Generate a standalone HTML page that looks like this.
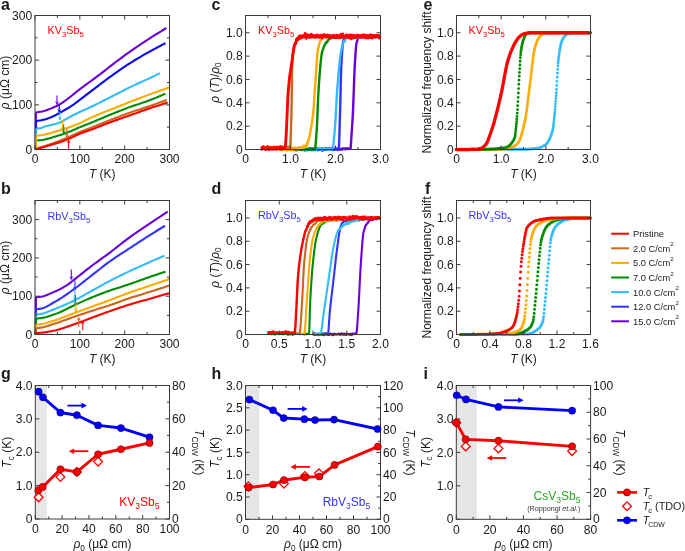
<!DOCTYPE html><html><head><meta charset="utf-8"><style>html,body{margin:0;padding:0;background:#fff;overflow:hidden}svg{display:block;will-change:transform}</style></head><body><svg width="685" height="551" viewBox="0 0 685 551" font-family='"Liberation Sans", sans-serif' fill="#1a1a1a">
<rect width="685" height="551" fill="#fff"/>
<path d="M35.9 149.5L35.9 113.98Q35.9 111.98 37.9 111.98L38.98 111.89 40.64 111.79 42.29 111.53 43.94 111.1 45.6 110.56 47.25 109.94 48.91 109.28 50.56 108.63 52.22 107.99 53.87 107.29 55.52 106.54 57.18 105.72 58.83 104.84 60.49 103.9 62.14 102.85 63.8 101.71 65.45 100.51 67.1 99.27 68.76 98.03 70.41 96.77 72.07 95.46 73.72 94.11 75.38 92.76 77.03 91.41 78.68 90.09 80.34 88.81 81.99 87.57 83.65 86.35 85.3 85.14 86.96 83.94 88.61 82.73 90.26 81.52 91.92 80.31 93.57 79.1 95.23 77.89 96.88 76.68 98.54 75.46 100.19 74.22 101.84 72.95 103.5 71.66 105.15 70.36 106.81 69.04 108.46 67.72 110.12 66.4 111.77 65.09 113.42 63.8 115.08 62.53 116.73 61.28 118.39 60.04 120.04 58.8 121.7 57.58 123.35 56.36 125 55.15 126.66 53.96 128.31 52.78 129.97 51.6 131.62 50.45 133.28 49.3 134.93 48.16 136.58 47.03 138.24 45.91 139.89 44.8 141.55 43.7 143.2 42.6 144.86 41.52 146.51 40.44 148.16 39.37 149.82 38.3 151.47 37.24 153.13 36.19 154.78 35.14 156.44 34.1 158.09 33.06 159.74 32.04 161.4 31.02 163.05 30.01 164.71 29 166.36 28.01" stroke="#6a00dd" stroke-width="2.1" fill="none" stroke-linejoin="round"/>
<path d="M35.9 149.5L35.9 122.69Q35.9 120.69 37.9 120.69L38.96 120.54 40.6 120.39 42.24 120.06 43.89 119.62 45.53 119.16 47.17 118.66 48.82 118.09 50.46 117.47 52.1 116.8 53.74 116.08 55.39 115.26 57.03 114.36 58.67 113.43 60.32 112.51 61.96 111.59 63.6 110.66 65.25 109.72 66.89 108.77 68.53 107.78 70.17 106.77 71.82 105.72 73.46 104.62 75.1 103.44 76.75 102.2 78.39 100.93 80.03 99.66 81.67 98.41 83.32 97.15 84.96 95.88 86.6 94.6 88.25 93.34 89.89 92.07 91.53 90.82 93.18 89.56 94.82 88.31 96.46 87.05 98.1 85.8 99.75 84.54 101.39 83.3 103.03 82.06 104.68 80.83 106.32 79.61 107.96 78.4 109.6 77.21 111.25 76.03 112.89 74.85 114.53 73.68 116.18 72.52 117.82 71.36 119.46 70.21 121.11 69.08 122.75 67.95 124.39 66.84 126.03 65.74 127.68 64.66 129.32 63.6 130.96 62.55 132.61 61.52 134.25 60.51 135.89 59.51 137.53 58.53 139.18 57.56 140.82 56.6 142.46 55.65 144.11 54.7 145.75 53.77 147.39 52.85 149.04 51.93 150.68 51.02 152.32 50.11 153.96 49.22 155.61 48.33 157.25 47.45 158.89 46.58 160.54 45.72 162.18 44.87 163.82 44.03 165.47 43.19" stroke="#0a0af5" stroke-width="2.1" fill="none" stroke-linejoin="round"/>
<path d="M35.9 149.5L35.9 130.51Q35.9 128.51 37.9 128.51L38.82 128.38 40.4 128.22 41.97 127.7 43.55 127 45.12 126.42 46.7 125.99 48.27 125.61 49.85 125.24 51.42 124.87 53 124.47 54.57 124.06 56.15 123.64 57.72 123.18 59.3 122.66 60.87 122 62.44 121.18 64.02 120.27 65.59 119.34 67.17 118.47 68.74 117.59 70.32 116.71 71.89 115.83 73.47 114.99 75.04 114.19 76.62 113.44 78.19 112.71 79.77 111.99 81.34 111.27 82.92 110.56 84.49 109.86 86.07 109.16 87.64 108.45 89.22 107.72 90.79 106.98 92.37 106.23 93.94 105.47 95.52 104.7 97.09 103.92 98.67 103.13 100.24 102.34 101.82 101.55 103.39 100.75 104.97 99.95 106.54 99.15 108.12 98.35 109.69 97.56 111.26 96.76 112.84 95.96 114.41 95.15 115.99 94.34 117.56 93.52 119.14 92.7 120.71 91.89 122.29 91.08 123.86 90.27 125.44 89.47 127.01 88.68 128.59 87.89 130.16 87.13 131.74 86.37 133.31 85.64 134.89 84.91 136.46 84.19 138.04 83.48 139.61 82.78 141.19 82.07 142.76 81.36 144.34 80.64 145.91 79.92 147.49 79.18 149.06 78.44 150.64 77.69 152.21 76.94 153.79 76.18 155.36 75.42 156.94 74.66 158.51 73.89 160.09 73.12" stroke="#33bbff" stroke-width="2.1" fill="none" stroke-linejoin="round"/>
<path d="M35.9 149.5L35.9 142.3Q35.9 140.3 37.9 140.3L38.96 140.24 40.6 140.17 42.24 139.97 43.89 139.66 45.53 139.28 47.17 138.87 48.82 138.47 50.46 138.05 52.1 137.6 53.74 137.11 55.39 136.59 57.03 136.06 58.67 135.53 60.32 134.99 61.96 134.44 63.6 133.88 65.25 133.3 66.89 132.71 68.53 132.1 70.17 131.46 71.82 130.8 73.46 130.08 75.1 129.33 76.75 128.56 78.39 127.81 80.03 127.09 81.67 126.42 83.32 125.78 84.96 125.15 86.6 124.52 88.25 123.89 89.89 123.25 91.53 122.58 93.18 121.9 94.82 121.22 96.46 120.52 98.1 119.82 99.75 119.11 101.39 118.41 103.03 117.7 104.68 117 106.32 116.31 107.96 115.62 109.6 114.95 111.25 114.29 112.89 113.63 114.53 112.97 116.18 112.32 117.82 111.67 119.46 111.02 121.11 110.38 122.75 109.75 124.39 109.12 126.03 108.5 127.68 107.88 129.32 107.27 130.96 106.67 132.61 106.09 134.25 105.52 135.89 104.97 137.53 104.42 139.18 103.88 140.82 103.33 142.46 102.79 144.11 102.23 145.75 101.66 147.39 101.08 149.04 100.48 150.68 99.85 152.32 99.21 153.96 98.56 155.61 97.9 157.25 97.22 158.89 96.53 160.54 95.83 162.18 95.12 163.82 94.4 165.47 93.67" stroke="#008c00" stroke-width="2.1" fill="none" stroke-linejoin="round"/>
<path d="M35.9 149.5L35.9 137.43Q35.9 135.43 37.9 135.43L39.06 135.37 40.75 135.29 42.45 135.06 44.14 134.72 45.84 134.3 47.53 133.87 49.22 133.45 50.92 133 52.61 132.51 54.31 131.99 56 131.45 57.69 130.91 59.39 130.38 61.08 129.86 62.78 129.34 64.47 128.82 66.16 128.29 67.86 127.75 69.55 127.18 71.25 126.58 72.94 125.96 74.63 125.3 76.33 124.62 78.02 123.91 79.72 123.17 81.41 122.4 83.11 121.57 84.8 120.69 86.49 119.81 88.19 118.95 89.88 118.13 91.58 117.37 93.27 116.63 94.96 115.91 96.66 115.2 98.35 114.51 100.05 113.83 101.74 113.15 103.43 112.48 105.13 111.81 106.82 111.14 108.52 110.47 110.21 109.79 111.9 109.11 113.6 108.42 115.29 107.74 116.99 107.06 118.68 106.38 120.37 105.7 122.07 105.03 123.76 104.35 125.46 103.68 127.15 103.01 128.84 102.35 130.54 101.69 132.23 101.03 133.93 100.38 135.62 99.72 137.31 99.07 139.01 98.43 140.7 97.78 142.4 97.14 144.09 96.5 145.78 95.87 147.48 95.24 149.17 94.62 150.87 94 152.56 93.38 154.25 92.77 155.95 92.16 157.64 91.55 159.34 90.95 161.03 90.35 162.72 89.76 164.42 89.16 166.11 88.58 167.81 87.99 169.5 87.41" stroke="#ffaa00" stroke-width="2.1" fill="none" stroke-linejoin="round"/>
<path d="M35.67 149.05 37.33 148.42 38.99 147.82 40.65 147.25 42.31 146.72 43.97 146.21 45.63 145.7 47.29 145.19 48.95 144.64 50.61 144.08 52.27 143.5 53.93 142.92 55.59 142.32 57.25 141.7 58.91 141.08 60.57 140.43 62.23 139.77 63.89 139.09 65.55 138.39 67.21 137.69 68.87 136.97 70.53 136.25 72.19 135.51 73.85 134.74 75.51 133.96 77.17 133.18 78.83 132.43 80.49 131.73 82.15 131.06 83.81 130.43 85.47 129.81 87.13 129.2 88.79 128.58 90.45 127.94 92.11 127.29 93.77 126.63 95.43 125.97 97.09 125.3 98.75 124.64 100.41 123.97 102.07 123.29 103.73 122.63 105.39 121.96 107.05 121.3 108.71 120.65 110.37 120 112.03 119.36 113.69 118.71 115.35 118.07 117.01 117.43 118.67 116.8 120.33 116.17 121.99 115.54 123.65 114.92 125.31 114.3 126.97 113.69 128.63 113.09 130.29 112.5 131.95 111.92 133.61 111.35 135.27 110.8 136.93 110.25 138.59 109.71 140.25 109.17 141.91 108.63 143.57 108.09 145.23 107.55 146.89 107 148.55 106.44 150.21 105.87 151.87 105.29 153.53 104.71 155.19 104.13 156.85 103.54 158.51 102.94 160.17 102.35 161.83 101.75 163.49 101.14 165.15 100.53 166.81 99.92" stroke="#cc6619" stroke-width="2.1" fill="none" stroke-linejoin="round"/>
<path d="M35.67 149.5 37.34 148.96 39.02 148.44 40.69 147.93 42.36 147.45 44.03 146.97 45.7 146.49 47.37 146.02 49.04 145.53 50.71 145.05 52.39 144.57 54.06 144.1 55.73 143.6 57.4 143.09 59.07 142.55 60.74 141.97 62.41 141.36 64.08 140.71 65.76 140.04 67.43 139.35 69.1 138.64 70.77 137.93 72.44 137.18 74.11 136.38 75.78 135.56 77.46 134.76 79.13 133.99 80.8 133.3 82.47 132.68 84.14 132.09 85.81 131.52 87.48 130.96 89.15 130.38 90.83 129.77 92.5 129.15 94.17 128.51 95.84 127.87 97.51 127.22 99.18 126.56 100.85 125.9 102.53 125.24 104.2 124.59 105.87 123.94 107.54 123.3 109.21 122.67 110.88 122.05 112.55 121.44 114.22 120.83 115.9 120.24 117.57 119.64 119.24 119.05 120.91 118.47 122.58 117.88 124.25 117.3 125.92 116.72 127.6 116.13 129.27 115.54 130.94 114.95 132.61 114.35 134.28 113.75 135.95 113.14 137.62 112.54 139.29 111.93 140.97 111.33 142.64 110.73 144.31 110.14 145.98 109.55 147.65 108.97 149.32 108.41 150.99 107.85 152.66 107.3 154.34 106.75 156.01 106.21 157.68 105.68 159.35 105.15 161.02 104.63 162.69 104.11 164.36 103.6 166.04 103.1 167.71 102.6" stroke="#ff0000" stroke-width="2.1" fill="none" stroke-linejoin="round"/>
<path d="M56.97 95.45L56.97 104.39" stroke="#6a00dd" stroke-width="1.1"/>
<path d="M55.67 101.59L56.97 104.39L58.27 101.59" stroke="#6a00dd" stroke-width="0.9" fill="none"/>
<path d="M59.21 103.49L59.21 111.98" stroke="#0a0af5" stroke-width="1.1"/>
<path d="M57.91 109.18L59.21 111.98L60.51 109.18" stroke="#0a0af5" stroke-width="0.9" fill="none"/>
<path d="M59.88 111.98L59.88 120.02" stroke="#33bbff" stroke-width="1.1"/>
<path d="M58.58 117.22L59.88 120.02L61.18 117.22" stroke="#33bbff" stroke-width="0.9" fill="none"/>
<path d="M62.57 120.47L62.57 130.29" stroke="#ffaa00" stroke-width="1.1"/>
<path d="M61.27 127.49L62.57 130.29L63.87 127.49" stroke="#ffaa00" stroke-width="0.9" fill="none"/>
<path d="M63.69 124.49L63.69 133.42" stroke="#008c00" stroke-width="1.1"/>
<path d="M62.39 130.62L63.69 133.42L64.99 130.62" stroke="#008c00" stroke-width="0.9" fill="none"/>
<path d="M66.83 128.51L66.83 136.99" stroke="#cc6619" stroke-width="1.1"/>
<path d="M65.53 134.19L66.83 136.99L68.13 134.19" stroke="#cc6619" stroke-width="0.9" fill="none"/>
<path d="M68.62 149.5L68.62 140.12" stroke="#ff0000" stroke-width="1.1"/>
<path d="M67.33 142.92L68.62 140.12L69.92 142.92" stroke="#ff0000" stroke-width="0.9" fill="none"/>
<rect x="35" y="15.5" width="134.5" height="134" fill="none" stroke="#3a3a3a" stroke-width="1"/>
<path d="M35 149.5v-4.0M35 15.5v4.0M79.83 149.5v-4.0M79.83 15.5v4.0M124.67 149.5v-4.0M124.67 15.5v4.0M169.5 149.5v-4.0M169.5 15.5v4.0M57.42 149.5v-2.5M57.42 15.5v2.5M102.25 149.5v-2.5M102.25 15.5v2.5M147.08 149.5v-2.5M147.08 15.5v2.5" stroke="#3a3a3a" stroke-width="1" fill="none"/>
<text x="35" y="163.1" text-anchor="middle" font-size="12.1">0</text>
<text x="79.83" y="163.1" text-anchor="middle" font-size="12.1">100</text>
<text x="124.67" y="163.1" text-anchor="middle" font-size="12.1">200</text>
<text x="169.5" y="163.1" text-anchor="middle" font-size="12.1">300</text>
<path d="M35 149.5h4.0M169.5 149.5h-4.0M35 104.83h4.0M169.5 104.83h-4.0M35 60.17h4.0M169.5 60.17h-4.0M35 15.5h4.0M169.5 15.5h-4.0M35 127.17h2.5M169.5 127.17h-2.5M35 82.5h2.5M169.5 82.5h-2.5M35 37.83h2.5M169.5 37.83h-2.5" stroke="#3a3a3a" stroke-width="1" fill="none"/>
<text x="32.2" y="153.6" text-anchor="end" font-size="12.1">0</text>
<text x="32.2" y="108.93" text-anchor="end" font-size="12.1">100</text>
<text x="32.2" y="64.27" text-anchor="end" font-size="12.1">200</text>
<text x="32.2" y="19.6" text-anchor="end" font-size="12.1">300</text>
<text x="47.5" y="34.3" font-size="10.8" fill="#ff0000" text-anchor="start"><tspan>KV</tspan><tspan font-size="7.78" dy="3.02">3</tspan><tspan dy="-3.02">Sb</tspan><tspan font-size="7.78" dy="3.02">5</tspan></text>
<path d="M35.9 334.5L35.9 298.98Q35.9 296.98 37.9 296.98L39.02 296.89 40.69 296.76 42.36 296.47 44.03 296.04 45.7 295.49 47.37 294.84 49.04 294.14 50.71 293.4 52.39 292.64 54.06 291.91 55.73 291.19 57.4 290.43 59.07 289.62 60.74 288.76 62.41 287.85 64.08 286.89 65.76 285.88 67.43 284.81 69.1 283.6 70.77 282.3 72.44 280.96 74.11 279.63 75.78 278.34 77.46 277.03 79.13 275.71 80.8 274.38 82.47 273.06 84.14 271.73 85.81 270.41 87.48 269.09 89.15 267.8 90.83 266.52 92.5 265.26 94.17 264.01 95.84 262.79 97.51 261.57 99.18 260.36 100.85 259.16 102.53 257.95 104.2 256.75 105.87 255.53 107.54 254.3 109.21 253.06 110.88 251.81 112.55 250.52 114.22 249.23 115.9 247.92 117.57 246.6 119.24 245.28 120.91 243.96 122.58 242.64 124.25 241.34 125.92 240.06 127.6 238.79 129.27 237.55 130.94 236.34 132.61 235.16 134.28 233.99 135.95 232.83 137.62 231.69 139.29 230.56 140.97 229.44 142.64 228.32 144.31 227.21 145.98 226.1 147.65 224.98 149.32 223.86 150.99 222.73 152.66 221.61 154.34 220.49 156.01 219.37 157.68 218.25 159.35 217.14 161.02 216.03 162.69 214.92 164.36 213.81 166.04 212.71 167.71 211.6" stroke="#6a00dd" stroke-width="2.1" fill="none" stroke-linejoin="round"/>
<path d="M35.9 334.5L35.9 311Q35.9 309 37.9 309L38.95 308.88 40.58 308.73 42.22 308.36 43.86 307.81 45.5 307.11 47.13 306.28 48.77 305.38 50.41 304.43 52.05 303.47 53.68 302.53 55.32 301.64 56.96 300.72 58.59 299.74 60.23 298.73 61.87 297.67 63.51 296.58 65.14 295.46 66.78 294.32 68.42 293.17 70.06 292 71.69 290.82 73.33 289.65 74.97 288.46 76.6 287.25 78.24 286.01 79.88 284.74 81.52 283.46 83.15 282.16 84.79 280.86 86.43 279.55 88.07 278.26 89.7 276.97 91.34 275.69 92.98 274.41 94.61 273.13 96.25 271.83 97.89 270.54 99.53 269.24 101.16 267.95 102.8 266.68 104.44 265.41 106.08 264.17 107.71 262.94 109.35 261.75 110.99 260.58 112.62 259.44 114.26 258.32 115.9 257.21 117.54 256.12 119.17 255.04 120.81 253.97 122.45 252.91 124.08 251.85 125.72 250.79 127.36 249.73 129 248.66 130.63 247.59 132.27 246.51 133.91 245.43 135.55 244.36 137.18 243.28 138.82 242.21 140.46 241.14 142.09 240.07 143.73 239.02 145.37 237.96 147.01 236.92 148.64 235.88 150.28 234.85 151.92 233.82 153.56 232.8 155.19 231.78 156.83 230.76 158.47 229.75 160.1 228.75 161.74 227.75 163.38 226.76 165.02 225.77" stroke="#3333ff" stroke-width="2.1" fill="none" stroke-linejoin="round"/>
<path d="M35.9 334.5L35.9 316.21Q35.9 314.21 37.9 314.21L38.94 314.06 40.57 313.9 42.2 313.61 43.83 313.19 45.46 312.67 47.09 312.08 48.73 311.43 50.36 310.76 51.99 310.08 53.62 309.43 55.25 308.81 56.88 308.18 58.51 307.54 60.15 306.88 61.78 306.21 63.41 305.51 65.04 304.8 66.67 304.08 68.3 303.34 69.94 302.58 71.57 301.82 73.2 301.04 74.83 300.24 76.46 299.41 78.09 298.55 79.73 297.66 81.36 296.75 82.99 295.82 84.62 294.89 86.25 293.95 87.88 293.01 89.52 292.09 91.15 291.18 92.78 290.28 94.41 289.37 96.04 288.46 97.67 287.55 99.3 286.64 100.94 285.73 102.57 284.83 104.2 283.93 105.83 283.04 107.46 282.17 109.09 281.31 110.73 280.46 112.36 279.62 113.99 278.78 115.62 277.96 117.25 277.14 118.88 276.33 120.52 275.52 122.15 274.72 123.78 273.93 125.41 273.15 127.04 272.37 128.67 271.59 130.3 270.82 131.94 270.06 133.57 269.31 135.2 268.57 136.83 267.84 138.46 267.11 140.09 266.38 141.73 265.66 143.36 264.94 144.99 264.22 146.62 263.49 148.25 262.77 149.88 262.05 151.52 261.33 153.15 260.61 154.78 259.89 156.41 259.18 158.04 258.47 159.67 257.75 161.31 257.05 162.94 256.34 164.57 255.63" stroke="#33bbff" stroke-width="2.1" fill="none" stroke-linejoin="round"/>
<path d="M35.9 334.5L35.9 320.42Q35.9 318.42 37.9 318.42L38.96 318.27 40.6 318.12 42.24 317.88 43.89 317.55 45.53 317.15 47.17 316.69 48.82 316.18 50.46 315.64 52.1 315.09 53.74 314.54 55.39 313.98 57.03 313.38 58.67 312.72 60.32 312.02 61.96 311.27 63.6 310.49 65.25 309.69 66.89 308.88 68.53 308.06 70.17 307.25 71.82 306.45 73.46 305.67 75.1 304.92 76.75 304.16 78.39 303.41 80.03 302.65 81.67 301.89 83.32 301.13 84.96 300.39 86.6 299.65 88.25 298.93 89.89 298.23 91.53 297.54 93.18 296.87 94.82 296.21 96.46 295.56 98.1 294.92 99.75 294.29 101.39 293.67 103.03 293.06 104.68 292.45 106.32 291.85 107.96 291.26 109.6 290.68 111.25 290.11 112.89 289.55 114.53 289 116.18 288.46 117.82 287.94 119.46 287.41 121.11 286.89 122.75 286.36 124.39 285.84 126.03 285.3 127.68 284.76 129.32 284.21 130.96 283.65 132.61 283.07 134.25 282.48 135.89 281.88 137.53 281.28 139.18 280.68 140.82 280.08 142.46 279.48 144.11 278.89 145.75 278.3 147.39 277.73 149.04 277.16 150.68 276.6 152.32 276.04 153.96 275.49 155.61 274.94 157.25 274.39 158.89 273.85 160.54 273.31 162.18 272.77 163.82 272.24 165.47 271.71" stroke="#008c00" stroke-width="2.1" fill="none" stroke-linejoin="round"/>
<path d="M35.9 334.5L35.9 326.55Q35.9 324.55 37.9 324.55L39.06 324.39 40.75 324.23 42.45 323.96 44.14 323.59 45.84 323.15 47.53 322.66 49.22 322.12 50.92 321.56 52.61 321 54.31 320.46 56 319.94 57.69 319.38 59.39 318.79 61.08 318.18 62.78 317.55 64.47 316.9 66.16 316.25 67.86 315.59 69.55 314.93 71.25 314.27 72.94 313.62 74.63 312.99 76.33 312.37 78.02 311.74 79.72 311.12 81.41 310.49 83.11 309.86 84.8 309.24 86.49 308.61 88.19 307.99 89.88 307.36 91.58 306.74 93.27 306.12 94.96 305.5 96.66 304.88 98.35 304.27 100.05 303.65 101.74 303.03 103.43 302.42 105.13 301.8 106.82 301.17 108.52 300.55 110.21 299.92 111.9 299.28 113.6 298.63 115.29 297.98 116.99 297.33 118.68 296.67 120.37 296.02 122.07 295.36 123.76 294.71 125.46 294.07 127.15 293.44 128.84 292.82 130.54 292.21 132.23 291.61 133.93 291.03 135.62 290.45 137.31 289.88 139.01 289.31 140.7 288.75 142.4 288.19 144.09 287.63 145.78 287.07 147.48 286.5 149.17 285.93 150.87 285.35 152.56 284.78 154.25 284.2 155.95 283.62 157.64 283.05 159.34 282.47 161.03 281.89 162.72 281.31 164.42 280.73 166.11 280.15 167.81 279.57 169.5 278.99" stroke="#ffaa00" stroke-width="2.1" fill="none" stroke-linejoin="round"/>
<path d="M35.9 334.5L35.9 329.99Q35.9 327.99 37.9 327.99L39.06 327.83 40.75 327.67 42.45 327.38 44.14 327 45.84 326.53 47.53 326 49.22 325.43 50.92 324.85 52.61 324.27 54.31 323.72 56 323.19 57.69 322.64 59.39 322.07 61.08 321.48 62.78 320.88 64.47 320.27 66.16 319.66 67.86 319.04 69.55 318.43 71.25 317.82 72.94 317.22 74.63 316.64 76.33 316.06 78.02 315.48 79.72 314.91 81.41 314.34 83.11 313.77 84.8 313.2 86.49 312.64 88.19 312.08 89.88 311.52 91.58 310.97 93.27 310.43 94.96 309.9 96.66 309.37 98.35 308.85 100.05 308.33 101.74 307.81 103.43 307.28 105.13 306.75 106.82 306.21 108.52 305.66 110.21 305.1 111.9 304.52 113.6 303.92 115.29 303.32 116.99 302.7 118.68 302.08 120.37 301.46 122.07 300.83 123.76 300.21 125.46 299.6 127.15 299 128.84 298.42 130.54 297.85 132.23 297.3 133.93 296.76 135.62 296.22 137.31 295.7 139.01 295.18 140.7 294.66 142.4 294.15 144.09 293.63 145.78 293.11 147.48 292.58 149.17 292.05 150.87 291.51 152.56 290.97 154.25 290.43 155.95 289.89 157.64 289.35 159.34 288.8 161.03 288.25 162.72 287.71 164.42 287.15 166.11 286.6 167.81 286.05 169.5 285.49" stroke="#cc6619" stroke-width="2.1" fill="none" stroke-linejoin="round"/>
<path d="M35.67 333.08 37.37 333.02 39.06 332.92 40.75 332.79 42.45 332.62 44.14 332.4 45.84 332.16 47.53 331.88 49.22 331.58 50.92 331.25 52.61 330.92 54.31 330.57 56 330.2 57.69 329.78 59.39 329.31 61.08 328.8 62.78 328.26 64.47 327.69 66.16 327.11 67.86 326.51 69.55 325.9 71.25 325.29 72.94 324.69 74.63 324.1 76.33 323.51 78.02 322.9 79.72 322.28 81.41 321.65 83.11 321.02 84.8 320.38 86.49 319.74 88.19 319.1 89.88 318.47 91.58 317.84 93.27 317.22 94.96 316.59 96.66 315.96 98.35 315.33 100.05 314.7 101.74 314.08 103.43 313.45 105.13 312.84 106.82 312.23 108.52 311.62 110.21 311.03 111.9 310.44 113.6 309.85 115.29 309.26 116.99 308.68 118.68 308.1 120.37 307.53 122.07 306.97 123.76 306.41 125.46 305.86 127.15 305.31 128.84 304.78 130.54 304.26 132.23 303.74 133.93 303.24 135.62 302.75 137.31 302.27 139.01 301.79 140.7 301.31 142.4 300.84 144.09 300.37 145.78 299.89 147.48 299.42 149.17 298.94 150.87 298.45 152.56 297.97 154.25 297.49 155.95 297.01 157.64 296.52 159.34 296.04 161.03 295.56 162.72 295.08 164.42 294.6 166.11 294.11 167.81 293.63 169.5 293.15" stroke="#ff0000" stroke-width="2.1" fill="none" stroke-linejoin="round"/>
<path d="M71.31 269.41L71.31 279.37" stroke="#6a00dd" stroke-width="1.1"/>
<path d="M70.02 276.57L71.31 279.37L72.61 276.57" stroke="#6a00dd" stroke-width="0.9" fill="none"/>
<path d="M74.9 279.75L74.9 289.71" stroke="#3333ff" stroke-width="1.1"/>
<path d="M73.6 286.91L74.9 289.71L76.2 286.91" stroke="#3333ff" stroke-width="0.9" fill="none"/>
<path d="M74.9 289.71L74.9 300.43" stroke="#33bbff" stroke-width="1.1"/>
<path d="M73.6 297.63L74.9 300.43L76.2 297.63" stroke="#33bbff" stroke-width="0.9" fill="none"/>
<path d="M75.35 295.07L75.35 305.02" stroke="#008c00" stroke-width="1.1"/>
<path d="M74.05 302.22L75.35 305.02L76.65 302.22" stroke="#008c00" stroke-width="0.9" fill="none"/>
<path d="M75.8 302.72L75.8 312.29" stroke="#ffaa00" stroke-width="1.1"/>
<path d="M74.5 309.49L75.8 312.29L77.1 309.49" stroke="#ffaa00" stroke-width="0.9" fill="none"/>
<path d="M78.71 326.84L78.71 317.65" stroke="#cc6619" stroke-width="1.1"/>
<path d="M77.41 320.45L78.71 317.65L80.01 320.45" stroke="#cc6619" stroke-width="0.9" fill="none"/>
<path d="M82.75 330.29L82.75 321.1" stroke="#ff0000" stroke-width="1.1"/>
<path d="M81.45 323.9L82.75 321.1L84.05 323.9" stroke="#ff0000" stroke-width="0.9" fill="none"/>
<rect x="35" y="200.5" width="134.5" height="134" fill="none" stroke="#3a3a3a" stroke-width="1"/>
<path d="M35 334.5v-4.0M35 200.5v4.0M79.83 334.5v-4.0M79.83 200.5v4.0M124.67 334.5v-4.0M124.67 200.5v4.0M169.5 334.5v-4.0M169.5 200.5v4.0M57.42 334.5v-2.5M57.42 200.5v2.5M102.25 334.5v-2.5M102.25 200.5v2.5M147.08 334.5v-2.5M147.08 200.5v2.5" stroke="#3a3a3a" stroke-width="1" fill="none"/>
<text x="35" y="348.1" text-anchor="middle" font-size="12.1">0</text>
<text x="79.83" y="348.1" text-anchor="middle" font-size="12.1">100</text>
<text x="124.67" y="348.1" text-anchor="middle" font-size="12.1">200</text>
<text x="169.5" y="348.1" text-anchor="middle" font-size="12.1">300</text>
<path d="M35 334.5h4.0M169.5 334.5h-4.0M35 296.21h4.0M169.5 296.21h-4.0M35 257.93h4.0M169.5 257.93h-4.0M35 219.64h4.0M169.5 219.64h-4.0M35 315.36h2.5M169.5 315.36h-2.5M35 277.07h2.5M169.5 277.07h-2.5M35 238.79h2.5M169.5 238.79h-2.5" stroke="#3a3a3a" stroke-width="1" fill="none"/>
<text x="32.2" y="338.6" text-anchor="end" font-size="12.1">0</text>
<text x="32.2" y="300.31" text-anchor="end" font-size="12.1">100</text>
<text x="32.2" y="262.03" text-anchor="end" font-size="12.1">200</text>
<text x="32.2" y="223.74" text-anchor="end" font-size="12.1">300</text>
<text x="47.5" y="219.5" font-size="10.8" fill="#3333ff" text-anchor="start"><tspan>RbV</tspan><tspan font-size="7.78" dy="3.02">3</tspan><tspan dy="-3.02">Sb</tspan><tspan font-size="7.78" dy="3.02">5</tspan></text>
<text transform="translate(9.2 82.5) rotate(-90)" text-anchor="middle" font-size="12"><tspan font-style="italic">ρ</tspan> (μΩ cm)</text>
<text x="102.25" y="177.9" text-anchor="middle" font-size="12"><tspan font-style="italic">T</tspan> (K)</text>
<text transform="translate(9.2 267.5) rotate(-90)" text-anchor="middle" font-size="12"><tspan font-style="italic">ρ</tspan> (μΩ cm)</text>
<text x="102.25" y="362.9" text-anchor="middle" font-size="12"><tspan font-style="italic">T</tspan> (K)</text>
<text x="1" y="9.5" font-size="16" font-weight="bold">a</text>
<text x="1" y="194" font-size="16" font-weight="bold">b</text>
<text x="211.5" y="9.5" font-size="16" font-weight="bold">c</text>
<text x="211.5" y="193.5" font-size="16" font-weight="bold">d</text>
<text x="423.5" y="9.5" font-size="16" font-weight="bold">e</text>
<text x="425" y="193.5" font-size="16" font-weight="bold">f</text>
<text x="1" y="378.7" font-size="16" font-weight="bold">g</text>
<text x="211.5" y="379" font-size="16" font-weight="bold">h</text>
<text x="423.5" y="379" font-size="16" font-weight="bold">i</text>
<path d="M295 149.59 295.19 149.49 295.39 150.1 295.58 149.6 295.77 149.75 295.96 150.09 296.16 150.04 296.35 150.19 296.54 148.94 296.74 148.83 296.93 148.71 297.12 149.55 297.31 149.76 297.51 149.93 297.7 149.95 297.89 149.68 298.09 149.49 298.28 149.17 298.47 149.33 298.66 149.27 298.86 149.13 299.05 148.96 299.24 149.08 299.44 149.48 299.63 149.48 299.82 148.91 300.01 148.93 300.21 149.12 300.4 149.33 300.59 149.48 300.79 149.49 300.98 149.51 301.17 149.17 301.36 149.08 301.56 149.13 301.75 149.92 301.94 149.71 302.14 150.09 302.33 149.81 302.52 149.99 302.71 149.6 302.91 149.31 303.1 149.63 303.29 149.78 303.49 149.69 303.68 149.11 303.87 148.94 304.06 148.88 304.26 148.95 304.45 149.17 304.64 149.43 304.84 149.56 305.03 149.37 305.22 149.2 305.41 149.52 305.61 149.6 305.8 150.14 305.99 149.79 306.19 149.73 306.38 149.53 306.57 149.67 306.76 150.01 306.96 149.45 307.15 149.94 307.34 149.93 307.54 149.94 307.73 149.19 307.92 149.48 308.11 149.76 308.31 149.95 308.5 149.59 308.69 149.1 308.89 149.46 309.08 149.23 309.27 149.85 309.46 149.24 309.66 149.32 309.85 149.17 310.04 149.89 310.24 149.49 310.43 149.23 310.62 148.65 310.81 148.78 311.01 148.87 311.2 149.2 311.39 149.65 311.59 149.91 311.78 149.44 311.97 149.6 312.16 149.55 312.36 149.94 312.55 149.55 312.74 149.27 312.94 149.49 313.13 149.94 313.32 150.08 313.51 149.5 313.71 148.92 313.9 148.87 314.09 149.22 314.29 149.33 314.48 149.43 314.67 149.17 314.86 149.42 315.06 149.33 315.25 149.55 315.44 149.23 315.64 149.21 315.83 148.59 316.02 148.36 316.21 148.06 316.41 149.13 316.6 149.56 316.79 150.05 316.99 149.45 317.18 149.9 317.37 149.48 317.56 149.36 317.76 149.13 317.95 149.63 318.14 150.06 318.34 149.75 318.53 149.37 318.72 148.7 318.91 148.76 319.11 148.72 319.3 149.17 319.49 148.71 319.69 148.71 319.88 148.43 320.07 149.09 320.26 149.3 320.46 149.81 320.65 149.21 320.84 149.01 321.04 148.89 321.23 149.34 321.42 149.38 321.61 149.47 321.81 149.58 322 149.58 322.19 148.84 322.39 148.68 322.58 148.92 322.77 149.76 322.96 150.02 323.16 149.76 323.35 149.29 323.54 148.97 323.74 149.02 323.93 149.19 324.12 149.15 324.31 149.59 324.51 149.72 324.7 149.72 324.89 149.55 325.09 149.55 325.28 149.76 325.47 149.66 325.66 149.35 325.86 149.25 326.05 149.2 326.24 149.21 326.44 148.96 326.63 148.53 326.82 149.21 327.01 149.15 327.21 149.66 327.4 149.14 327.59 149.14 327.79 148.77 327.98 148.56 328.17 148.72 328.36 148.59 328.56 148.9 328.75 148.97 328.94 149.15 329.14 149.21 329.33 148.67 329.52 148.62 329.71 147.98 329.91 148.49 330.1 148.81 330.29 149.28 330.49 149.1 330.68 149.15 330.87 149.09 331.06 149.27 331.26 148.75 331.45 148.99 331.64 148.74 331.84 149.27 332.03 149.33 332.22 149.74 332.41 149.87 332.61 149.61 332.8 149.2 332.99 148.88 333.19 148.76 333.38 148.62 333.57 148.59 333.76 148.69 333.96 149.14 334.15 149.57 334.34 149.44 334.54 149.78 334.73 149.25 334.92 149.43 335.11 148.75 335.31 148.92 335.5 149.1 335.69 149.28 335.89 149.39 336.08 149.24 336.27 149.31 336.46 149.21 336.66 149.21 336.85 149.41 337.04 149.42 337.24 149.87 337.43 149.71 337.62 149.95 337.81 149.18 338.01 148.85 338.2 149.02 338.39 149.24 338.59 149.57 338.78 149.35 338.97 149.26 339.16 149.34 339.36 149.5 339.55 149.68 339.74 149.61 339.94 149.17 340.13 149.39 340.32 149.21 340.51 149.06 340.71 149.04 340.9 149.33 341.09 149.52 341.29 149.38 341.48 148.82 341.67 148.75 341.86 148.85 342.06 149.43 342.25 149.49 342.44 148.72 342.64 148.57 342.83 148.53 343.02 148.94 343.21 148.9 343.41 148.4 343.6 148.64 343.79 148.45 343.99 148.94 344.18 148.67 344.37 149.12 344.56 148.74 344.76 148.91 344.95 148.62 345.14 149.25 345.34 149.39 345.53 149.26 345.72 148.81 345.91 148.46 346.11 148.31 346.3 148.37 346.49 148.53 346.69 148.62 346.88 148.64 347.07 148.67 347.26 148.69 347.46 148.52 347.65 148.44 347.84 148.69 348.04 148.82 348.23 148.43 348.42 148.39 348.61 148.58 348.81 149.05 349 148.71 349.19 149.11 349.39 148.99 349.58 149 349.77 148.75 349.96 148.49 350.16 148.64 350.35 148.57 350.54 148.26 350.74 147.09 350.93 144.67 351.12 141.29 351.31 138.07 351.51 134.77 351.7 131.95 351.89 129.16 352.09 126.49 352.28 123.72 352.47 120.76 352.66 117.51 352.86 113.94 353.05 109.91 353.24 105.25 353.44 100.15 353.63 94.81 353.82 89.39 354.01 83.87 354.21 78.56 354.4 73.56 354.59 69.09 354.79 65.27 354.98 62.17 355.17 59.18 355.36 56.14 355.56 53.15 355.75 50.38 355.94 47.9 356.14 45.83 356.33 43.99 356.52 42.89 356.71 41.97 356.91 41.6 357.1 41.16 357.29 40.54 357.49 39.9 357.68 39.22 357.87 38.47 358.06 37.83 358.26 36.59 358.45 36.27 358.64 36.21 358.84 36.62 359.03 36.73 359.22 36.73 359.41 36.64 359.61 36.89 359.8 37.44 359.99 37.49 360.19 37.44 360.38 36.37 360.57 36.7 360.76 36.82 360.96 36.79 361.15 36.88 361.34 36.54 361.54 36.55 361.73 36.27 361.92 36.32 362.11 36.62 362.31 36.45 362.5 36.6 362.69 36.48 362.89 36.53 363.08 35.78 363.27 36 363.46 36.33 363.66 36.7 363.85 36.7 364.04 36.41 364.24 36.55 364.43 36.17 364.62 36.38 364.81 36.43 365.01 37.29 365.2 37.34 365.39 36.95 365.59 36.5 365.78 36.45 365.97 37.09 366.16 36.79 366.36 36.58 366.55 36.56 366.74 36.53 366.94 36.51 367.13 36.05 367.32 36.35 367.51 36 367.71 36.07 367.9 35.94 368.09 36.47 368.29 36.61 368.48 36.38 368.67 36.32 368.86 36 369.06 36.06 369.25 35.68 369.44 35.74 369.64 35.88 369.83 36.64 370.02 36.76 370.21 36.55 370.41 36.07 370.6 36 370.79 36.29 370.99 36.42 371.18 36.76 371.37 36.33 371.56 36.2 371.76 36.09 371.95 36.72 372.14 36.79 372.34 36.33 372.53 35.91 372.72 36.04 372.91 36.04 373.11 35.82 373.3 35.42 373.49 35.56 373.69 35.62 373.88 35.72 374.07 35.73 374.26 36.18 374.46 35.95 374.65 36.08 374.84 35.42 375.04 36.25 375.23 36.13 375.42 36.38 375.61 35.98 375.81 36.04 376 36.09 376.19 35.87 376.39 36.1 376.58 36.31 376.77 36.21 376.96 35.78 377.16 35.72 377.35 35.94 377.54 36.19 377.74 35.97 377.93 36.24 378.12 36.59 378.31 36.81 378.51 36.82 378.7 36.64 378.89 36.65 379.09 36.28 379.28 36.4 379.47 36.23 379.66 36.75 379.86 36.38 380.05 36.93 380.24 36.82 380.44 36.94" stroke="#6a00dd" stroke-width="2.4" fill="none" stroke-linejoin="round"/>
<path d="M299.5 149.37 299.69 149.56 299.89 149.81 300.08 149.6 300.27 149.43 300.46 149.33 300.66 149.19 300.85 149.35 301.04 149.45 301.24 149.81 301.43 149.37 301.62 149.03 301.81 148.61 302.01 148.89 302.2 149.15 302.39 149.25 302.59 149.34 302.78 149.1 302.97 149.13 303.16 149.2 303.36 149.42 303.55 149.61 303.74 149.04 303.94 148.42 304.13 148.41 304.32 148.81 304.51 149.95 304.71 149.87 304.9 149.88 305.09 149.59 305.29 149.46 305.48 149.82 305.67 149.62 305.86 149.77 306.06 149.69 306.25 149.44 306.44 149.22 306.64 149.26 306.83 149.78 307.02 149.89 307.21 149.57 307.41 149.52 307.6 149.73 307.79 149.75 307.99 149.49 308.18 149.23 308.37 149.11 308.56 148.67 308.76 148.54 308.95 148.47 309.14 148.63 309.34 148.64 309.53 148.63 309.72 149.16 309.91 149.27 310.11 149.42 310.3 148.75 310.49 148.93 310.69 148.82 310.88 149.12 311.07 148.75 311.26 148.83 311.46 148.97 311.65 149.28 311.84 149.43 312.04 149.32 312.23 149.4 312.42 149.23 312.61 148.81 312.81 148.91 313 148.96 313.19 149.45 313.39 149.2 313.58 149.48 313.77 149.59 313.96 149.76 314.16 149.35 314.35 149.2 314.54 149.31 314.74 149.63 314.93 149.5 315.12 149.04 315.31 148.77 315.51 148.84 315.7 149.07 315.89 149.36 316.09 149.48 316.28 149.64 316.47 149.35 316.66 149.28 316.86 149.5 317.05 149.31 317.24 148.9 317.44 148.68 317.63 148.84 317.82 149.17 318.01 148.93 318.21 149.36 318.4 149.05 318.59 149.34 318.79 148.69 318.98 149.05 319.17 149.03 319.36 149.35 319.56 149.16 319.75 149.27 319.94 149.32 320.14 149.64 320.33 149.84 320.52 149.44 320.71 149.19 320.91 148.79 321.1 148.82 321.29 149.18 321.49 149.19 321.68 149.06 321.87 148.6 322.06 149.1 322.26 150.28 322.45 150.75 322.64 149.98 322.84 149.31 323.03 149.11 323.22 149.22 323.41 149.31 323.61 149.21 323.8 149.16 323.99 148.84 324.19 148.8 324.38 149.12 324.57 149.1 324.76 149.29 324.96 148.85 325.15 148.36 325.34 148.43 325.54 149.24 325.73 149.94 325.92 149.68 326.11 148.92 326.31 148.56 326.5 148.83 326.69 149.26 326.89 149.21 327.08 149.28 327.27 148.84 327.46 149.18 327.66 148.75 327.85 148.83 328.04 148.6 328.24 148.58 328.43 148.97 328.62 149.08 328.81 149.27 329.01 148.96 329.2 148.74 329.39 148.8 329.59 149.04 329.78 149.49 329.97 149.5 330.16 149.15 330.36 149.17 330.55 148.82 330.74 148.93 330.94 148.79 331.13 149.36 331.32 149.37 331.51 149.15 331.71 149.25 331.9 149.03 332.09 148.8 332.29 148.3 332.48 148.46 332.67 148.28 332.86 148.07 333.06 148.39 333.25 148.95 333.44 149.27 333.64 149.1 333.83 149.64 334.02 149.42 334.21 149.53 334.41 148.94 334.6 149.14 334.79 148.79 334.99 148.89 335.18 149.04 335.37 149.12 335.56 148.72 335.76 148.6 335.95 148.4 336.14 148.66 336.34 148.71 336.53 148.67 336.72 148.92 336.91 148.55 337.11 149.02 337.3 148.72 337.49 149.24 337.69 149.32 337.88 149.17 338.07 148.83 338.26 148.62 338.46 148.97 338.65 148.91 338.84 148.04 339.04 144.95 339.23 139.77 339.42 133.85 339.61 127.34 339.81 120.75 340 114.53 340.19 107.85 340.39 99.91 340.58 91.4 340.77 82.91 340.96 75.23 341.16 68.83 341.35 64.38 341.54 61.07 341.74 58 341.93 55 342.12 52.2 342.31 49.5 342.51 47.14 342.7 45.2 342.89 43.39 343.09 42.35 343.28 40.82 343.47 40.15 343.66 39.28 343.86 38.48 344.05 37.87 344.24 37.18 344.44 37.42 344.63 37.41 344.82 37.36 345.01 36.75 345.21 36.58 345.4 36.67 345.59 37.23 345.79 36.99 345.98 36.68 346.17 36.26 346.36 36.28 346.56 36.77 346.75 36.65 346.94 36.33 347.14 35.87 347.33 35.89 347.52 36.38 347.71 36.1 347.91 36.18 348.1 35.91 348.29 36.15 348.49 36.64 348.68 36.63 348.87 36.83 349.06 36.24 349.26 35.91 349.45 35.77 349.64 36.28 349.84 36.67 350.03 36.74 350.22 36.27 350.41 36.49 350.61 36.93 350.8 36.84 350.99 36.46 351.19 36.07 351.38 36.6 351.57 36.27 351.76 36.94 351.96 36.62 352.15 36.55 352.34 35.91 352.54 35.77 352.73 36.53 352.92 36.18 353.11 36.54 353.31 36.2 353.5 36.49 353.69 36.43 353.89 36.28 354.08 36.65 354.27 36.56 354.46 36.77 354.66 36.54 354.85 36.27 355.04 36.05 355.24 36.02 355.43 36.26 355.62 36.59 355.81 36.61 356.01 36.29 356.2 36.22 356.39 36.04 356.59 36.25 356.78 36.4 356.97 36.29 357.16 36.51 357.36 36.32 357.55 36.17 357.74 36.18 357.94 36.2 358.13 36.92 358.32 36.78 358.51 37.11 358.71 36.83 358.9 36.84 359.09 36.46 359.29 36 359.48 35.81 359.67 35.69 359.86 36.07 360.06 36.19 360.25 36.54 360.44 36.95 360.64 36.88 360.83 36.3 361.02 35.77 361.21 35.91 361.41 35.91 361.6 36.12 361.79 36.14 361.99 36.81 362.18 36.93 362.37 36.84 362.56 36.09 362.76 35.92 362.95 36.1 363.14 36.71 363.34 36.71 363.53 36.87 363.72 36.7 363.91 36.48 364.11 36.01 364.3 35.9 364.49 36.36 364.69 36.83 364.88 36.67 365.07 36.12 365.26 36.08 365.46 36.33 365.65 36.58 365.84 36.1 366.04 36.1 366.23 36.22 366.42 36.3 366.61 36.31 366.81 36.21 367 36.68 367.19 37.42 367.39 37.59 367.58 37.54 367.77 36.78 367.96 36.43 368.16 35.99 368.35 36.13 368.54 36.29 368.74 36.07 368.93 36.16 369.12 35.96 369.31 36.07 369.51 35.84 369.7 35.71 369.89 36.04 370.09 35.89 370.28 36.44 370.47 36.45 370.66 36.92 370.86 36.6 371.05 36.64 371.24 36.38 371.44 36.75 371.63 36.28 371.82 35.86 372.01 35.55 372.21 35.41 372.4 35.71 372.59 35.26 372.79 35.62 372.98 36.11 373.17 36.27 373.36 36.33 373.56 36.2 373.75 36.7 373.94 37.05 374.14 36.85 374.33 36.95 374.52 36.22 374.71 36.03 374.91 36.16 375.1 36.86 375.29 37.15 375.49 37.21 375.68 36.88 375.87 36.76 376.06 36.49 376.26 36.6 376.45 36.47 376.64 35.96 376.84 35.48 377.03 35.59 377.22 35.72 377.41 36.24 377.61 36.15 377.8 36.58 377.99 36.23 378.19 36.62 378.38 36.62 378.57 36.79 378.76 36.37 378.96 36.48 379.15 36.61 379.34 36.71 379.54 36.32 379.73 36.39 379.92 36.4 380.11 36.51 380.31 36.32" stroke="#3333ff" stroke-width="2.4" fill="none" stroke-linejoin="round"/>
<path d="M304 148.91 304.19 149.21 304.39 150.05 304.58 150.16 304.77 149.57 304.96 149.02 305.16 148.83 305.35 149.22 305.54 149.58 305.74 149.61 305.93 149.47 306.12 148.99 306.31 149.48 306.51 149.46 306.7 149.77 306.89 149.25 307.09 149.43 307.28 149.42 307.47 149.75 307.66 149.31 307.86 149.16 308.05 149.2 308.24 149.73 308.44 149.98 308.63 149.46 308.82 149.64 309.01 149.6 309.21 149.79 309.4 149.08 309.59 148.92 309.79 148.88 309.98 148.98 310.17 148.71 310.36 148.88 310.56 148.67 310.75 148.85 310.94 148.49 311.14 149.13 311.33 148.96 311.52 149.6 311.71 149.69 311.91 149.79 312.1 149.69 312.29 149.23 312.49 149.59 312.68 149.02 312.87 149.12 313.06 149.13 313.26 149.46 313.45 149.25 313.64 149.16 313.84 149.08 314.03 148.8 314.22 148.42 314.41 148.54 314.61 149.14 314.8 149.21 314.99 149.56 315.19 150.13 315.38 150.42 315.57 150.31 315.76 149.19 315.96 149 316.15 148.97 316.34 149.65 316.54 149.56 316.73 149.52 316.92 149.38 317.11 149.52 317.31 149.3 317.5 149.14 317.69 149.09 317.89 148.8 318.08 148.42 318.27 148.83 318.46 148.53 318.66 148.89 318.85 148.21 319.04 148.98 319.24 148.93 319.43 149.17 319.62 148.97 319.81 148.84 320.01 148.74 320.2 149 320.39 149.22 320.59 149.19 320.78 148.8 320.97 148.84 321.16 149.08 321.36 149.27 321.55 149.44 321.74 149.68 321.94 149.27 322.13 149.1 322.32 148.78 322.51 149.31 322.71 148.91 322.9 148.52 323.09 148.4 323.29 148.58 323.48 149.16 323.67 148.69 323.86 148.59 324.06 148.61 324.25 148.72 324.44 148.85 324.64 148.56 324.83 148.76 325.02 149 325.21 149.22 325.41 149.15 325.6 149 325.79 149.1 325.99 148.76 326.18 148.8 326.37 148.7 326.56 149.34 326.76 149.12 326.95 148.76 327.14 148.54 327.34 148.49 327.53 149.07 327.72 149.21 327.91 149.51 328.11 149.16 328.3 148.96 328.49 149.32 328.69 148.59 328.88 148.9 329.07 148.34 329.26 148.87 329.46 148.47 329.65 148.49 329.84 149.36 330.04 149.81 330.23 149.68 330.42 149.21 330.61 149.2 330.81 149.93 331 149.42 331.19 149.06 331.39 148.71 331.58 149.02 331.77 149.16 331.96 149.21 332.16 149.24 332.35 149.16 332.54 148.57 332.74 147.64 332.93 146.79 333.12 145.85 333.31 144.63 333.51 143.04 333.7 141.29 333.89 139.35 334.09 137.36 334.28 135.27 334.47 133.29 334.66 131.33 334.86 129.03 335.05 126.41 335.24 123.44 335.44 120.3 335.63 117.02 335.82 113.66 336.01 110.16 336.21 106.63 336.4 102.98 336.59 99.55 336.79 96.28 336.98 93.27 337.17 90.44 337.36 87.88 337.56 85.47 337.75 83.13 337.94 80.83 338.14 78.52 338.33 76.22 338.52 73.96 338.71 71.75 338.91 69.68 339.1 67.68 339.29 65.77 339.49 63.81 339.68 61.84 339.87 59.96 340.06 58.34 340.26 56.94 340.45 55.53 340.64 54.16 340.84 52.98 341.03 51.91 341.22 50.9 341.41 49.77 341.61 48.85 341.8 47.9 341.99 47.07 342.19 46.31 342.38 45.58 342.57 44.91 342.76 44.18 342.96 43.76 343.15 43.44 343.34 43.02 343.54 42.14 343.73 41.13 343.92 40.73 344.11 41.06 344.31 41.27 344.5 41.38 344.69 40.76 344.89 40.84 345.08 40.47 345.27 40.16 345.46 39.65 345.66 39.4 345.85 38.97 346.04 38.54 346.24 38.14 346.43 38 346.62 37.76 346.81 37.76 347.01 37.95 347.2 37.63 347.39 37.72 347.59 37.69 347.78 37.74 347.97 37.72 348.16 37.41 348.36 37.28 348.55 37.07 348.74 37.13 348.94 37.14 349.13 36.97 349.32 37.34 349.51 37.84 349.71 37.69 349.9 37.22 350.09 37.38 350.29 37.99 350.48 38.06 350.67 37.79 350.86 37.35 351.06 37.32 351.25 36.96 351.44 37.33 351.64 37.19 351.83 36.83 352.02 36.73 352.21 36.55 352.41 36.76 352.6 36.41 352.79 36.72 352.99 37.21 353.18 37.55 353.37 37.34 353.56 36.83 353.76 36.32 353.95 36.26 354.14 36.27 354.34 36.64 354.53 37.13 354.72 37.28 354.91 37.05 355.11 36.74 355.3 37.13 355.49 37.36 355.69 37.71 355.88 37.31 356.07 37.42 356.26 37.1 356.46 37.05 356.65 36.76 356.84 36.39 357.04 36.71 357.23 37.24 357.42 37.33 357.61 36.74 357.81 35.88 358 36.03 358.19 36.22 358.39 36.51 358.58 36.87 358.77 37.12 358.96 37.02 359.16 36.85 359.35 36.26 359.54 36.72 359.74 36.68 359.93 36.86 360.12 36.63 360.31 36.79 360.51 37.35 360.7 37.37 360.89 36.75 361.09 36.33 361.28 36.03 361.47 36.49 361.66 36.38 361.86 36.47 362.05 36.56 362.24 36.85 362.44 36.82 362.63 36.33 362.82 36.23 363.01 36.15 363.21 35.94 363.4 36.11 363.59 36.51 363.79 36.75 363.98 36.45 364.17 36.18 364.36 36.34 364.56 36.51 364.75 36.36 364.94 36.5 365.14 36.23 365.33 36.61 365.52 36.72 365.71 36.87 365.91 36.7 366.1 36.35 366.29 36.38 366.49 36.39 366.68 36.5 366.87 36.61 367.06 36.84 367.26 37.15 367.45 37.21 367.64 36.95 367.84 36.65 368.03 36.25 368.22 36.01 368.41 35.61 368.61 35.52 368.8 35.69 368.99 35.71 369.19 35.73 369.38 35.79 369.57 36.1 369.76 36.11 369.96 35.95 370.15 35.78 370.34 35.94 370.54 35.83 370.73 36.13 370.92 36.14 371.11 36.38 371.31 36.15 371.5 36.63 371.69 36.46 371.89 36.32 372.08 35.79 372.27 35.87 372.46 36.04 372.66 36.37 372.85 36.55 373.04 36.76 373.24 36.59 373.43 36.17 373.62 36.3 373.81 36.03 374.01 36.62 374.2 36.59 374.39 36.83 374.59 36.19 374.78 36.15 374.97 36.64 375.16 36.81 375.36 36.67 375.55 36.42 375.74 36.76 375.94 36.92 376.13 36.64 376.32 36.24 376.51 36.42 376.71 35.91 376.9 36.07 377.09 35.81 377.29 36.19 377.48 36.16 377.67 35.52 377.86 35.42 378.06 35.53 378.25 36.17 378.44 36.54 378.64 36.53 378.83 36.29 379.02 36.32 379.21 35.86 379.41 36.04 379.6 35.92 379.79 36.08 379.99 36.52 380.18 36.71 380.37 36.94" stroke="#33bbff" stroke-width="2.4" fill="none" stroke-linejoin="round"/>
<path d="M286 149.27 286.19 149.26 286.39 149.31 286.58 149.45 286.77 149.49 286.96 149.9 287.16 150.19 287.35 149.86 287.54 149.75 287.74 149.48 287.93 149.45 288.12 148.98 288.31 148.94 288.51 149.39 288.7 149.65 288.89 149.75 289.09 149.5 289.28 149.44 289.47 149.19 289.66 149.14 289.86 149 290.05 148.6 290.24 148.42 290.44 148.99 290.63 149.2 290.82 149.82 291.01 149.75 291.21 149.79 291.4 149.69 291.59 149.43 291.79 149.34 291.98 149.33 292.17 149.47 292.36 149.64 292.56 149.2 292.75 148.86 292.94 149.3 293.14 149.73 293.33 149.89 293.52 149.07 293.71 148.71 293.91 148.47 294.1 148.64 294.29 148.92 294.49 149 294.68 149.17 294.87 149.32 295.06 149.43 295.26 149.42 295.45 149.44 295.64 149.24 295.84 149.19 296.03 148.7 296.22 149.06 296.41 149.21 296.61 149.11 296.8 148.74 296.99 148.95 297.19 149.23 297.38 149.09 297.57 148.92 297.76 148.88 297.96 148.61 298.15 148.59 298.34 148.71 298.54 149.54 298.73 149.68 298.92 149.3 299.11 149.1 299.31 149.22 299.5 149.78 299.69 149.74 299.89 149.29 300.08 149.24 300.27 149.07 300.46 149.36 300.66 149.1 300.85 149.15 301.04 148.89 301.24 149.07 301.43 149.23 301.62 149.25 301.81 149.45 302.01 149.36 302.2 149.36 302.39 148.81 302.59 148.86 302.78 149.02 302.97 149.23 303.16 149.39 303.36 149.39 303.55 149.32 303.74 149.08 303.94 149.28 304.13 149.44 304.32 150 304.51 149.57 304.71 149.61 304.9 149.06 305.09 149.5 305.29 149.39 305.48 149.34 305.67 148.85 305.86 149.15 306.06 149.05 306.25 149.31 306.44 149.17 306.64 149.25 306.83 149.28 307.02 149.17 307.21 149.44 307.41 149.31 307.6 149.23 307.79 149.1 307.99 149.37 308.18 149.5 308.37 149.36 308.56 148.83 308.76 148.71 308.95 148.47 309.14 148.77 309.34 149.01 309.53 149.19 309.72 149.41 309.91 149.06 310.11 148.95 310.3 148.79 310.49 148.9 310.69 148.57 310.88 148.43 311.07 148.35 311.26 148.74 311.46 148.81 311.65 148.89 311.84 148.97 312.04 149.5 312.23 149.15 312.42 149.48 312.61 149.17 312.81 149.36 313 149.1 313.19 149.14 313.39 149.21 313.58 149.47 313.77 149.34 313.96 149.73 314.16 149.65 314.35 149.39 314.54 149.01 314.74 148.74 314.93 148.47 315.12 147.83 315.31 146.87 315.51 145.55 315.7 143.33 315.89 141.08 316.09 138.65 316.28 136.22 316.47 133.65 316.66 131.09 316.86 127.93 317.05 124.15 317.24 119.91 317.44 115.32 317.63 110.49 317.82 105.6 318.01 100.83 318.21 96.46 318.4 92.6 318.59 89.29 318.79 86.44 318.98 83.68 319.17 80.93 319.36 78.25 319.56 75.48 319.75 73.02 319.94 70.65 320.14 68.33 320.33 66.11 320.52 63.96 320.71 62.04 320.91 60.14 321.1 58.49 321.29 56.9 321.49 55.43 321.68 54.12 321.87 53.09 322.06 52.34 322.26 51.56 322.45 50.86 322.64 50.13 322.84 49.63 323.03 49.03 323.22 48.56 323.41 47.92 323.61 47.41 323.8 46.91 323.99 46.45 324.19 45.96 324.38 45.46 324.57 45.04 324.76 44.76 324.96 44.63 325.15 44.69 325.34 44.13 325.54 43.39 325.73 42.74 325.92 42.49 326.11 42.76 326.31 42.51 326.5 42.33 326.69 42.27 326.89 42.55 327.08 42.34 327.27 41.88 327.46 40.87 327.66 40.56 327.85 40.37 328.04 40.66 328.24 40.09 328.43 39.86 328.62 39.37 328.81 39.44 329.01 38.69 329.2 38.57 329.39 38.59 329.59 38.64 329.78 38.59 329.97 38.12 330.16 38.11 330.36 37.54 330.55 37.66 330.74 37.43 330.94 37.94 331.13 37.79 331.32 37.8 331.51 37.54 331.71 37.29 331.9 37.38 332.09 37.58 332.29 37.51 332.48 37.43 332.67 37.38 332.86 37.36 333.06 37.1 333.25 37.55 333.44 37.89 333.64 37.88 333.83 37.06 334.02 37.08 334.21 36.88 334.41 37.25 334.6 37.17 334.79 37.49 334.99 37.3 335.18 37.05 335.37 36.83 335.56 36.83 335.76 36.68 335.95 37.06 336.14 37.09 336.34 37.01 336.53 36.81 336.72 36.5 336.91 36.99 337.11 37.07 337.3 37.33 337.49 37.18 337.69 37.19 337.88 37.15 338.07 37.02 338.26 36.65 338.46 36.62 338.65 36.62 338.84 36.67 339.04 36.94 339.23 37.45 339.42 37.27 339.61 36.71 339.81 36.32 340 36.6 340.19 37.12 340.39 37.44 340.58 37.44 340.77 37.56 340.96 37.02 341.16 37.24 341.35 36.82 341.54 36.58 341.74 35.97 341.93 36.09 342.12 36.29 342.31 36.96 342.51 37.02 342.7 37.18 342.89 36.61 343.09 36.6 343.28 36.55 343.47 36.84 343.66 36.99 343.86 37.14 344.05 36.81 344.24 36.53 344.44 36.37 344.63 36.52 344.82 36.67 345.01 36.49 345.21 36.32 345.4 35.77 345.59 35.75 345.79 36.2 345.98 36.7 346.17 37.18 346.36 37.28 346.56 37.32 346.75 36.9 346.94 36.34 347.14 36.3 347.33 36.34 347.52 36.96 347.71 36.89 347.91 37.3 348.1 37.38 348.29 37.28 348.49 37.03 348.68 36.74 348.87 36.87 349.06 37.11 349.26 37.04 349.45 37.05 349.64 36.76 349.84 37.01 350.03 36.81 350.22 36.74 350.41 36.16 350.61 35.97 350.8 36.04 350.99 36.48 351.19 37.15 351.38 37.19 351.57 36.69 351.76 35.88 351.96 36.46 352.15 36.96 352.34 37.43 352.54 37.07 352.73 36.85 352.92 36.75 353.11 36.62 353.31 36.67 353.5 37.05 353.69 37.15 353.89 37.34 354.08 36.76 354.27 36.91 354.46 36.74 354.66 36.77 354.85 36.4 355.04 36.15 355.24 36.48 355.43 36.36 355.62 36.34 355.81 35.66 356.01 35.59 356.2 35.46 356.39 35.98 356.59 36.12 356.78 36.08 356.97 35.94 357.16 35.63 357.36 35.83 357.55 35.46 357.74 35.23 357.94 35.59 358.13 35.65 358.32 36.1 358.51 35.79 358.71 36.24 358.9 36.17 359.09 36.54 359.29 36.68 359.48 37.02 359.67 36.69 359.86 36.3 360.06 35.95 360.25 35.92 360.44 36.27 360.64 36.85 360.83 36.84 361.02 36.67 361.21 36.17 361.41 35.93 361.6 36 361.79 36.13 361.99 37 362.18 36.82 362.37 36.78 362.56 36.41 362.76 36.45 362.95 36.68 363.14 36.63 363.34 36.26 363.53 35.84 363.72 35.5 363.91 35.78 364.11 35.8 364.3 35.97 364.49 35.61 364.69 35.77 364.88 35.65 365.07 36.23 365.26 36.29 365.46 37.03 365.65 37.43 365.84 36.98 366.04 36.06 366.23 35.72 366.42 36.08 366.61 36.29 366.81 36.41 367 35.99 367.19 36.38 367.39 36.31 367.58 37.37 367.77 36.77 367.96 36.59 368.16 35.56 368.35 36.15 368.54 36.08 368.74 36.44 368.93 36.16 369.12 35.75 369.31 35.24 369.51 34.97 369.7 35.54 369.89 35.86 370.09 35.87 370.28 35.64 370.47 35.72 370.66 35.92 370.86 36.26 371.05 36.33 371.24 36.07 371.44 36.09 371.63 36.13 371.82 36.31 372.01 36.39 372.21 36.44 372.4 37.03 372.59 36.86 372.79 37.15 372.98 36.96 373.17 36.94 373.36 36.67 373.56 36.51 373.75 36.96 373.94 36.52 374.14 36.54 374.33 36.23 374.52 36.75 374.71 36.61 374.91 36.59 375.1 36.54 375.29 36.72 375.49 36.36 375.68 36.44 375.87 36.23 376.06 36.27 376.26 36.13 376.45 35.94 376.64 36.02 376.84 36.26 377.03 36.48 377.22 36.46 377.41 36.19 377.61 36.21 377.8 35.69 377.99 35.62 378.19 35.57 378.38 36.17 378.57 35.92 378.76 36.04 378.96 36.17 379.15 36.76 379.34 36.63 379.54 36.27 379.73 36.35 379.92 36.64 380.11 36.67 380.31 36.3" stroke="#008c00" stroke-width="2.4" fill="none" stroke-linejoin="round"/>
<path d="M281.5 149.33 281.69 149.47 281.89 149.53 282.08 149.25 282.27 149.26 282.46 149.73 282.66 150 282.85 149.82 283.04 149.52 283.24 149.54 283.43 149.52 283.62 149.23 283.81 148.66 284.01 148.36 284.2 148.93 284.39 148.52 284.59 149.12 284.78 148.26 284.97 148.89 285.16 148.86 285.36 149.82 285.55 149.8 285.74 149.71 285.94 149.64 286.13 149.6 286.32 149.19 286.51 148.63 286.71 148.62 286.9 148.42 287.09 149.07 287.29 149.3 287.48 150.12 287.67 149.55 287.86 149.73 288.06 149.81 288.25 149.57 288.44 148.42 288.64 147.45 288.83 148.41 289.02 149 289.21 149.17 289.41 148.6 289.6 149.17 289.79 149.57 289.99 150.19 290.18 150.04 290.37 149.16 290.56 148.32 290.76 148.39 290.95 149.66 291.14 149.73 291.34 149.42 291.53 148.68 291.72 149.06 291.91 148.91 292.11 149.02 292.3 149.14 292.49 149.73 292.69 150.22 292.88 150.1 293.07 149.49 293.26 149.08 293.46 148.85 293.65 148.58 293.84 148.87 294.04 148.34 294.23 147.81 294.42 147.36 294.61 147.77 294.81 148.02 295 147.91 295.19 147.9 295.39 148.39 295.58 148.86 295.77 149.32 295.96 149.02 296.16 148.33 296.35 148.28 296.54 148.53 296.74 148.86 296.93 148.62 297.12 148.85 297.31 149.05 297.51 149.58 297.7 149.32 297.89 149.28 298.09 147.83 298.28 147.47 298.47 147.47 298.66 148.21 298.86 147.92 299.05 147.22 299.24 147.14 299.44 147.77 299.63 148.83 299.82 148.99 300.01 148.98 300.21 148.7 300.4 147.95 300.59 148.52 300.79 148.27 300.98 148.69 301.17 147.83 301.36 147.14 301.56 147.72 301.75 148.08 301.94 148.57 302.14 147.96 302.33 147.77 302.52 147.99 302.71 147.58 302.91 147.73 303.1 147.57 303.29 147.35 303.49 146.28 303.68 145.67 303.87 146.36 304.06 147.16 304.26 147.66 304.45 147.63 304.64 147.35 304.84 146.46 305.03 145.85 305.22 145.83 305.41 146.4 305.61 146.74 305.8 145.9 305.99 146.18 306.19 145.51 306.38 146.26 306.57 145.75 306.76 146.19 306.96 145.1 307.15 144.43 307.34 142.54 307.54 143.2 307.73 142.74 307.92 142.29 308.11 141.53 308.31 140.78 308.5 140.22 308.69 139.38 308.89 138.5 309.08 137.49 309.27 136.77 309.46 135.88 309.66 135.05 309.85 134.1 310.04 133.26 310.24 132.22 310.43 131.35 310.62 130.42 310.81 129.44 311.01 128.37 311.2 127.27 311.39 126.24 311.59 125.01 311.78 123.82 311.97 122.47 312.16 121.04 312.36 119.55 312.55 118.14 312.74 116.81 312.94 115.19 313.13 113.45 313.32 111.46 313.51 109.26 313.71 106.78 313.9 103.96 314.09 101.23 314.29 98.16 314.48 95.32 314.67 92.23 314.86 89.29 315.06 86.29 315.25 83.37 315.44 80.65 315.64 78.11 315.83 75.57 316.02 72.86 316.21 69.92 316.41 66.95 316.6 63.97 316.79 61.13 316.99 58.52 317.18 56.01 317.37 53.74 317.56 51.84 317.76 50.28 317.95 49.24 318.14 48.33 318.34 47.57 318.53 46.71 318.72 45.95 318.91 45.22 319.11 44.59 319.3 43.95 319.49 43.01 319.69 42.14 319.88 41.64 320.07 41.36 320.26 40.74 320.46 40.69 320.65 40.19 320.84 40.36 321.04 39.28 321.23 39.18 321.42 38.68 321.61 38.96 321.81 38.59 322 38.15 322.19 37.31 322.39 37.45 322.58 37.61 322.77 36.99 322.96 36.41 323.16 36.25 323.35 36.99 323.54 37.78 323.74 37.35 323.93 37.38 324.12 37.04 324.31 37.1 324.51 37.24 324.7 37.1 324.89 37.2 325.09 36.92 325.28 36.75 325.47 36.85 325.66 37.22 325.86 37.41 326.05 37.15 326.24 36.5 326.44 36.02 326.63 36.12 326.82 36.49 327.01 36.59 327.21 36.87 327.4 36.34 327.59 36.42 327.79 36.08 327.98 36.47 328.17 36.65 328.36 36.27 328.56 36.34 328.75 36.18 328.94 36.59 329.14 36.7 329.33 36.5 329.52 36.74 329.71 36.39 329.91 36.38 330.1 36.47 330.29 36.35 330.49 36.31 330.68 36.25 330.87 36.41 331.06 36.35 331.26 35.66 331.45 35.94 331.64 35.84 331.84 36.3 332.03 35.95 332.22 36.21 332.41 36.2 332.61 36.23 332.8 36.45 332.99 36.93 333.19 37.04 333.38 36.87 333.57 36.36 333.76 36.2 333.96 36.15 334.15 35.89 334.34 36.05 334.54 35.97 334.73 36.05 334.92 35.9 335.11 35.95 335.31 36.11 335.5 36.43 335.69 36.55 335.89 36.55 336.08 36.19 336.27 36.14 336.46 35.97 336.66 35.71 336.85 35.1 337.04 35.29 337.24 35.5 337.43 35.85 337.62 35.67 337.81 35.72 338.01 35.74 338.2 35.73 338.39 35.88 338.59 36.07 338.78 36.2 338.97 36.13 339.16 35.78 339.36 35.75 339.55 35.69 339.74 35.64 339.94 35.95 340.13 36.18 340.32 36.39 340.51 36.17 340.71 36.34 340.9 36.24 341.09 36.26 341.29 36.26 341.48 36.05 341.67 36.33 341.86 36.1 342.06 36.7 342.25 36.38 342.44 36.24 342.64 36.27 342.83 36.33 343.02 36.49 343.21 36.53 343.41 36.24 343.6 36.16 343.79 36 343.99 36.43 344.18 36.55 344.37 36.45 344.56 36.4 344.76 36.03 344.95 36.66 345.14 37.05 345.34 37.4 345.53 37.24 345.72 36.75 345.91 36.85 346.11 36.28 346.3 36.17 346.49 35.71 346.69 35.63 346.88 35.43 347.07 35.61 347.26 35.58 347.46 35.75 347.65 36.02 347.84 36.56 348.04 36.96 348.23 36.71 348.42 36.97 348.61 36.65 348.81 36.94 349 36.21 349.19 36.2 349.39 36.2 349.58 36.37 349.77 36.95 349.96 36.71 350.16 36.61 350.35 36.5 350.54 36.37 350.74 36.5 350.93 36.03 351.12 36.56 351.31 36.39 351.51 36.3 351.7 35.97 351.89 36.34 352.09 36.3 352.28 36 352.47 35.68 352.66 35.62 352.86 36.05 353.05 36.1 353.24 36.25 353.44 36.08 353.63 35.45 353.82 35.44 354.01 35.6 354.21 36.07 354.4 36.42 354.59 36.2 354.79 36.21 354.98 36.07 355.17 36.23 355.36 36.63 355.56 36.48 355.75 36.56 355.94 35.94 356.14 35.82 356.33 35.71 356.52 36.44 356.71 36.12 356.91 35.76 357.1 35.32 357.29 35.75 357.49 36.01 357.68 36.23 357.87 35.83 358.06 35.83 358.26 36.05 358.45 36.65 358.64 37.3 358.84 36.81 359.03 36.47 359.22 35.46 359.41 35.12 359.61 35.48 359.8 35.79 359.99 36.05 360.19 35.68 360.38 35.91 360.57 35.95 360.76 36.02 360.96 35.59 361.15 35.78 361.34 35.95 361.54 36.39 361.73 36.47 361.92 36.6 362.11 36.56 362.31 36.35 362.5 36.07 362.69 35.68 362.89 35.54 363.08 35.51 363.27 36.08 363.46 36.21 363.66 36.08 363.85 36.12 364.04 36.51 364.24 37.01 364.43 36.95 364.62 36.76 364.81 36.76 365.01 36.42 365.2 36.64 365.39 36.45 365.59 36.66 365.78 36.61 365.97 36.34 366.16 36.21 366.36 35.86 366.55 36.18 366.74 36.02 366.94 36.01 367.13 35.96 367.32 36.54 367.51 36.5 367.71 36.3 367.9 35.84 368.09 35.98 368.29 36.11 368.48 36.11 368.67 36.4 368.86 36.44 369.06 36.41 369.25 36.32 369.44 36.53 369.64 36.17 369.83 35.89 370.02 35.73 370.21 36.28 370.41 37.04 370.6 37.3 370.79 37.24 370.99 36.33 371.18 36.47 371.37 36.58 371.56 36.43 371.76 35.8 371.95 35.54 372.14 35.7 372.34 35.89 372.53 36.03 372.72 36.14 372.91 35.91 373.11 36.12 373.3 35.93 373.49 36.53 373.69 36.45 373.88 36.09 374.07 35.8 374.26 35.48 374.46 36.43 374.65 36.39 374.84 36.71 375.04 36.57 375.23 36.34 375.42 35.76 375.61 35.47 375.81 35.26 376 35.78 376.19 35.65 376.39 35.88 376.58 35.44 376.77 35.88 376.96 36.06 377.16 36.07 377.35 35.83 377.54 35.75 377.74 36.23 377.93 36.39 378.12 36.31 378.31 35.98 378.51 36.09 378.7 36.28 378.89 36.35 379.09 36.48 379.28 36.19 379.47 36.29 379.66 36.07 379.86 36.85 380.05 37.23 380.24 37.44 380.44 36.88" stroke="#ffaa00" stroke-width="2.4" fill="none" stroke-linejoin="round"/>
<path d="M268 148.9 268.19 148.77 268.39 148.52 268.58 148.23 268.77 149.08 268.96 148.63 269.16 148.64 269.35 147.72 269.54 148.44 269.74 148.34 269.93 148.3 270.12 147.99 270.31 147.65 270.51 147.95 270.7 147.34 270.89 148.34 271.09 148.47 271.28 148.82 271.47 148.24 271.66 148.2 271.86 149.17 272.05 148.66 272.24 149.17 272.44 148.37 272.63 148.72 272.82 147.75 273.01 147.41 273.21 147.72 273.4 148.31 273.59 148.93 273.79 149.29 273.98 148.72 274.17 148.74 274.36 148.09 274.56 148.77 274.75 148.62 274.94 148.9 275.14 148.53 275.33 148.91 275.52 148.33 275.71 148.53 275.91 149.04 276.1 149.17 276.29 149.05 276.49 148.46 276.68 147.81 276.87 147.72 277.06 147.88 277.26 148.97 277.45 148.81 277.64 148.42 277.84 147.77 278.03 147.52 278.22 147.72 278.41 148.13 278.61 148.28 278.8 148.14 278.99 148.31 279.19 148.22 279.38 147.92 279.57 148.24 279.76 148.74 279.96 149.03 280.15 148.58 280.34 148.63 280.54 148.01 280.73 148.31 280.92 148.43 281.11 148.82 281.31 149.26 281.5 149.24 281.69 149.09 281.89 148.76 282.08 148.68 282.27 148.52 282.46 147.89 282.66 147.56 282.85 147.85 283.04 148.24 283.24 148.14 283.43 148.29 283.62 147.17 283.81 147.08 284.01 147.12 284.2 148.01 284.39 148.17 284.59 148.53 284.78 148.79 284.97 148.26 285.16 148.26 285.36 148.17 285.55 148.34 285.74 147.31 285.94 147.45 286.13 147.29 286.32 147.94 286.51 146.99 286.71 147.32 286.9 147.28 287.09 147.59 287.29 147.56 287.48 147.72 287.67 147.22 287.86 147.52 288.06 146.84 288.25 147.75 288.44 148.26 288.64 149.05 288.83 148.9 289.02 148.01 289.21 146.99 289.41 146.92 289.6 147.24 289.79 148.28 289.99 148.31 290.18 147.65 290.37 145.76 290.56 141.3 290.76 136.19 290.95 129.9 291.14 123.47 291.34 116.68 291.53 108.52 291.72 95.72 291.91 81.39 292.11 69.06 292.3 62.02 292.49 59.08 292.69 56.5 292.88 54.43 293.07 52.73 293.26 51.25 293.46 49.94 293.65 48.76 293.84 47.78 294.04 46.99 294.23 46.21 294.42 45.59 294.61 44.87 294.81 44.29 295 43.5 295.19 42.95 295.39 42.95 295.58 42.64 295.77 42.27 295.96 41.89 296.16 41.65 296.35 40.87 296.54 40.32 296.74 40.11 296.93 40.71 297.12 40.25 297.31 40.52 297.51 40.17 297.7 40.17 297.89 39.48 298.09 39.11 298.28 39.33 298.47 39.03 298.66 38.98 298.86 38.58 299.05 38.39 299.24 38.24 299.44 37.83 299.63 37.79 299.82 37.8 300.01 38 300.21 37.89 300.4 37.99 300.59 38.26 300.79 38.39 300.98 37.87 301.17 37.48 301.36 37.17 301.56 36.48 301.75 35.99 301.94 35.87 302.14 36.62 302.33 36.5 302.52 36.58 302.71 36.09 302.91 36.24 303.1 35.7 303.29 36.13 303.49 36.03 303.68 36.76 303.87 36.63 304.06 36.58 304.26 36 304.45 36.39 304.64 36.48 304.84 36.54 305.03 36.12 305.22 36.45 305.41 36.62 305.61 36.74 305.8 36.35 305.99 36.18 306.19 35.79 306.38 35.85 306.57 36.26 306.76 36.48 306.96 36.14 307.15 36.1 307.34 36.07 307.54 36.75 307.73 36.7 307.92 36.72 308.11 36.32 308.31 35.93 308.5 35.87 308.69 35.87 308.89 36.43 309.08 36.34 309.27 36.47 309.46 36.13 309.66 36.33 309.85 36.62 310.04 36.31 310.24 36.48 310.43 36.63 310.62 36.9 310.81 36.86 311.01 36.53 311.2 36.18 311.39 36.07 311.59 36.03 311.78 35.85 311.97 36.15 312.16 36.09 312.36 36.34 312.55 35.66 312.74 35.22 312.94 35.65 313.13 35.86 313.32 36.41 313.51 36.36 313.71 36.67 313.9 36.99 314.09 36.8 314.29 36.46 314.48 36.36 314.67 36.26 314.86 36.57 315.06 36.56 315.25 37.35 315.44 36.96 315.64 36.56 315.83 36.01 316.02 36.36 316.21 36.84 316.41 36.64 316.6 36.57 316.79 36.13 316.99 36.21 317.18 36.53 317.37 37.02 317.56 36.96 317.76 37.03 317.95 36.6 318.14 36.48 318.34 36.38 318.53 36.29 318.72 36.49 318.91 36.06 319.11 36.36 319.3 36.37 319.49 36.39 319.69 35.81 319.88 35.63 320.07 35.61 320.26 36.35 320.46 36.44 320.65 36.71 320.84 36.42 321.04 36.44 321.23 36.05 321.42 35.89 321.61 35.91 321.81 36.15 322 35.97 322.19 36.22 322.39 36.19 322.58 36.19 322.77 36.02 322.96 35.84 323.16 35.95 323.35 35.44 323.54 35.37 323.74 35.96 323.93 36.43 324.12 36.63 324.31 36.05 324.51 35.96 324.7 35.58 324.89 35.52 325.09 35.89 325.28 36.49 325.47 37.23 325.66 36.55 325.86 36.43 326.05 35.99 326.24 36.77 326.44 36.85 326.63 36.72 326.82 36.45 327.01 36.44 327.21 36.7 327.4 36.14 327.59 36.18 327.79 36.38 327.98 36.97 328.17 36.93 328.36 36.62 328.56 36.56 328.75 36.74 328.94 36.77 329.14 36.62 329.33 36.69 329.52 36.18 329.71 35.87 329.91 35.97 330.1 36.53 330.29 36.69 330.49 35.94 330.68 35.43 330.87 36.11 331.06 36.69 331.26 37.23 331.45 36.67 331.64 36.66 331.84 36.43 332.03 36.45 332.22 36.03 332.41 36.43 332.61 36.49 332.8 36.64 332.99 36.43 333.19 36.17 333.38 36.25 333.57 35.81 333.76 36.25 333.96 35.78 334.15 35.73 334.34 35.78 334.54 36.1 334.73 36.41 334.92 36.45 335.11 36.34 335.31 36.27 335.5 36.24 335.69 36.4 335.89 36.33 336.08 36.16 336.27 36.35 336.46 36.17 336.66 36.36 336.85 36.11 337.04 36.23 337.24 35.8 337.43 36.32 337.62 36.66 337.81 36.88 338.01 36.49 338.2 36.26 338.39 36.09 338.59 36.01 338.78 36.09 338.97 35.98 339.16 35.71 339.36 36.22 339.55 35.94 339.74 36.37 339.94 35.73 340.13 36.63 340.32 36.62 340.51 37.1 340.71 36.46 340.9 36.12 341.09 35.82 341.29 36.12 341.48 36.24 341.67 36.46 341.86 36.56 342.06 36.84 342.25 36.42 342.44 36.27 342.64 36.39 342.83 36.5 343.02 36.38 343.21 35.75 343.41 35.97 343.6 35.99 343.79 35.83 343.99 35.78 344.18 35.96 344.37 36.33 344.56 36.37 344.76 36.29 344.95 36.53 345.14 36.59 345.34 36.39 345.53 36.36 345.72 36.41 345.91 36.69 346.11 36.63 346.3 36.32 346.49 36.03 346.69 35.58 346.88 35.94 347.07 36.22 347.26 37.07 347.46 36.73 347.65 36.55 347.84 36.28 348.04 36.55 348.23 36.91 348.42 37.11 348.61 36.75 348.81 36.06 349 35.98 349.19 35.74 349.39 36.22 349.58 36.28 349.77 36.54 349.96 36.33 350.16 35.91 350.35 36.11 350.54 35.9 350.74 36.06 350.93 35.85 351.12 36.09 351.31 36.23 351.51 36.82 351.7 37.39 351.89 37.27 352.09 36.75 352.28 36.76 352.47 36.84 352.66 36.56 352.86 36.57 353.05 36.29 353.24 36.57 353.44 35.96 353.63 36.42 353.82 36.42 354.01 36.94 354.21 36.28 354.4 36.56 354.59 36.14 354.79 36.65 354.98 36.41 355.17 36.86 355.36 36.61 355.56 36.5 355.75 36.14 355.94 35.82 356.14 35.88 356.33 35.69 356.52 35.95 356.71 35.6 356.91 35.94 357.1 36.12 357.29 36.62 357.49 36.31 357.68 36.19 357.87 35.94 358.06 36.01 358.26 36.2 358.45 36.41 358.64 36.37 358.84 36.79 359.03 36.45 359.22 36.68 359.41 36.22 359.61 36.49 359.8 36.41 359.99 36.67 360.19 36.79 360.38 36.4 360.57 35.8 360.76 35.45 360.96 35.91 361.15 36.21 361.34 36.25 361.54 35.77 361.73 35.7 361.92 36.18 362.11 36.99 362.31 36.66 362.5 36.79 362.69 36.23 362.89 36.35 363.08 35.21 363.27 35.27 363.46 35.5 363.66 36.17 363.85 36.09 364.04 35.74 364.24 35.68 364.43 35.99 364.62 36.81 364.81 36.9 365.01 36.88 365.2 36.04 365.39 36.42 365.59 36.21 365.78 36.72 365.97 36.62 366.16 36.27 366.36 36.05 366.55 35.88 366.74 36.1 366.94 36.33 367.13 36.38 367.32 36.71 367.51 36.04 367.71 35.87 367.9 35.57 368.09 35.78 368.29 35.9 368.48 36.09 368.67 36.75 368.86 36.59 369.06 36.49 369.25 36.2 369.44 36.02 369.64 36.52 369.83 36.32 370.02 36.94 370.21 36.79 370.41 36.94 370.6 36.28 370.79 36.3 370.99 36.49 371.18 37.1 371.37 36.33 371.56 35.96 371.76 35.57 371.95 35.56 372.14 35.62 372.34 36.23 372.53 36.85 372.72 37.2 372.91 36.2 373.11 36.42 373.3 36.06 373.49 36.67 373.69 36.44 373.88 36.51 374.07 36.42 374.26 36.47 374.46 36.78 374.65 36.9 374.84 36.99 375.04 36.91 375.23 36.73 375.42 36.51 375.61 36.18 375.81 36.26 376 35.76 376.19 36.05 376.39 36.24 376.58 36.46 376.77 36.45 376.96 36.18 377.16 36.19 377.35 36.04 377.54 36.16 377.74 36.16 377.93 36.06 378.12 36.1 378.31 36.63 378.51 36.8 378.7 37.07 378.89 36.99 379.09 37.17 379.28 36.69 379.47 36.3 379.66 36.19 379.86 36.37 380.05 36.82 380.24 37 380.44 36.89" stroke="#cc6619" stroke-width="2.4" fill="none" stroke-linejoin="round"/>
<path d="M261.25 148.3 261.44 148.14 261.64 147.77 261.83 148.07 262.02 149.23 262.21 149.11 262.41 148.53 262.6 147.2 262.79 147.21 262.99 147.29 263.18 146.65 263.37 146.86 263.56 146.69 263.76 147.37 263.95 147.23 264.14 147.85 264.34 148.26 264.53 148.92 264.72 148.66 264.91 148.64 265.11 148.67 265.3 149.16 265.49 149.48 265.69 148.46 265.88 148.27 266.07 147.8 266.26 148.82 266.46 149.11 266.65 148.76 266.84 148.41 267.04 147.95 267.23 147.66 267.42 146.81 267.61 146.64 267.81 147.13 268 147.8 268.19 148.16 268.39 147.6 268.58 148.12 268.77 148.05 268.96 149.48 269.16 149.5 269.35 149.32 269.54 148.45 269.74 147.87 269.93 148.13 270.12 148.55 270.31 148.87 270.51 148.89 270.7 148.23 270.89 147.5 271.09 147.2 271.28 147.79 271.47 148.66 271.66 148.7 271.86 148.59 272.05 148.91 272.24 148.52 272.44 148.43 272.63 147.88 272.82 148.69 273.01 149.01 273.21 148.56 273.4 148.58 273.59 148.22 273.79 148.32 273.98 147.3 274.17 147.11 274.36 147.35 274.56 148.17 274.75 148.08 274.94 147.7 275.14 147.69 275.33 147.78 275.52 148.19 275.71 148.62 275.91 149.19 276.1 148.84 276.29 147.72 276.49 147.1 276.68 147.47 276.87 148.25 277.06 148.29 277.26 148.09 277.45 148.41 277.64 148.36 277.84 148.74 278.03 147.9 278.22 147.93 278.41 147.4 278.61 147.25 278.8 147.18 278.99 147.82 279.19 148.57 279.38 148.44 279.57 147.88 279.76 148.07 279.96 149.17 280.15 149.01 280.34 147.62 280.54 146.58 280.73 146.98 280.92 147.68 281.11 148.97 281.31 149.23 281.5 148.95 281.69 147.64 281.89 148.04 282.08 147.96 282.27 148.07 282.46 146.95 282.66 147.44 282.85 147.62 283.04 148.34 283.24 148.14 283.43 147.81 283.62 147.74 283.81 147.71 284.01 148.22 284.2 147.49 284.39 147.25 284.59 147.9 284.78 148.11 284.97 148.08 285.16 147.33 285.36 146.41 285.55 144.67 285.74 141.71 285.94 138.84 286.13 135.87 286.32 132.32 286.51 128.24 286.71 123.92 286.9 119.26 287.09 114.62 287.29 109.9 287.48 105.25 287.67 100.83 287.86 96.94 288.06 93.76 288.25 91.23 288.44 89.01 288.64 86.77 288.83 84.85 289.02 82.95 289.21 81.15 289.41 79.24 289.6 77.69 289.79 75.95 289.99 74.41 290.18 73.07 290.37 71.98 290.56 70.65 290.76 69.16 290.95 67.8 291.14 66.6 291.34 65.4 291.53 64.19 291.72 62.99 291.91 61.61 292.11 60.49 292.3 59.1 292.49 57.66 292.69 56.09 292.88 54.77 293.07 53.36 293.26 51.86 293.46 50.48 293.65 49.5 293.84 48.46 294.04 47.39 294.23 46.35 294.42 45.49 294.61 44.6 294.81 44.27 295 44.22 295.19 44.62 295.39 43.88 295.58 43.04 295.77 43.18 295.96 42.05 296.16 40.92 296.35 39.59 296.54 40.22 296.74 39.9 296.93 38.71 297.12 38.49 297.31 38.29 297.51 39.04 297.7 38.4 297.89 38.99 298.09 39.44 298.28 39.45 298.47 38.83 298.66 37.5 298.86 37.77 299.05 36.98 299.24 37.19 299.44 36.03 299.63 36.77 299.82 36.01 300.01 36.71 300.21 36.4 300.4 36.59 300.59 37.34 300.79 37.86 300.98 37.37 301.17 37.18 301.36 36.85 301.56 37.42 301.75 35.94 301.94 35.9 302.14 36.05 302.33 37.27 302.52 37.17 302.71 36.71 302.91 35.98 303.1 35.78 303.29 36.05 303.49 36.13 303.68 36.02 303.87 36.39 304.06 36.93 304.26 36.68 304.45 37.07 304.64 36.1 304.84 35.4 305.03 34.11 305.22 33.48 305.41 35.01 305.61 35.62 305.8 37.14 305.99 36.99 306.19 37.93 306.38 38.12 306.57 37.34 306.76 36.18 306.96 35.01 307.15 34.87 307.34 34.83 307.54 35.79 307.73 36.39 307.92 36.41 308.11 35.42 308.31 35.54 308.5 36.13 308.69 36.94 308.89 35.99 309.08 35.47 309.27 35.41 309.46 36.55 309.66 36.61 309.85 37.26 310.04 37 310.24 37.49 310.43 36.96 310.62 36.75 310.81 36.27 311.01 34.52 311.2 34.57 311.39 34.43 311.59 36.28 311.78 37.13 311.97 36.91 312.16 35.58 312.36 35.26 312.55 35.84 312.74 36.25 312.94 35.72 313.13 36.83 313.32 36.88 313.51 36.99 313.71 35.49 313.9 36.44 314.09 35.95 314.29 35.8 314.48 35.68 314.67 35.87 314.86 36.67 315.06 36.57 315.25 37.24 315.44 37.14 315.64 37.22 315.83 36.23 316.02 36.13 316.21 36.34 316.41 36.25 316.6 35.88 316.79 34.86 316.99 35.55 317.18 35.47 317.37 35.99 317.56 36.42 317.76 36.7 317.95 36.58 318.14 36.06 318.34 35.7 318.53 36.6 318.72 36.53 318.91 37.31 319.11 36.61 319.3 36.54 319.49 36.12 319.69 36.31 319.88 36.16 320.07 36.21 320.26 35.44 320.46 35.21 320.65 35.35 320.84 36.32 321.04 36.87 321.23 36.31 321.42 35.63 321.61 36.22 321.81 37.42 322 38.02 322.19 37.92 322.39 36.81 322.58 36.33 322.77 35.46 322.96 35.79 323.16 35.02 323.35 35.43 323.54 35.13 323.74 36.12 323.93 35.91 324.12 35.65 324.31 35.09 324.51 34.69 324.7 35.49 324.89 35.65 325.09 35.44 325.28 35.03 325.47 35.32 325.66 36.25 325.86 36.62 326.05 36.47 326.24 35.7 326.44 35.23 326.63 35.31 326.82 36.35 327.01 37.11 327.21 35.96 327.4 35.81 327.59 35.22 327.79 36.59 327.98 36.29 328.17 36.54 328.36 36.26 328.56 35.65 328.75 35.8 328.94 35.6 329.14 36.33 329.33 35.64 329.52 36.21 329.71 35.99 329.91 36.8 330.1 37.35 330.29 38.17 330.49 38.16 330.68 37.83 330.87 37.37 331.06 36.4 331.26 36.41 331.45 36.05 331.64 36.51 331.84 36.31 332.03 36.96 332.22 36.84 332.41 36.28 332.61 36 332.8 36.28 332.99 36.51 333.19 36.97 333.38 36.85 333.57 36.7 333.76 35.25 333.96 35.9 334.15 36.46 334.34 37.25 334.54 36.92 334.73 36.7 334.92 36.74 335.11 36.6 335.31 36.43 335.5 36.22 335.69 36.85 335.89 36.57 336.08 37.83 336.27 36.27 336.46 36.1 336.66 35.32 336.85 35.64 337.04 36.15 337.24 35.66 337.43 35.78 337.62 35.55 337.81 35.75 338.01 35.81 338.2 36.06 338.39 36.24 338.59 36.97 338.78 37.73 338.97 36.81 339.16 36 339.36 35.8 339.55 36.36 339.74 36.63 339.94 37 340.13 37.58 340.32 37.73 340.51 35.89 340.71 34.98 340.9 34.34 341.09 35 341.29 35.04 341.48 36.18 341.67 36.04 341.86 36.16 342.06 36.21 342.25 36.38 342.44 36 342.64 34.51 342.83 33.96 343.02 35 343.21 35.94 343.41 36.85 343.6 35.94 343.79 36.29 343.99 36.54 344.18 37.87 344.37 37.38 344.56 36.69 344.76 36.21 344.95 36.65 345.14 36.94 345.34 36.03 345.53 36.31 345.72 36.24 345.91 36.77 346.11 35.96 346.3 35.35 346.49 35.06 346.69 35.11 346.88 35.01 347.07 34.86 347.26 34.85 347.46 35.43 347.65 36.51 347.84 36.59 348.04 37.07 348.23 37.05 348.42 37.24 348.61 37.68 348.81 37.56 349 37.68 349.19 36.72 349.39 36.45 349.58 36.03 349.77 35.45 349.96 34.92 350.16 35.65 350.35 37.22 350.54 38.04 350.74 37.92 350.93 38.02 351.12 38.4 351.31 38.79 351.51 38.16 351.7 36.69 351.89 35.1 352.09 35.3 352.28 36.19 352.47 37.64 352.66 37.94 352.86 37.77 353.05 37.11 353.24 36.66 353.44 36.34 353.63 36.52 353.82 35.73 354.01 36.26 354.21 35.71 354.4 36.32 354.59 36.03 354.79 36.14 354.98 36.67 355.17 37.08 355.36 37.4 355.56 36.91 355.75 36.45 355.94 36.79 356.14 37.28 356.33 37.45 356.52 36.94 356.71 36.7 356.91 36.08 357.1 35.89 357.29 35.12 357.49 35.31 357.68 36.03 357.87 35.43 358.06 36.12 358.26 35.54 358.45 36.18 358.64 35.68 358.84 35.75 359.03 36.46 359.22 36.79 359.41 36.85 359.61 35.85 359.8 35.97 359.99 35.65 360.19 36.05 360.38 35.69 360.57 36.26 360.76 36.52 360.96 37.36 361.15 37.04 361.34 36.81 361.54 36.24 361.73 36.04 361.92 36.03 362.11 36.12 362.31 35.97 362.5 36.36 362.69 34.89 362.89 35.76 363.08 35.89 363.27 37.31 363.46 36.72 363.66 35.8 363.85 35.46 364.04 35.75 364.24 35.41 364.43 34.98 364.62 34.92 364.81 35.86 365.01 37.06 365.2 36.91 365.39 36.06 365.59 35.89 365.78 36.57 365.97 37.31 366.16 37.89 366.36 36.58 366.55 37.36 366.74 36.58 366.94 37.31 367.13 36.05 367.32 35.53 367.51 36.35 367.71 37.71 367.9 37.8 368.09 37.9 368.29 37.26 368.48 37.75 368.67 36.41 368.86 35.72 369.06 36.51 369.25 36.69 369.44 36.96 369.64 36.15 369.83 36.63 370.02 37.49 370.21 37.3 370.41 36.84 370.6 35.66 370.79 34.83 370.99 35.15 371.18 36.17 371.37 36.38 371.56 37.53 371.76 37.8 371.95 37.97 372.14 35.64 372.34 35.36 372.53 35.61 372.72 37.17 372.91 36.84 373.11 36.92 373.3 36.75 373.49 36.53 373.69 36.58 373.88 35.98 374.07 36.26 374.26 36.74 374.46 36.91 374.65 36.41 374.84 36.21 375.04 35.65 375.23 35.84 375.42 35.64 375.61 36.24 375.81 36.65 376 36.9 376.19 36.49 376.39 35.87 376.58 35.66 376.77 36.17 376.96 36.69 377.16 36.15 377.35 35.38 377.54 35.59 377.74 35.77 377.93 36.46 378.12 35.89 378.31 35.36 378.51 35.75 378.7 36.98 378.89 37.73 379.09 38.07 379.28 36.32 379.47 36.57 379.66 35.95 379.86 36.61 380.05 36.19 380.24 36.25 380.44 36.37" stroke="#ff0000" stroke-width="2.9" fill="none" stroke-linejoin="round"/>
<rect x="245.5" y="15.5" width="135" height="134" fill="none" stroke="#3a3a3a" stroke-width="1"/>
<path d="M245.5 149.5v-4.0M245.5 15.5v4.0M290.5 149.5v-4.0M290.5 15.5v4.0M335.5 149.5v-4.0M335.5 15.5v4.0M380.5 149.5v-4.0M380.5 15.5v4.0M268 149.5v-2.5M268 15.5v2.5M313 149.5v-2.5M313 15.5v2.5M358 149.5v-2.5M358 15.5v2.5" stroke="#3a3a3a" stroke-width="1" fill="none"/>
<text x="245.5" y="163.1" text-anchor="middle" font-size="12.1">0</text>
<text x="290.5" y="163.1" text-anchor="middle" font-size="12.1">1.0</text>
<text x="335.5" y="163.1" text-anchor="middle" font-size="12.1">2.0</text>
<text x="380.5" y="163.1" text-anchor="middle" font-size="12.1">3.0</text>
<path d="M245.5 149.5h4.0M380.5 149.5h-4.0M245.5 126.16h4.0M380.5 126.16h-4.0M245.5 102.81h4.0M380.5 102.81h-4.0M245.5 79.47h4.0M380.5 79.47h-4.0M245.5 56.12h4.0M380.5 56.12h-4.0M245.5 32.78h4.0M380.5 32.78h-4.0" stroke="#3a3a3a" stroke-width="1" fill="none"/>
<text x="242.7" y="153.6" text-anchor="end" font-size="12.1">0</text>
<text x="242.7" y="130.26" text-anchor="end" font-size="12.1">0.2</text>
<text x="242.7" y="106.91" text-anchor="end" font-size="12.1">0.4</text>
<text x="242.7" y="83.57" text-anchor="end" font-size="12.1">0.6</text>
<text x="242.7" y="60.22" text-anchor="end" font-size="12.1">0.8</text>
<text x="242.7" y="36.88" text-anchor="end" font-size="12.1">1.0</text>
<text x="258" y="34.3" font-size="10.8" fill="#ff0000" text-anchor="start"><tspan>KV</tspan><tspan font-size="7.78" dy="3.02">3</tspan><tspan dy="-3.02">Sb</tspan><tspan font-size="7.78" dy="3.02">5</tspan></text>
<path d="M313 334.19 313.19 334.26 313.39 333.83 313.58 333.96 313.77 334.44 313.96 334.66 314.16 335.15 314.35 334.52 314.54 334.2 314.74 333.54 314.93 333.88 315.12 334.59 315.31 334.84 315.51 334.23 315.7 334.21 315.89 333.96 316.09 334.22 316.28 334.07 316.47 334.37 316.66 334.05 316.86 334.37 317.05 334.6 317.24 334.78 317.44 334.2 317.63 334.23 317.82 334.66 318.01 335.16 318.21 334.72 318.4 334.66 318.59 334.06 318.79 334.01 318.98 333.79 319.17 334.07 319.36 334.13 319.56 333.99 319.75 334.03 319.94 334.1 320.14 334.11 320.33 334.13 320.52 333.95 320.71 334.17 320.91 334.33 321.1 334.52 321.29 334.1 321.49 333.57 321.68 333.99 321.87 334.3 322.06 334.76 322.26 334.47 322.45 334.62 322.64 334.56 322.84 334.6 323.03 334.59 323.22 334.48 323.41 334.64 323.61 334.86 323.8 335.17 323.99 335.16 324.19 334.73 324.38 334.72 324.57 334.48 324.76 334.6 324.96 334.17 325.15 334.15 325.34 333.91 325.54 334.09 325.73 334.04 325.92 334.11 326.11 334.43 326.31 334.4 326.5 334.22 326.69 333.85 326.89 334 327.08 333.91 327.27 333.91 327.46 333.56 327.66 334.55 327.85 334.55 328.04 334.96 328.24 334.31 328.43 334.06 328.62 333.97 328.81 334.11 329.01 335.04 329.2 334.82 329.39 334.46 329.59 333.77 329.78 334.06 329.97 334.28 330.16 334.07 330.36 333.81 330.55 333.41 330.74 333.78 330.94 334.24 331.13 334.61 331.32 334.18 331.51 333.97 331.71 334.08 331.9 334.53 332.09 334.71 332.29 334.88 332.48 335.21 332.67 334.85 332.86 334.57 333.06 333.88 333.25 334.14 333.44 334.39 333.64 334.99 333.83 335.13 334.02 334.78 334.21 333.72 334.41 333.63 334.6 333.93 334.79 334.37 334.99 334.28 335.18 334.05 335.37 334.34 335.56 334.24 335.76 334.16 335.95 334.15 336.14 334.37 336.34 334.39 336.53 334.32 336.72 334.15 336.91 334.53 337.11 334.4 337.3 334.44 337.49 334.22 337.69 334.12 337.88 333.97 338.07 333.74 338.26 334.3 338.46 334.13 338.65 334.25 338.84 333.49 339.04 333.63 339.23 333.54 339.42 334.01 339.61 334.26 339.81 334.67 340 334.8 340.19 334.37 340.39 334.34 340.58 334.16 340.77 334.13 340.96 333.66 341.16 333.45 341.35 333.3 341.54 333.86 341.74 334.19 341.93 334.46 342.12 333.93 342.31 333.7 342.51 333.95 342.7 334.25 342.89 334.75 343.09 334.38 343.28 334.75 343.47 334.31 343.66 334.24 343.86 333.61 344.05 334.04 344.24 334.23 344.44 334.52 344.63 334.21 344.82 333.88 345.01 333.73 345.21 333.99 345.4 334.62 345.59 334.52 345.79 334.13 345.98 334.14 346.17 334.69 346.36 334.87 346.56 334.71 346.75 334.13 346.94 334.14 347.14 333.88 347.33 333.78 347.52 334.01 347.71 334.3 347.91 334.22 348.1 333.95 348.29 333.81 348.49 333.95 348.68 334.02 348.87 334.11 349.06 334.72 349.26 334.41 349.45 334.43 349.64 334.13 349.84 334.85 350.03 334.51 350.22 334.26 350.41 333.85 350.61 333.78 350.8 334.51 350.99 334.34 351.19 335.02 351.38 333.81 351.57 334.4 351.76 334.29 351.96 335.1 352.15 334.3 352.34 333.82 352.54 333.55 352.73 333.8 352.92 333.49 353.11 333.75 353.31 333.61 353.5 333.7 353.69 333.82 353.89 334.08 354.08 334.23 354.27 333.83 354.46 333.94 354.66 334.19 354.85 333.84 355.04 333.59 355.24 333.41 355.43 333.83 355.62 333.92 355.81 333.73 356.01 333.53 356.2 333.09 356.39 333.14 356.59 332.35 356.78 331.04 356.97 328.9 357.16 326.66 357.36 324.05 357.55 321.19 357.74 318.31 357.94 315.39 358.13 312.65 358.32 309.9 358.51 306.96 358.71 303.72 358.9 300.17 359.09 296.45 359.29 292.64 359.48 288.72 359.67 284.85 359.86 280.88 360.06 277.13 360.25 273.44 360.44 270 360.64 266.75 360.83 263.63 361.02 260.84 361.21 258.12 361.41 255.51 361.6 252.92 361.79 250.24 361.99 247.65 362.18 245.07 362.37 242.68 362.56 240.36 362.76 238.25 362.95 236.38 363.14 234.76 363.34 233.45 363.53 232.33 363.72 231.52 363.91 230.71 364.11 229.99 364.3 229.02 364.49 229.1 364.69 228.66 364.88 227.63 365.07 226.89 365.26 226.17 365.46 225.91 365.65 225.3 365.84 225.12 366.04 225.05 366.23 225.02 366.42 224.81 366.61 224.41 366.81 223.7 367 223.32 367.19 223.37 367.39 223.3 367.58 222.95 367.77 222.68 367.96 222.38 368.16 222.65 368.35 222.41 368.54 221.94 368.74 221.24 368.93 220.75 369.12 221.01 369.31 220.82 369.51 220.33 369.7 220.11 369.89 220.12 370.09 220.28 370.28 220.26 370.47 220.23 370.66 220.27 370.86 219.97 371.05 220.1 371.24 220.03 371.44 220.23 371.63 220 371.82 219.6 372.01 219.31 372.21 219.55 372.4 219.57 372.59 219.82 372.79 219.82 372.98 219.96 373.17 219.51 373.36 219.04 373.56 218.81 373.75 218.62 373.94 218.53 374.14 218.7 374.33 218.79 374.52 219 374.71 218.78 374.91 218.78 375.1 218.68 375.29 219.07 375.49 219.2 375.68 219.2 375.87 218.84 376.06 218.86 376.26 219 376.45 219.31 376.64 219.01 376.84 218.53 377.03 218.03 377.22 218.16 377.41 217.85 377.61 217.75 377.8 217.7 377.99 217.93 378.19 218.07 378.38 217.88 378.57 217.98 378.76 217.81 378.96 217.93 379.15 218.08 379.34 218.07 379.54 217.8 379.73 217.89 379.92 218.12 380.11 218.62 380.31 218.39" stroke="#6a00dd" stroke-width="2.1" fill="none" stroke-linejoin="round"/>
<path d="M313 334.12 313.19 333.92 313.39 334.3 313.58 334.06 313.77 334.39 313.96 334.31 314.16 334.37 314.35 334.33 314.54 334.35 314.74 334.27 314.93 334.19 315.12 333.76 315.31 333.38 315.51 333.49 315.7 333.85 315.89 334.78 316.09 334.92 316.28 334.7 316.47 334.28 316.66 333.93 316.86 333.96 317.05 334.22 317.24 334.67 317.44 334.52 317.63 334.27 317.82 333.61 318.01 333.87 318.21 333.74 318.4 334.12 318.59 334.11 318.79 334.32 318.98 334.11 319.17 333.78 319.36 333.59 319.56 334.34 319.75 334.68 319.94 334.82 320.14 333.97 320.33 333.91 320.52 334.07 320.71 334.43 320.91 334.53 321.1 334.53 321.29 334.02 321.49 333.8 321.68 333.62 321.87 333.71 322.06 333.35 322.26 333.41 322.45 333.63 322.64 334.19 322.84 334.42 323.03 334.56 323.22 334.7 323.41 334.3 323.61 334.05 323.8 333.62 323.99 333.91 324.19 333.78 324.38 334.2 324.57 334.06 324.76 333.98 324.96 333.47 325.15 333.17 325.34 332.98 325.54 333.01 325.73 333.32 325.92 333.85 326.11 334.26 326.31 334.14 326.5 334.26 326.69 334.22 326.89 334.49 327.08 334.7 327.27 333.98 327.46 333.54 327.66 333.63 327.85 334.09 328.04 334.01 328.24 332.86 328.43 331.24 328.62 328.42 328.81 325.71 329.01 322.84 329.2 320 329.39 317.2 329.59 314.56 329.78 312.15 329.97 310.18 330.16 308.35 330.36 306.52 330.55 304.83 330.74 303.18 330.94 301.47 331.13 299.73 331.32 297.98 331.51 296.43 331.71 294.86 331.9 293.34 332.09 291.76 332.29 290.18 332.48 288.57 332.67 286.98 332.86 285.31 333.06 283.64 333.25 281.91 333.44 280.31 333.64 278.65 333.83 276.97 334.02 275.19 334.21 273.56 334.41 271.84 334.6 270.11 334.79 268.27 334.99 266.56 335.18 264.86 335.37 263.06 335.56 261.29 335.76 259.55 335.95 257.88 336.14 256.21 336.34 254.64 336.53 253.14 336.72 251.67 336.91 250.08 337.11 248.55 337.3 247.01 337.49 245.59 337.69 244.16 337.88 242.82 338.07 241.41 338.26 239.87 338.46 238.44 338.65 237.1 338.84 235.9 339.04 234.55 339.23 233.33 339.42 232.28 339.61 231.37 339.81 230.48 340 229.71 340.19 228.63 340.39 227.34 340.58 226.37 340.77 225.81 340.96 225.76 341.16 225.67 341.35 225.13 341.54 224.32 341.74 223.48 341.93 223.22 342.12 222.99 342.31 222.92 342.51 222.68 342.7 222.71 342.89 222.49 343.09 222.34 343.28 221.92 343.47 221.8 343.66 221.68 343.86 221.55 344.05 221.28 344.24 220.88 344.44 221.19 344.63 220.94 344.82 221.1 345.01 221.06 345.21 221.31 345.4 221.5 345.59 221.4 345.79 221.38 345.98 220.8 346.17 220.8 346.36 220.57 346.56 220.78 346.75 220.06 346.94 220.02 347.14 219.76 347.33 219.74 347.52 219.98 347.71 220.14 347.91 220.75 348.1 220.65 348.29 220.46 348.49 220.11 348.68 219.79 348.87 219.92 349.06 220.01 349.26 220.1 349.45 220.18 349.64 220.25 349.84 220.56 350.03 220.37 350.22 220 350.41 219.9 350.61 219.96 350.8 220.56 350.99 220.53 351.19 220.4 351.38 220.15 351.57 219.77 351.76 219.85 351.96 219.46 352.15 219.66 352.34 219.87 352.54 219.94 352.73 219.63 352.92 219.41 353.11 219.3 353.31 219.6 353.5 219.54 353.69 219.33 353.89 219.16 354.08 219.27 354.27 219.41 354.46 219.37 354.66 219.26 354.85 219.21 355.04 219.86 355.24 219.59 355.43 219.3 355.62 218.55 355.81 219.09 356.01 219.2 356.2 218.68 356.39 218.1 356.59 218.63 356.78 219.33 356.97 219.47 357.16 219.17 357.36 218.73 357.55 218.56 357.74 219.09 357.94 219.41 358.13 219.55 358.32 218.61 358.51 218.65 358.71 218.92 358.9 219.39 359.09 219.18 359.29 219.27 359.48 218.94 359.67 219.01 359.86 218.4 360.06 218.47 360.25 218.31 360.44 218.16 360.64 217.92 360.83 218.12 361.02 218.44 361.21 218.56 361.41 218.42 361.6 218.53 361.79 218.73 361.99 218.94 362.18 218.91 362.37 219.69 362.56 219.45 362.76 218.91 362.95 217.95 363.14 217.81 363.34 218.18 363.53 218.5 363.72 218.53 363.91 218.54 364.11 218.39 364.3 218.43 364.49 218.56 364.69 218.49 364.88 218.39 365.07 218.02 365.26 218.01 365.46 217.96 365.65 218.13 365.84 218.67 366.04 219.28 366.23 219.36 366.42 219.09 366.61 218.51 366.81 218.75 367 218.58 367.19 218.83 367.39 218.69 367.58 218.72 367.77 218.59 367.96 218.39 368.16 218.37 368.35 218.31 368.54 218.21 368.74 218.12 368.93 218.31 369.12 218.57 369.31 218.63 369.51 218.59 369.7 218.41 369.89 217.68 370.09 217.29 370.28 217.3 370.47 217.76 370.66 217.88 370.86 217.59 371.05 217.39 371.24 217.74 371.44 217.51 371.63 218.02 371.82 217.77 372.01 218.46 372.21 218.64 372.4 219.06 372.59 218.42 372.79 217.69 372.98 217.5 373.17 218.2 373.36 218.19 373.56 218.18 373.75 217.81 373.94 217.68 374.14 217.29 374.33 217.05 374.52 217.45 374.71 218.01 374.91 218.53 375.1 218.99 375.29 218.52 375.49 218.63 375.68 218.2 375.87 218.38 376.06 218.24 376.26 218.15 376.45 218.14 376.64 218.17 376.84 218.06 377.03 217.96 377.22 218.11 377.41 218.06 377.61 218.37 377.8 217.98 377.99 218.13 378.19 217.87 378.38 218.11 378.57 218.3 378.76 218.32 378.96 218.39 379.15 218.12 379.34 218.17 379.54 218.09 379.73 217.97 379.92 218 380.11 218.18 380.31 218.5" stroke="#3333ff" stroke-width="2.1" fill="none" stroke-linejoin="round"/>
<path d="M313 334.13 313.19 334.12 313.39 333.87 313.58 333.93 313.77 333.77 313.96 333.91 314.16 333.67 314.35 333.83 314.54 333.96 314.74 334.15 314.93 334.09 315.12 333.94 315.31 333.72 315.51 333.95 315.7 333.94 315.89 334.08 316.09 333.86 316.28 334.1 316.47 334.1 316.66 334.31 316.86 334.04 317.05 334.18 317.24 333.98 317.44 334.14 317.63 333.96 317.82 334.09 318.01 333.97 318.21 333.98 318.4 333.65 318.59 333.7 318.79 333.76 318.98 334.15 319.17 334.22 319.36 334.01 319.56 333.84 319.75 333.85 319.94 334.05 320.14 333.89 320.33 334.03 320.52 333.77 320.71 333.53 320.91 332.73 321.1 332.22 321.29 331.14 321.49 330.18 321.68 328.85 321.87 327.75 322.06 326.3 322.26 324.78 322.45 323.17 322.64 321.51 322.84 319.88 323.03 318.27 323.22 316.7 323.41 315.19 323.61 313.74 323.8 312.4 323.99 311.08 324.19 309.78 324.38 308.42 324.57 307.1 324.76 305.81 324.96 304.5 325.15 303.21 325.34 301.86 325.54 300.53 325.73 299.13 325.92 297.8 326.11 296.43 326.31 295.12 326.5 293.73 326.69 292.36 326.89 291.01 327.08 289.63 327.27 288.27 327.46 286.93 327.66 285.65 327.85 284.36 328.04 283.04 328.24 281.69 328.43 280.38 328.62 279.01 328.81 277.73 329.01 276.4 329.2 275.08 329.39 273.73 329.59 272.4 329.78 271.09 329.97 269.73 330.16 268.34 330.36 267.07 330.55 265.7 330.74 264.34 330.94 262.93 331.13 261.58 331.32 260.22 331.51 258.85 331.71 257.47 331.9 256.17 332.09 254.97 332.29 253.72 332.48 252.46 332.67 251.29 332.86 250.28 333.06 249.24 333.25 248.09 333.44 246.95 333.64 246.05 333.83 245.15 334.02 244.4 334.21 243.48 334.41 242.75 334.6 241.85 334.79 241.07 334.99 240.28 335.18 239.51 335.37 238.8 335.56 238.06 335.76 237.38 335.95 236.67 336.14 235.92 336.34 235.2 336.53 234.52 336.72 233.99 336.91 233.42 337.11 232.85 337.3 232.24 337.49 231.77 337.69 231.33 337.88 230.88 338.07 230.52 338.26 230.17 338.46 230.01 338.65 230.19 338.84 230.03 339.04 229.46 339.23 229.02 339.42 228.83 339.61 228.45 339.81 228.46 340 228.22 340.19 228.55 340.39 228.18 340.58 227.74 340.77 227.36 340.96 227.42 341.16 227.8 341.35 227.5 341.54 227.45 341.74 226.79 341.93 226.58 342.12 226.04 342.31 226.17 342.51 226.39 342.7 226.41 342.89 226.21 343.09 225.27 343.28 225.07 343.47 224.48 343.66 224.65 343.86 224.66 344.05 225.22 344.24 225.28 344.44 224.95 344.63 224.47 344.82 224.23 345.01 224.2 345.21 224.42 345.4 224.33 345.59 224.48 345.79 224.09 345.98 223.76 346.17 223.94 346.36 223.9 346.56 224.04 346.75 223.26 346.94 223.1 347.14 223.28 347.33 223.27 347.52 223.07 347.71 223.21 347.91 223.3 348.1 223.74 348.29 223.87 348.49 224.04 348.68 223.79 348.87 223.6 349.06 222.87 349.26 222.88 349.45 222.23 349.64 222.42 349.84 221.55 350.03 221.64 350.22 221.36 350.41 222.06 350.61 221.92 350.8 222.32 350.99 222.22 351.19 222.07 351.38 221.47 351.57 220.69 351.76 220.55 351.96 221.19 352.15 221.8 352.34 221.76 352.54 221.31 352.73 220.93 352.92 221.08 353.11 221.37 353.31 221.34 353.5 221.23 353.69 220.64 353.89 220.85 354.08 220.6 354.27 220.56 354.46 219.89 354.66 219.58 354.85 220.09 355.04 220.77 355.24 221.15 355.43 221.06 355.62 221.3 355.81 220.94 356.01 220.58 356.2 219.75 356.39 220 356.59 219.8 356.78 219.94 356.97 219.91 357.16 219.7 357.36 219.99 357.55 219.86 357.74 220.64 357.94 219.98 358.13 220.13 358.32 220.01 358.51 220.75 358.71 220.71 358.9 219.94 359.09 219.37 359.29 219.66 359.48 220.56 359.67 219.99 359.86 219.73 360.06 219.57 360.25 220.18 360.44 219.88 360.64 219.14 360.83 219.2 361.02 219.47 361.21 219.66 361.41 219.78 361.6 219.5 361.79 219.59 361.99 219.15 362.18 219.37 362.37 219.55 362.56 219.69 362.76 219.39 362.95 219.55 363.14 219.78 363.34 219.82 363.53 219.54 363.72 218.8 363.91 218.64 364.11 218.24 364.3 218.77 364.49 218.89 364.69 219.13 364.88 218.84 365.07 218.91 365.26 218.55 365.46 218.95 365.65 218.61 365.84 218.89 366.04 218.78 366.23 218.62 366.42 218.43 366.61 218.37 366.81 218.9 367 218.91 367.19 219.03 367.39 218.7 367.58 219.09 367.77 218.85 367.96 219.16 368.16 218.97 368.35 218.59 368.54 217.96 368.74 218 368.93 218.43 369.12 219.21 369.31 219.01 369.51 218.67 369.7 218.45 369.89 218.72 370.09 218.88 370.28 218.8 370.47 218.52 370.66 218.22 370.86 217.96 371.05 217.83 371.24 217.73 371.44 217.76 371.63 217.74 371.82 218.15 372.01 218.37 372.21 218.14 372.4 218.46 372.59 218.25 372.79 218.88 372.98 218.73 373.17 219.04 373.36 218.82 373.56 218.5 373.75 217.88 373.94 218.25 374.14 218.29 374.33 218.68 374.52 218.37 374.71 218.44 374.91 218.28 375.1 218.15 375.29 218.11 375.49 217.64 375.68 217.58 375.87 217.49 376.06 218.26 376.26 218.02 376.45 218.21 376.64 217.95 376.84 218.38 377.03 218.27 377.22 218.46 377.41 218.58 377.61 218.87 377.8 218.74 377.99 218.43 378.19 217.93 378.38 217.45 378.57 217.01 378.76 217.32 378.96 217.87 379.15 218.13 379.34 218.18 379.54 217.75 379.73 217.68 379.92 217.69 380.11 217.77 380.31 218.02" stroke="#33bbff" stroke-width="2.1" fill="none" stroke-linejoin="round"/>
<path d="M302.88 333.91 303.07 333.93 303.26 334.11 303.45 334.1 303.65 334.15 303.84 334.08 304.03 334.16 304.23 334.15 304.42 334.3 304.61 334.2 304.8 334.21 305 334.06 305.19 334.34 305.38 334.25 305.58 334.26 305.77 333.99 305.96 333.85 306.15 333.8 306.35 333.77 306.54 333.9 306.73 334.08 306.93 334.27 307.12 334.32 307.31 334.16 307.5 333.9 307.7 333.77 307.89 333.76 308.08 333.78 308.28 333.85 308.47 333.85 308.66 333.94 308.85 333.87 309.05 333.53 309.24 330.89 309.43 325.98 309.63 319.9 309.82 313.23 310.01 306.85 310.2 301.52 310.4 297.77 310.59 294.38 310.78 291.11 310.98 287.91 311.17 284.89 311.36 281.97 311.55 279.22 311.75 276.55 311.94 273.96 312.13 271.56 312.33 269.41 312.52 267.28 312.71 265.3 312.9 263.34 313.1 261.4 313.29 259.44 313.48 257.64 313.68 255.97 313.87 254.34 314.06 252.64 314.25 251.02 314.45 249.57 314.64 248.06 314.83 246.68 315.03 245.25 315.22 243.95 315.41 242.66 315.6 241.58 315.8 240.54 315.99 239.55 316.18 238.64 316.38 237.85 316.57 237.2 316.76 236.43 316.95 235.65 317.15 234.78 317.34 234.11 317.53 233.48 317.73 232.8 317.92 232.05 318.11 231.41 318.3 230.88 318.5 230.44 318.69 229.83 318.88 229.32 319.08 228.21 319.27 227.95 319.46 227.73 319.65 227.64 319.85 226.92 320.04 226.73 320.23 226.08 320.43 225.54 320.62 225.05 320.81 224.85 321 224.82 321.2 224.5 321.39 224.49 321.58 224.43 321.78 224.48 321.97 223.9 322.16 223.65 322.35 223.31 322.55 223.53 322.74 223.71 322.93 223.75 323.13 223.4 323.32 223.01 323.51 222.92 323.7 222.97 323.9 222.64 324.09 222.27 324.28 222.05 324.48 222.26 324.67 222.39 324.86 221.44 325.05 221.14 325.25 220.73 325.44 221.38 325.63 221.56 325.83 221.3 326.02 221.25 326.21 221.05 326.4 221.09 326.6 221.16 326.79 220.8 326.98 221.2 327.18 221.04 327.37 220.9 327.56 220.65 327.75 220.87 327.95 221.16 328.14 220.85 328.33 220.84 328.53 220.94 328.72 220.88 328.91 220.46 329.1 220.13 329.3 220.39 329.49 220.31 329.68 220.09 329.88 219.86 330.07 220.33 330.26 220.36 330.45 220.82 330.65 220 330.84 220.23 331.03 219.69 331.23 219.99 331.42 220.02 331.61 219.86 331.8 219.87 332 219.21 332.19 219.31 332.38 219.27 332.58 219.15 332.77 218.96 332.96 219.01 333.15 219.75 333.35 219.61 333.54 219.31 333.73 218.82 333.93 219.32 334.12 219.72 334.31 220.19 334.5 219.84 334.7 219.72 334.89 219.34 335.08 220.09 335.28 219.8 335.47 220.1 335.66 220.21 335.85 220.73 336.05 220.45 336.24 219.46 336.43 219.79 336.63 220.19 336.82 220.5 337.01 220.21 337.2 219.98 337.4 220.24 337.59 219.84 337.78 220.07 337.98 219.9 338.17 220.11 338.36 219.72 338.55 219.64 338.75 219.2 338.94 219.16 339.13 218.72 339.33 219.31 339.52 219.4 339.71 219.62 339.9 219.2 340.1 219.74 340.29 219.83 340.48 219.96 340.68 218.76 340.87 218.84 341.06 218.55 341.25 219.33 341.45 219.13 341.64 219.92 341.83 219.92 342.03 220.16 342.22 219.87 342.41 219.39 342.6 219.29 342.8 218.51 342.99 219.06 343.18 219.24 343.38 219.46 343.57 219.24 343.76 218.83 343.95 218.82 344.15 218.86 344.34 219.02 344.53 219.03 344.73 218.78 344.92 218.85 345.11 219.07 345.3 219.17 345.5 218.88 345.69 218.27 345.88 218.54 346.08 218.99 346.27 219.5 346.46 218.82 346.65 218.77 346.85 218.17 347.04 217.97 347.23 218.31 347.43 218.68 347.62 219.06 347.81 218.59 348 219.18 348.2 219.24 348.39 219.22 348.58 218.5 348.78 218.42 348.97 218.53 349.16 218.34 349.35 218.03 349.55 217.44 349.74 217.87 349.93 218.07 350.13 218.39 350.32 218.52 350.51 219.16 350.7 219.11 350.9 219.44 351.09 218.82 351.28 219.2 351.48 218.67 351.67 218.9 351.86 218.83 352.05 219.12 352.25 219.18 352.44 218.55 352.63 218.21 352.83 218.13 353.02 218.28 353.21 218.64 353.4 218.92 353.6 219.32 353.79 218.8 353.98 218.5 354.18 218.26 354.37 218.47 354.56 218.5 354.75 218.22 354.95 218.08 355.14 218.17 355.33 218.7 355.53 218.88 355.72 218.89 355.91 218.64 356.1 218.45 356.3 218.22 356.49 218.16 356.68 218.45 356.88 218.64 357.07 218.93 357.26 218.49 357.45 218.48 357.65 218.21 357.84 218.49 358.03 218.19 358.23 218.28 358.42 218.68 358.61 218.29 358.8 218.46 359 217.93 359.19 218.67 359.38 218.25 359.58 218.64 359.77 217.98 359.96 218.02 360.15 218.14 360.35 218.13 360.54 218.69 360.73 218.38 360.93 218.52 361.12 218.15 361.31 217.76 361.5 218.01 361.7 218.05 361.89 218.06 362.08 218.05 362.28 218.02 362.47 218.09 362.66 218.15 362.85 218.36 363.05 218.76 363.24 218.11 363.43 217.23 363.63 217.42 363.82 217.82 364.01 218.06 364.2 217.75 364.4 217.78 364.59 218.31 364.78 218.32 364.98 218.23 365.17 218 365.36 217.95 365.55 218.26 365.75 218.56 365.94 218.77 366.13 218.83 366.33 218.54 366.52 218.5 366.71 217.92 366.9 218.31 367.1 218.35 367.29 218.96 367.48 218.41 367.68 218.49 367.87 218.27 368.06 218.6 368.25 218.44 368.45 218.4 368.64 217.99 368.83 217.55 369.03 217.93 369.22 217.88 369.41 217.87 369.6 217.5 369.8 217.64 369.99 217.87 370.18 217.98 370.38 217.88 370.57 217.48 370.76 217.5 370.95 217.62 371.15 217.79 371.34 218.06 371.53 217.75 371.73 217.88 371.92 217.19 372.11 217.65 372.3 217.95 372.5 218.32 372.69 218.18 372.88 218.19 373.08 217.93 373.27 217.94 373.46 217.97 373.65 218.07 373.85 218.17 374.04 217.9 374.23 218.11 374.43 218.24 374.62 218.54 374.81 218.41 375 218.23 375.2 217.81 375.39 218.01 375.58 217.91 375.78 217.83 375.97 217.93 376.16 217.99 376.35 217.66 376.55 217.5 376.74 217.63 376.93 218.17 377.13 218.18 377.32 217.9 377.51 217.91 377.7 217.81 377.9 218.2 378.09 218.05 378.28 218.05 378.48 217.96 378.67 218.17 378.86 217.77 379.05 217.67 379.25 217.53 379.44 217.59 379.63 217.61 379.83 217.45 380.02 218.01 380.21 217.83 380.4 218.06" stroke="#008c00" stroke-width="2.1" fill="none" stroke-linejoin="round"/>
<path d="M299.5 334.34 299.69 334.38 299.89 334.21 300.08 334.09 300.27 333.94 300.46 333.75 300.66 333.69 300.85 333.71 301.04 333.74 301.24 333.91 301.43 333.75 301.62 333.7 301.81 333.78 302.01 334.1 302.2 334.29 302.39 334.27 302.59 334.01 302.78 333.88 302.97 333.66 303.16 333.89 303.36 334.01 303.55 333.98 303.74 334.12 303.94 334.17 304.13 334.56 304.32 334.31 304.51 333.2 304.71 331.81 304.9 329.87 305.09 327.99 305.29 325.46 305.48 322.68 305.67 319.67 305.86 316.45 306.06 313.21 306.25 309.98 306.44 306.77 306.64 303.7 306.83 300.83 307.02 298.24 307.21 295.54 307.41 292.76 307.6 289.93 307.79 287.02 307.99 284.1 308.18 281.2 308.37 278.3 308.56 275.52 308.76 272.68 308.95 270.06 309.14 267.61 309.34 265.26 309.53 263.16 309.72 261.26 309.91 259.54 310.11 257.73 310.3 256 310.49 254.27 310.69 252.62 310.88 251.01 311.07 249.43 311.26 247.93 311.46 246.34 311.65 245 311.84 243.55 312.04 242.4 312.23 241.17 312.42 240.15 312.61 239.31 312.81 238.44 313 237.77 313.19 237.05 313.39 236.53 313.58 235.92 313.77 235.37 313.96 234.67 314.16 234.13 314.35 233.47 314.54 233.02 314.74 232.51 314.93 232.07 315.12 231.64 315.31 231.1 315.51 230.63 315.7 230.14 315.89 229.76 316.09 228.98 316.28 228.61 316.47 228.05 316.66 228 316.86 228 317.05 228 317.24 227.61 317.44 227.06 317.63 226.47 317.82 225.89 318.01 225.5 318.21 225.71 318.4 225.58 318.59 225.45 318.79 224.87 318.98 224.79 319.17 224.74 319.36 224.69 319.56 224.68 319.75 224.61 319.94 224.4 320.14 224.05 320.33 223.43 320.52 223.28 320.71 223.39 320.91 223.13 321.1 222.62 321.29 222.44 321.49 222.75 321.68 222.75 321.87 222.3 322.06 222.35 322.26 222.18 322.45 222.06 322.64 221.51 322.84 221.37 323.03 221.42 323.22 221.55 323.41 221.55 323.61 221.07 323.8 220.77 323.99 220.56 324.19 220.58 324.38 220.26 324.57 220.63 324.76 220.7 324.96 220.64 325.15 220.58 325.34 220.65 325.54 220.81 325.73 220.63 325.92 220.62 326.11 221 326.31 220.59 326.5 220.34 326.69 219.61 326.89 220.11 327.08 220.09 327.27 220.44 327.46 220.19 327.66 220.55 327.85 220.21 328.04 220.28 328.24 219.85 328.43 220.35 328.62 219.91 328.81 220.29 329.01 219.61 329.2 220.04 329.39 219.75 329.59 220.33 329.78 219.9 329.97 220 330.16 220.03 330.36 220.55 330.55 220.22 330.74 219.88 330.94 219.81 331.13 219.79 331.32 219.54 331.51 219.19 331.71 219.21 331.9 219.78 332.09 219.56 332.29 219.48 332.48 219.56 332.67 220.07 332.86 220.85 333.06 220.39 333.25 220.49 333.44 219.9 333.64 219.68 333.83 219.71 334.02 219.44 334.21 219.81 334.41 219.72 334.6 219.61 334.79 219.43 334.99 219.33 335.18 219.49 335.37 219.71 335.56 219.73 335.76 219.93 335.95 219.55 336.14 219.7 336.34 219.9 336.53 219.91 336.72 219.86 336.91 219.59 337.11 219.85 337.3 219.81 337.49 219.92 337.69 219.87 337.88 219.57 338.07 219.24 338.26 219.15 338.46 218.9 338.65 218.99 338.84 219.12 339.04 219.17 339.23 219.11 339.42 218.79 339.61 218.96 339.81 219.08 340 219.29 340.19 219.59 340.39 219.44 340.58 219.55 340.77 219.37 340.96 219.55 341.16 218.9 341.35 218.89 341.54 218.45 341.74 219.4 341.93 219.27 342.12 219.16 342.31 218.62 342.51 218.46 342.7 219.02 342.89 219.5 343.09 219.45 343.28 219.1 343.47 218.38 343.66 218.04 343.86 218.26 344.05 218.37 344.24 219.3 344.44 219.35 344.63 219.42 344.82 218.62 345.01 218.1 345.21 217.75 345.4 217.93 345.59 218.37 345.79 218.75 345.98 218.86 346.17 218.78 346.36 218.48 346.56 218.51 346.75 218.91 346.94 219.45 347.14 218.72 347.33 218.01 347.52 217.84 347.71 218.57 347.91 218.7 348.1 218.51 348.29 218.36 348.49 218.98 348.68 219.36 348.87 219.39 349.06 218.76 349.26 218.36 349.45 218.02 349.64 218.16 349.84 218.16 350.03 218.5 350.22 218.28 350.41 218.47 350.61 218 350.8 218.47 350.99 218.14 351.19 218.43 351.38 217.81 351.57 218.24 351.76 218.61 351.96 219.04 352.15 218.6 352.34 218.19 352.54 218.71 352.73 218.94 352.92 219.08 353.11 218.39 353.31 218.23 353.5 218.31 353.69 218.36 353.89 218.88 354.08 218.63 354.27 219.22 354.46 218.82 354.66 219.23 354.85 218.58 355.04 218.77 355.24 218.35 355.43 218.34 355.62 217.96 355.81 217.91 356.01 217.72 356.2 217.9 356.39 217.96 356.59 218.1 356.78 217.88 356.97 218.02 357.16 218.72 357.36 218.95 357.55 218.99 357.74 218.51 357.94 218.61 358.13 218.57 358.32 218.61 358.51 218.29 358.71 218.02 358.9 217.86 359.09 217.81 359.29 218.36 359.48 218.59 359.67 218.86 359.86 218.8 360.06 218.55 360.25 218.45 360.44 217.86 360.64 217.99 360.83 217.71 361.02 218.3 361.21 218.23 361.41 218.32 361.6 218.01 361.79 218.51 361.99 218.7 362.18 218.67 362.37 218.45 362.56 218.54 362.76 218.71 362.95 218.27 363.14 217.87 363.34 218.1 363.53 218.4 363.72 218.32 363.91 217.73 364.11 217.13 364.3 217.49 364.49 217.52 364.69 218.46 364.88 218.35 365.07 218.8 365.26 218.57 365.46 218.92 365.65 218.46 365.84 217.79 366.04 217.65 366.23 217.96 366.42 218.03 366.61 218.07 366.81 217.92 367 218.05 367.19 217.62 367.39 217.73 367.58 218.52 367.77 218.83 367.96 218.61 368.16 218.07 368.35 218.15 368.54 218.53 368.74 218.32 368.93 218.15 369.12 217.86 369.31 217.96 369.51 217.7 369.7 217.68 369.89 217.7 370.09 218.24 370.28 218.41 370.47 218.39 370.66 217.8 370.86 217.59 371.05 217.66 371.24 217.83 371.44 217.79 371.63 217.81 371.82 217.88 372.01 218.27 372.21 218.14 372.4 217.78 372.59 217.3 372.79 217.18 372.98 217.44 373.17 217.5 373.36 217.91 373.56 218.21 373.75 218.53 373.94 218.15 374.14 217.84 374.33 217.21 374.52 217.35 374.71 217.82 374.91 218.22 375.1 218.19 375.29 217.87 375.49 217.93 375.68 217.8 375.87 217.99 376.06 217.93 376.26 217.82 376.45 217.64 376.64 217.58 376.84 217.95 377.03 217.8 377.22 217.94 377.41 217.95 377.61 218.2 377.8 218.26 377.99 218.15 378.19 218.22 378.38 217.74 378.57 217.5 378.76 217.27 378.96 217.55 379.15 217.78 379.34 217.7 379.54 217.86 379.73 217.85 379.92 218.22 380.11 217.89 380.31 217.88" stroke="#ffaa00" stroke-width="2.1" fill="none" stroke-linejoin="round"/>
<path d="M292.75 333.07 292.94 332.95 293.14 333.35 293.33 333.47 293.52 333.48 293.71 333.15 293.91 333.34 294.1 333.42 294.29 333.4 294.49 333.29 294.68 333.45 294.87 333.6 295.06 333.88 295.26 333.72 295.45 333.75 295.64 333.45 295.84 333.5 296.03 333.42 296.22 333.2 296.41 333.28 296.61 333.3 296.8 333.72 296.99 333.7 297.19 333.9 297.38 333.57 297.57 333.5 297.76 333.35 297.96 333.33 298.15 333.45 298.34 333.4 298.54 333.59 298.73 333.58 298.92 333.59 299.11 333.57 299.31 333.47 299.5 333.57 299.69 333.38 299.89 332.35 300.08 330.82 300.27 328.87 300.46 326.81 300.66 324.33 300.85 321.53 301.04 318.58 301.24 315.41 301.43 312.18 301.62 308.89 301.81 305.66 302.01 302.53 302.2 299.49 302.39 296.35 302.59 292.81 302.78 289.01 302.97 284.93 303.16 280.8 303.36 276.7 303.55 272.88 303.74 269.18 303.94 265.95 304.13 263.21 304.32 261.18 304.51 259.26 304.71 257.32 304.9 255.47 305.09 253.77 305.29 252.04 305.48 250.31 305.67 248.68 305.86 247.22 306.06 245.78 306.25 244.32 306.44 242.95 306.64 241.68 306.83 240.55 307.02 239.54 307.21 238.53 307.41 237.51 307.6 236.65 307.79 235.85 307.99 235.21 308.18 234.52 308.37 234.09 308.56 233.5 308.76 232.92 308.95 232.26 309.14 231.83 309.34 231.59 309.53 231.19 309.72 230.66 309.91 230.09 310.11 229.67 310.3 229.57 310.49 229.34 310.69 229.32 310.88 228.94 311.07 228.6 311.26 227.66 311.46 226.96 311.65 226.71 311.84 226.78 312.04 226.8 312.23 226.49 312.42 226.15 312.61 226.03 312.81 225.6 313 225.57 313.19 224.76 313.39 224.83 313.58 224.44 313.77 224.71 313.96 224.2 314.16 224.48 314.35 224.25 314.54 224.41 314.74 224.23 314.93 224.04 315.12 223.74 315.31 223.36 315.51 223.36 315.7 223.33 315.89 223.22 316.09 222.61 316.28 222.19 316.47 221.58 316.66 221.46 316.86 221.03 317.05 221.19 317.24 221.2 317.44 221.46 317.63 221.43 317.82 221.21 318.01 221.02 318.21 220.7 318.4 220.67 318.59 220.41 318.79 220.73 318.98 220.55 319.17 220.7 319.36 220.42 319.56 220.53 319.75 220.31 319.94 219.89 320.14 219.78 320.33 219.65 320.52 219.67 320.71 219.3 320.91 219.16 321.1 219 321.29 219.25 321.49 219.67 321.68 219.47 321.87 219.53 322.06 219.03 322.26 219.28 322.45 218.68 322.64 218.86 322.84 218.91 323.03 219.72 323.22 219.53 323.41 219.44 323.61 219.09 323.8 219.31 323.99 219.01 324.19 218.77 324.38 218.48 324.57 218.81 324.76 218.82 324.96 218.79 325.15 218.78 325.34 218.55 325.54 218.81 325.73 218.29 325.92 218.7 326.11 218.74 326.31 219.13 326.5 219.07 326.69 218.98 326.89 219 327.08 218.64 327.27 218.72 327.46 218.43 327.66 218.5 327.85 218.35 328.04 218.65 328.24 218.41 328.43 219.01 328.62 219.06 328.81 219.51 329.01 218.81 329.2 218.69 329.39 218.44 329.59 218.43 329.78 218.18 329.97 218.52 330.16 218.53 330.36 218.39 330.55 218.39 330.74 218.44 330.94 219.13 331.13 218.89 331.32 219.1 331.51 218.64 331.71 218.98 331.9 218.79 332.09 219.16 332.29 218.9 332.48 218.81 332.67 218.05 332.86 217.94 333.06 217.92 333.25 218.02 333.44 217.86 333.64 218.2 333.83 218.5 334.02 218.71 334.21 218.28 334.41 218.27 334.6 218.7 334.79 219.01 334.99 218.72 335.18 218.11 335.37 218.18 335.56 218.7 335.76 218.96 335.95 219.07 336.14 219.72 336.34 219.55 336.53 219.48 336.72 218.89 336.91 219.18 337.11 219.03 337.3 218.98 337.49 218.44 337.69 218.42 337.88 218.17 338.07 218.53 338.26 218.15 338.46 218.26 338.65 218.71 338.84 218.58 339.04 218.21 339.23 217.58 339.42 218.37 339.61 218.44 339.81 218.51 340 218.33 340.19 218.77 340.39 218.57 340.58 218.52 340.77 218.43 340.96 218.87 341.16 218.59 341.35 218.76 341.54 218.44 341.74 218.63 341.93 217.94 342.12 218.17 342.31 218.07 342.51 218.32 342.7 218 342.89 218.37 343.09 218.54 343.28 218.65 343.47 218.12 343.66 218.19 343.86 217.93 344.05 217.76 344.24 217.8 344.44 218.39 344.63 218.72 344.82 218.49 345.01 217.98 345.21 218.22 345.4 218.49 345.59 219.2 345.79 219.14 345.98 218.72 346.17 217.76 346.36 217.35 346.56 217.63 346.75 218.17 346.94 217.87 347.14 217.55 347.33 217.43 347.52 218 347.71 218.45 347.91 218.5 348.1 217.95 348.29 217.82 348.49 217.89 348.68 218.25 348.87 218.25 349.06 217.95 349.26 218.25 349.45 218.16 349.64 218.55 349.84 218.11 350.03 218.1 350.22 218.12 350.41 218.44 350.61 218.49 350.8 217.98 350.99 217.73 351.19 217.65 351.38 218.23 351.57 218.72 351.76 219.15 351.96 219.06 352.15 218.62 352.34 218.25 352.54 217.84 352.73 218.19 352.92 218.25 353.11 218.57 353.31 218.54 353.5 219 353.69 219.13 353.89 218.68 354.08 218.58 354.27 218.18 354.46 218.19 354.66 217.82 354.85 217.95 355.04 218.18 355.24 218.14 355.43 217.86 355.62 217.56 355.81 217.33 356.01 217.6 356.2 217.89 356.39 218.06 356.59 218.42 356.78 218.59 356.97 218.63 357.16 218.75 357.36 218.54 357.55 218.59 357.74 218.21 357.94 218.25 358.13 218.37 358.32 217.84 358.51 218.26 358.71 218.28 358.9 219.18 359.09 218.65 359.29 218.27 359.48 217.44 359.67 217.69 359.86 217.74 360.06 218.37 360.25 218.22 360.44 218.22 360.64 218.35 360.83 218.38 361.02 218.68 361.21 218.24 361.41 218.01 361.6 218.2 361.79 218.32 361.99 218.83 362.18 219.02 362.37 219.25 362.56 219.08 362.76 218.83 362.95 218.83 363.14 218.37 363.34 218.06 363.53 217.54 363.72 217.5 363.91 217.48 364.11 217.13 364.3 217.35 364.49 217.35 364.69 218.13 364.88 218.31 365.07 218.26 365.26 218.04 365.46 217.9 365.65 217.9 365.84 218.24 366.04 218.48 366.23 218.66 366.42 218.47 366.61 218.6 366.81 218.52 367 218.6 367.19 218.06 367.39 218.23 367.58 217.97 367.77 218.67 367.96 218.52 368.16 218.34 368.35 217.87 368.54 217.67 368.74 217.86 368.93 217.94 369.12 217.97 369.31 217.93 369.51 217.76 369.7 218.02 369.89 218.22 370.09 218.96 370.28 218.8 370.47 218.93 370.66 218.47 370.86 218.3 371.05 218.01 371.24 217.74 371.44 218.1 371.63 218.03 371.82 218.12 372.01 217.9 372.21 218.04 372.4 217.66 372.59 217.97 372.79 217.88 372.98 218.2 373.17 217.71 373.36 217.65 373.56 217.82 373.75 218 373.94 217.76 374.14 217.39 374.33 217.52 374.52 217.83 374.71 218.1 374.91 217.7 375.1 217.84 375.29 217.5 375.49 217.42 375.68 217.35 375.87 217.13 376.06 217.57 376.26 217.58 376.45 217.92 376.64 217.99 376.84 217.92 377.03 218.36 377.22 218.34 377.41 218.34 377.61 218.38 377.8 218.12 377.99 217.97 378.19 217.68 378.38 217.69 378.57 217.71 378.76 217.87 378.96 217.9 379.15 218 379.34 217.97 379.54 218.01 379.73 218.3 379.92 218.81 380.11 218.79 380.31 218.54" stroke="#cc6619" stroke-width="2.1" fill="none" stroke-linejoin="round"/>
<path d="M267.77 332.32 267.97 332.44 268.16 332.19 268.35 333.23 268.55 333.54 268.74 334 268.93 333.57 269.12 333.13 269.32 332.57 269.51 332.19 269.7 332.66 269.9 333.28 270.09 333.02 270.28 331.99 270.47 332.23 270.67 333.21 270.86 332.95 271.05 332.86 271.25 332.08 271.44 333.61 271.63 333.31 271.82 334.19 272.02 333.28 272.21 332.7 272.4 332.11 272.6 331.84 272.79 331.88 272.98 331.41 273.17 331.68 273.37 332.89 273.56 334.15 273.75 333.94 273.95 332.94 274.14 331.91 274.33 332.4 274.52 332.84 274.72 334 274.91 334.33 275.1 334.23 275.3 333.79 275.49 334.01 275.68 333.4 275.87 333.14 276.07 332.41 276.26 332.94 276.45 332.97 276.65 333.49 276.84 333.2 277.03 333.41 277.22 333.4 277.42 333.25 277.61 332.99 277.8 332.35 278 333.58 278.19 332.94 278.38 333.5 278.57 333.21 278.77 334.05 278.96 334.1 279.15 334 279.35 333.65 279.54 332.71 279.73 332.45 279.92 332.63 280.12 333.17 280.31 333 280.5 333.49 280.7 332.86 280.89 333.49 281.08 333.26 281.27 333.11 281.47 332.6 281.66 332.74 281.85 333.49 282.05 332.53 282.24 332.1 282.43 332.58 282.62 333.4 282.82 333.31 283.01 333.19 283.2 333.19 283.4 334.18 283.59 333.68 283.78 333.68 283.97 332.76 284.17 333.19 284.36 332.74 284.55 332.51 284.75 331.72 284.94 332.49 285.13 332.45 285.32 332.3 285.52 331.5 285.71 332.17 285.9 332.86 286.1 333.68 286.29 333.43 286.48 333.42 286.67 332.48 286.87 331.77 287.06 331.82 287.25 332.17 287.45 333 287.64 333.43 287.83 334.53 288.02 334.63 288.22 333.36 288.41 332.54 288.6 331.99 288.8 332.36 288.99 333.21 289.18 333.52 289.37 333.93 289.57 332.66 289.76 332.4 289.95 333.08 290.15 334.25 290.34 334.3 290.53 333.56 290.72 333.44 290.92 334.11 291.11 334.16 291.3 334.13 291.5 333.44 291.69 333.57 291.88 333.16 292.07 332.54 292.27 332.77 292.46 333.1 292.65 334.08 292.85 334.7 293.04 333.95 293.23 333.5 293.42 332.52 293.62 332.84 293.81 333.13 294 333.78 294.2 333.83 294.39 333.82 294.58 332.89 294.77 332.72 294.97 331.55 295.16 329.56 295.35 327.33 295.55 323.84 295.74 319.92 295.93 315.92 296.12 312.35 296.32 308.94 296.51 305.29 296.7 301.38 296.9 297.3 297.09 293.19 297.28 289.3 297.47 285.65 297.67 282.17 297.86 279.05 298.05 276.32 298.25 274.07 298.44 272.06 298.63 270.03 298.82 268.22 299.02 266.22 299.21 264.54 299.4 262.8 299.6 261.32 299.79 260.05 299.98 258.61 300.17 257.06 300.37 255.6 300.56 254.28 300.75 252.93 300.95 251.7 301.14 250.12 301.33 249.08 301.52 248.02 301.72 247.31 301.91 246.35 302.1 245.12 302.3 244.32 302.49 243.28 302.68 242.57 302.87 241.49 303.07 240.5 303.26 239.48 303.45 238.51 303.65 237.82 303.84 236.9 304.03 236.27 304.22 235.47 304.42 234.78 304.61 234.11 304.8 233.45 305 232.81 305.19 231.84 305.38 231.1 305.57 230.54 305.77 230.24 305.96 230.67 306.15 230.16 306.35 229.02 306.54 229.06 306.73 228.62 306.92 227.96 307.12 227.98 307.31 226.06 307.5 226.48 307.7 225.97 307.89 226.44 308.08 225.25 308.27 223.61 308.47 223.33 308.66 223.86 308.85 224.26 309.05 224.15 309.24 223.11 309.43 222.29 309.62 221.75 309.82 221.48 310.01 222.74 310.2 223.08 310.4 222.69 310.59 221.61 310.78 221.16 310.97 221.84 311.17 221.47 311.36 221.55 311.55 221.98 311.75 221.56 311.94 220.87 312.13 220.17 312.32 221.18 312.52 221.41 312.71 221.47 312.9 219.91 313.1 219.79 313.29 219.87 313.48 220.62 313.67 219.57 313.87 218.86 314.06 218.89 314.25 219.88 314.45 220.35 314.64 219.54 314.83 220.07 315.02 219.22 315.22 219.12 315.41 217.99 315.6 218.32 315.8 218.99 315.99 219.4 316.18 219.2 316.37 218.72 316.57 218.72 316.76 218.71 316.95 219.19 317.15 219.56 317.34 219.13 317.53 218.7 317.72 217.96 317.92 217.68 318.11 218.22 318.3 218.84 318.5 219.81 318.69 219.04 318.88 219.42 319.07 219.55 319.27 219.58 319.46 219.64 319.65 218.97 319.85 218.58 320.04 217.63 320.23 218.35 320.42 219.31 320.62 219.97 320.81 219.6 321 218.93 321.2 217.96 321.39 218.99 321.58 219.8 321.77 220.12 321.97 219.21 322.16 220 322.35 220.05 322.55 219.61 322.74 218.44 322.93 218.57 323.12 218.37 323.32 219.04 323.51 219.14 323.7 219.39 323.9 217.08 324.09 217.28 324.28 217.09 324.47 217.88 324.67 217.16 324.86 217.11 325.05 217.33 325.25 218.54 325.44 218.7 325.63 219.5 325.82 217.92 326.02 217.94 326.21 217.6 326.4 218.23 326.6 219.03 326.79 218.71 326.98 219.56 327.17 219.05 327.37 219.65 327.56 218.4 327.75 218.3 327.95 218.53 328.14 218.67 328.33 217.84 328.52 217.91 328.72 217.57 328.91 218.71 329.1 218.32 329.3 219.07 329.49 219.24 329.68 218.35 329.87 217.87 330.07 217.08 330.26 218.5 330.45 218.55 330.65 219.26 330.84 217.95 331.03 219.11 331.22 218.33 331.42 219.73 331.61 219.58 331.8 219.82 332 218.66 332.19 217.41 332.38 217.7 332.57 218.37 332.77 218.46 332.96 218.82 333.15 219.09 333.35 219.27 333.54 218.49 333.73 217.9 333.92 217.55 334.12 218.56 334.31 218.37 334.5 217.9 334.7 217.3 334.89 218.13 335.08 218.58 335.27 218.11 335.47 216.91 335.66 217.16 335.85 217.63 336.05 218.31 336.24 219.21 336.43 217.73 336.62 218.07 336.82 217.66 337.01 219.24 337.2 218.58 337.4 217.72 337.59 217.63 337.78 217.63 337.97 217.95 338.17 216.65 338.36 216.96 338.55 217.18 338.75 217.44 338.94 218.02 339.13 218.15 339.32 218.9 339.52 218.74 339.71 218.83 339.9 218.77 340.1 217.69 340.29 217.14 340.48 217.5 340.67 218.49 340.87 218.47 341.06 218.93 341.25 218.74 341.45 219.74 341.64 219.77 341.83 219.39 342.02 219.52 342.22 219.07 342.41 218.6 342.6 217.17 342.8 217.51 342.99 218.55 343.18 219.71 343.37 219.71 343.57 218.63 343.76 217.79 343.95 216.92 344.15 218.01 344.34 218.07 344.53 218.21 344.72 217.76 344.92 217.84 345.11 217.28 345.3 217.29 345.5 217.76 345.69 218.9 345.88 218.19 346.07 217.76 346.27 218.42 346.46 219.02 346.65 218.87 346.85 218.47 347.04 219.24 347.23 219.13 347.42 218.51 347.62 218.5 347.81 218.98 348 218.67 348.2 218.43 348.39 218.82 348.58 218.97 348.77 218.55 348.97 217.33 349.16 216.71 349.35 216.44 349.55 217.59 349.74 218.51 349.93 219.81 350.12 219.53 350.32 219.43 350.51 218.68 350.7 218.3 350.9 217.51 351.09 218.07 351.28 218.22 351.47 218.6 351.67 218.02 351.86 218.55 352.05 217.95 352.25 217.3 352.44 215.95 352.63 217.13 352.82 217.97 353.02 219.11 353.21 218.33 353.4 217.2 353.6 216.14 353.79 216.86 353.98 218.16 354.17 218.62 354.37 217.88 354.56 216.92 354.75 216.7 354.95 217.51 355.14 218.55 355.33 218.26 355.52 217.73 355.72 217.1 355.91 217.69 356.1 216.77 356.3 216.54 356.49 216.09 356.68 217.1 356.87 216.27 357.07 217 357.26 216.47 357.45 217.39 357.65 217.19 357.84 217.65 358.03 217.84 358.22 218.08 358.42 217.85 358.61 217.7 358.8 218.01 359 218.14 359.19 217.4 359.38 217.18 359.57 217.86 359.77 218.97 359.96 218.91 360.15 217.65 360.35 217.73 360.54 217.2 360.73 218.07 360.92 217.9 361.12 218.69 361.31 218.05 361.5 217.95 361.7 217.05 361.89 216.63 362.08 216.82 362.27 218.08 362.47 219.89 362.66 219.22 362.85 219.03 363.05 218.5 363.24 219.13 363.43 218.06 363.62 217.45 363.82 216.78 364.01 218.26 364.2 218.98 364.4 219.29 364.59 218.53 364.78 217.98 364.97 217.19 365.17 216.81 365.36 216.57 365.55 217.4 365.75 217.92 365.94 218.53 366.13 218.52 366.32 219.1 366.52 219.15 366.71 219.09 366.9 218.54 367.1 218.29 367.29 219.18 367.48 219.21 367.67 219.18 367.87 217.76 368.06 217.44 368.25 217.55 368.45 218.38 368.64 218.41 368.83 218.55 369.02 217.93 369.22 218.21 369.41 217.65 369.6 218.31 369.8 218.76 369.99 219.76 370.18 219.02 370.37 218.59 370.57 218.14 370.76 217.37 370.95 217.65 371.15 217.44 371.34 219.29 371.53 219.04 371.72 218.77 371.92 218.27 372.11 217.08 372.3 217.77 372.5 217.95 372.69 219.52 372.88 219.06 373.07 219.1 373.27 218.5 373.46 218.9 373.65 218.32 373.85 218.56 374.04 218.13 374.23 218.4 374.42 218.44 374.62 218.48 374.81 218.42 375 217.82 375.2 218.75 375.39 218.04 375.58 218.23 375.77 217.09 375.97 217.53 376.16 218.24 376.35 218.09 376.55 218.2 376.74 217.78 376.93 217.74 377.12 218 377.32 218.24 377.51 218.21 377.7 217.72 377.9 217.08 378.09 217.55 378.28 217.17 378.47 217.59 378.67 217.42 378.86 218.25 379.05 218.07 379.25 217.94 379.44 218.32 379.63 217.99 379.82 218.08 380.02 217.78 380.21 218.35 380.4 218.48" stroke="#ff0000" stroke-width="2.4" fill="none" stroke-linejoin="round"/>
<rect x="245.5" y="200.5" width="135" height="134" fill="none" stroke="#3a3a3a" stroke-width="1"/>
<path d="M245.5 334.5v-4.0M245.5 200.5v4.0M279.25 334.5v-4.0M279.25 200.5v4.0M313 334.5v-4.0M313 200.5v4.0M346.75 334.5v-4.0M346.75 200.5v4.0M380.5 334.5v-4.0M380.5 200.5v4.0" stroke="#3a3a3a" stroke-width="1" fill="none"/>
<text x="245.5" y="348.1" text-anchor="middle" font-size="12.1">0</text>
<text x="279.25" y="348.1" text-anchor="middle" font-size="12.1">0.5</text>
<text x="313" y="348.1" text-anchor="middle" font-size="12.1">1.0</text>
<text x="346.75" y="348.1" text-anchor="middle" font-size="12.1">1.5</text>
<text x="380.5" y="348.1" text-anchor="middle" font-size="12.1">2.0</text>
<path d="M245.5 334.5h4.0M380.5 334.5h-4.0M245.5 311.2h4.0M380.5 311.2h-4.0M245.5 287.89h4.0M380.5 287.89h-4.0M245.5 264.59h4.0M380.5 264.59h-4.0M245.5 241.28h4.0M380.5 241.28h-4.0M245.5 217.98h4.0M380.5 217.98h-4.0" stroke="#3a3a3a" stroke-width="1" fill="none"/>
<text x="242.7" y="338.6" text-anchor="end" font-size="12.1">0</text>
<text x="242.7" y="315.3" text-anchor="end" font-size="12.1">0.2</text>
<text x="242.7" y="291.99" text-anchor="end" font-size="12.1">0.4</text>
<text x="242.7" y="268.69" text-anchor="end" font-size="12.1">0.6</text>
<text x="242.7" y="245.38" text-anchor="end" font-size="12.1">0.8</text>
<text x="242.7" y="222.08" text-anchor="end" font-size="12.1">1.0</text>
<text x="258" y="219.3" font-size="10.8" fill="#3333ff" text-anchor="start"><tspan>RbV</tspan><tspan font-size="7.78" dy="3.02">3</tspan><tspan dy="-3.02">Sb</tspan><tspan font-size="7.78" dy="3.02">5</tspan></text>
<text transform="translate(218.6 82.5) rotate(-90)" text-anchor="middle" font-size="12"><tspan font-style="italic">ρ</tspan> (<tspan font-style="italic">T</tspan>)/<tspan font-style="italic">ρ</tspan><tspan font-size="8.2" dy="2.6">0</tspan></text>
<text x="313" y="177.9" text-anchor="middle" font-size="12"><tspan font-style="italic">T</tspan> (K)</text>
<text transform="translate(218.6 267.5) rotate(-90)" text-anchor="middle" font-size="12"><tspan font-style="italic">ρ</tspan> (<tspan font-style="italic">T</tspan>)/<tspan font-style="italic">ρ</tspan><tspan font-size="8.2" dy="2.6">0</tspan></text>
<text x="313" y="362.9" text-anchor="middle" font-size="12"><tspan font-style="italic">T</tspan> (K)</text>
<path d="M455.05 149.5a1.45 1.45 0 1 0 2.9 0a1.45 1.45 0 1 0 -2.9 0M455.94 149.5a1.45 1.45 0 1 0 2.9 0a1.45 1.45 0 1 0 -2.9 0M456.84 149.5a1.45 1.45 0 1 0 2.9 0a1.45 1.45 0 1 0 -2.9 0M457.73 149.5a1.45 1.45 0 1 0 2.9 0a1.45 1.45 0 1 0 -2.9 0M458.62 149.5a1.45 1.45 0 1 0 2.9 0a1.45 1.45 0 1 0 -2.9 0M459.52 149.5a1.45 1.45 0 1 0 2.9 0a1.45 1.45 0 1 0 -2.9 0M460.41 149.5a1.45 1.45 0 1 0 2.9 0a1.45 1.45 0 1 0 -2.9 0M461.3 149.5a1.45 1.45 0 1 0 2.9 0a1.45 1.45 0 1 0 -2.9 0M462.2 149.5a1.45 1.45 0 1 0 2.9 0a1.45 1.45 0 1 0 -2.9 0M463.09 149.5a1.45 1.45 0 1 0 2.9 0a1.45 1.45 0 1 0 -2.9 0M463.98 149.5a1.45 1.45 0 1 0 2.9 0a1.45 1.45 0 1 0 -2.9 0M464.88 149.5a1.45 1.45 0 1 0 2.9 0a1.45 1.45 0 1 0 -2.9 0M465.77 149.5a1.45 1.45 0 1 0 2.9 0a1.45 1.45 0 1 0 -2.9 0M466.66 149.5a1.45 1.45 0 1 0 2.9 0a1.45 1.45 0 1 0 -2.9 0M467.56 149.49a1.45 1.45 0 1 0 2.9 0a1.45 1.45 0 1 0 -2.9 0M468.45 149.49a1.45 1.45 0 1 0 2.9 0a1.45 1.45 0 1 0 -2.9 0M469.34 149.49a1.45 1.45 0 1 0 2.9 0a1.45 1.45 0 1 0 -2.9 0M470.24 149.49a1.45 1.45 0 1 0 2.9 0a1.45 1.45 0 1 0 -2.9 0M471.13 149.49a1.45 1.45 0 1 0 2.9 0a1.45 1.45 0 1 0 -2.9 0M472.02 149.49a1.45 1.45 0 1 0 2.9 0a1.45 1.45 0 1 0 -2.9 0M472.92 149.49a1.45 1.45 0 1 0 2.9 0a1.45 1.45 0 1 0 -2.9 0M473.81 149.49a1.45 1.45 0 1 0 2.9 0a1.45 1.45 0 1 0 -2.9 0M474.7 149.49a1.45 1.45 0 1 0 2.9 0a1.45 1.45 0 1 0 -2.9 0M475.6 149.48a1.45 1.45 0 1 0 2.9 0a1.45 1.45 0 1 0 -2.9 0M476.49 149.48a1.45 1.45 0 1 0 2.9 0a1.45 1.45 0 1 0 -2.9 0M477.38 149.48a1.45 1.45 0 1 0 2.9 0a1.45 1.45 0 1 0 -2.9 0M478.28 149.48a1.45 1.45 0 1 0 2.9 0a1.45 1.45 0 1 0 -2.9 0M479.17 149.48a1.45 1.45 0 1 0 2.9 0a1.45 1.45 0 1 0 -2.9 0M480.06 149.48a1.45 1.45 0 1 0 2.9 0a1.45 1.45 0 1 0 -2.9 0M480.96 149.47a1.45 1.45 0 1 0 2.9 0a1.45 1.45 0 1 0 -2.9 0M481.85 149.47a1.45 1.45 0 1 0 2.9 0a1.45 1.45 0 1 0 -2.9 0M482.74 149.47a1.45 1.45 0 1 0 2.9 0a1.45 1.45 0 1 0 -2.9 0M483.64 149.47a1.45 1.45 0 1 0 2.9 0a1.45 1.45 0 1 0 -2.9 0M484.53 149.46a1.45 1.45 0 1 0 2.9 0a1.45 1.45 0 1 0 -2.9 0M485.42 149.46a1.45 1.45 0 1 0 2.9 0a1.45 1.45 0 1 0 -2.9 0M486.32 149.46a1.45 1.45 0 1 0 2.9 0a1.45 1.45 0 1 0 -2.9 0M487.21 149.46a1.45 1.45 0 1 0 2.9 0a1.45 1.45 0 1 0 -2.9 0M488.1 149.45a1.45 1.45 0 1 0 2.9 0a1.45 1.45 0 1 0 -2.9 0M489 149.45a1.45 1.45 0 1 0 2.9 0a1.45 1.45 0 1 0 -2.9 0M489.89 149.45a1.45 1.45 0 1 0 2.9 0a1.45 1.45 0 1 0 -2.9 0M490.78 149.45a1.45 1.45 0 1 0 2.9 0a1.45 1.45 0 1 0 -2.9 0M491.68 149.44a1.45 1.45 0 1 0 2.9 0a1.45 1.45 0 1 0 -2.9 0M492.57 149.44a1.45 1.45 0 1 0 2.9 0a1.45 1.45 0 1 0 -2.9 0M493.46 149.44a1.45 1.45 0 1 0 2.9 0a1.45 1.45 0 1 0 -2.9 0M494.36 149.43a1.45 1.45 0 1 0 2.9 0a1.45 1.45 0 1 0 -2.9 0M495.25 149.43a1.45 1.45 0 1 0 2.9 0a1.45 1.45 0 1 0 -2.9 0M496.14 149.43a1.45 1.45 0 1 0 2.9 0a1.45 1.45 0 1 0 -2.9 0M497.04 149.42a1.45 1.45 0 1 0 2.9 0a1.45 1.45 0 1 0 -2.9 0M497.93 149.42a1.45 1.45 0 1 0 2.9 0a1.45 1.45 0 1 0 -2.9 0M498.82 149.41a1.45 1.45 0 1 0 2.9 0a1.45 1.45 0 1 0 -2.9 0M499.72 149.41a1.45 1.45 0 1 0 2.9 0a1.45 1.45 0 1 0 -2.9 0M500.61 149.41a1.45 1.45 0 1 0 2.9 0a1.45 1.45 0 1 0 -2.9 0M501.5 149.4a1.45 1.45 0 1 0 2.9 0a1.45 1.45 0 1 0 -2.9 0M502.4 149.4a1.45 1.45 0 1 0 2.9 0a1.45 1.45 0 1 0 -2.9 0M503.29 149.39a1.45 1.45 0 1 0 2.9 0a1.45 1.45 0 1 0 -2.9 0M504.18 149.39a1.45 1.45 0 1 0 2.9 0a1.45 1.45 0 1 0 -2.9 0M505.08 149.38a1.45 1.45 0 1 0 2.9 0a1.45 1.45 0 1 0 -2.9 0M505.97 149.38a1.45 1.45 0 1 0 2.9 0a1.45 1.45 0 1 0 -2.9 0M506.86 149.37a1.45 1.45 0 1 0 2.9 0a1.45 1.45 0 1 0 -2.9 0M507.76 149.37a1.45 1.45 0 1 0 2.9 0a1.45 1.45 0 1 0 -2.9 0M508.65 149.36a1.45 1.45 0 1 0 2.9 0a1.45 1.45 0 1 0 -2.9 0M509.54 149.36a1.45 1.45 0 1 0 2.9 0a1.45 1.45 0 1 0 -2.9 0M510.44 149.35a1.45 1.45 0 1 0 2.9 0a1.45 1.45 0 1 0 -2.9 0M511.33 149.35a1.45 1.45 0 1 0 2.9 0a1.45 1.45 0 1 0 -2.9 0M512.22 149.34a1.45 1.45 0 1 0 2.9 0a1.45 1.45 0 1 0 -2.9 0M513.12 149.33a1.45 1.45 0 1 0 2.9 0a1.45 1.45 0 1 0 -2.9 0M514.01 149.33a1.45 1.45 0 1 0 2.9 0a1.45 1.45 0 1 0 -2.9 0M514.9 149.32a1.45 1.45 0 1 0 2.9 0a1.45 1.45 0 1 0 -2.9 0M515.8 149.31a1.45 1.45 0 1 0 2.9 0a1.45 1.45 0 1 0 -2.9 0M516.69 149.31a1.45 1.45 0 1 0 2.9 0a1.45 1.45 0 1 0 -2.9 0M517.58 149.3a1.45 1.45 0 1 0 2.9 0a1.45 1.45 0 1 0 -2.9 0M518.48 149.3a1.45 1.45 0 1 0 2.9 0a1.45 1.45 0 1 0 -2.9 0M519.37 149.29a1.45 1.45 0 1 0 2.9 0a1.45 1.45 0 1 0 -2.9 0M520.26 149.28a1.45 1.45 0 1 0 2.9 0a1.45 1.45 0 1 0 -2.9 0M521.16 149.27a1.45 1.45 0 1 0 2.9 0a1.45 1.45 0 1 0 -2.9 0M522.05 149.27a1.45 1.45 0 1 0 2.9 0a1.45 1.45 0 1 0 -2.9 0M522.94 149.26a1.45 1.45 0 1 0 2.9 0a1.45 1.45 0 1 0 -2.9 0M523.84 149.24a1.45 1.45 0 1 0 2.9 0a1.45 1.45 0 1 0 -2.9 0M524.73 149.21a1.45 1.45 0 1 0 2.9 0a1.45 1.45 0 1 0 -2.9 0M525.62 149.17a1.45 1.45 0 1 0 2.9 0a1.45 1.45 0 1 0 -2.9 0M526.52 149.13a1.45 1.45 0 1 0 2.9 0a1.45 1.45 0 1 0 -2.9 0M527.41 149.08a1.45 1.45 0 1 0 2.9 0a1.45 1.45 0 1 0 -2.9 0M528.3 149.03a1.45 1.45 0 1 0 2.9 0a1.45 1.45 0 1 0 -2.9 0M529.2 148.96a1.45 1.45 0 1 0 2.9 0a1.45 1.45 0 1 0 -2.9 0M530.09 148.89a1.45 1.45 0 1 0 2.9 0a1.45 1.45 0 1 0 -2.9 0M530.98 148.82a1.45 1.45 0 1 0 2.9 0a1.45 1.45 0 1 0 -2.9 0M531.88 148.73a1.45 1.45 0 1 0 2.9 0a1.45 1.45 0 1 0 -2.9 0M532.77 148.64a1.45 1.45 0 1 0 2.9 0a1.45 1.45 0 1 0 -2.9 0M533.66 148.55a1.45 1.45 0 1 0 2.9 0a1.45 1.45 0 1 0 -2.9 0M534.56 148.44a1.45 1.45 0 1 0 2.9 0a1.45 1.45 0 1 0 -2.9 0M535.45 148.33a1.45 1.45 0 1 0 2.9 0a1.45 1.45 0 1 0 -2.9 0M536.34 148.19a1.45 1.45 0 1 0 2.9 0a1.45 1.45 0 1 0 -2.9 0M537.24 148a1.45 1.45 0 1 0 2.9 0a1.45 1.45 0 1 0 -2.9 0M538.13 147.75a1.45 1.45 0 1 0 2.9 0a1.45 1.45 0 1 0 -2.9 0M538.8 147.53a1.45 1.45 0 1 0 2.9 0a1.45 1.45 0 1 0 -2.9 0M539.47 147.28a1.45 1.45 0 1 0 2.9 0a1.45 1.45 0 1 0 -2.9 0M540.14 146.99a1.45 1.45 0 1 0 2.9 0a1.45 1.45 0 1 0 -2.9 0M540.81 146.68a1.45 1.45 0 1 0 2.9 0a1.45 1.45 0 1 0 -2.9 0M541.48 146.34a1.45 1.45 0 1 0 2.9 0a1.45 1.45 0 1 0 -2.9 0M542.15 145.97a1.45 1.45 0 1 0 2.9 0a1.45 1.45 0 1 0 -2.9 0M542.82 145.57a1.45 1.45 0 1 0 2.9 0a1.45 1.45 0 1 0 -2.9 0M543.49 145.13a1.45 1.45 0 1 0 2.9 0a1.45 1.45 0 1 0 -2.9 0M544.16 144.67a1.45 1.45 0 1 0 2.9 0a1.45 1.45 0 1 0 -2.9 0M544.83 144.1a1.45 1.45 0 1 0 2.9 0a1.45 1.45 0 1 0 -2.9 0M545.5 143.39a1.45 1.45 0 1 0 2.9 0a1.45 1.45 0 1 0 -2.9 0M545.95 142.84a1.45 1.45 0 1 0 2.9 0a1.45 1.45 0 1 0 -2.9 0M546.39 142.22a1.45 1.45 0 1 0 2.9 0a1.45 1.45 0 1 0 -2.9 0M546.84 141.53a1.45 1.45 0 1 0 2.9 0a1.45 1.45 0 1 0 -2.9 0M547.29 140.77a1.45 1.45 0 1 0 2.9 0a1.45 1.45 0 1 0 -2.9 0M547.73 139.93a1.45 1.45 0 1 0 2.9 0a1.45 1.45 0 1 0 -2.9 0M548.18 139.01a1.45 1.45 0 1 0 2.9 0a1.45 1.45 0 1 0 -2.9 0M548.63 138a1.45 1.45 0 1 0 2.9 0a1.45 1.45 0 1 0 -2.9 0M549.07 136.91a1.45 1.45 0 1 0 2.9 0a1.45 1.45 0 1 0 -2.9 0M549.52 135.72a1.45 1.45 0 1 0 2.9 0a1.45 1.45 0 1 0 -2.9 0M549.97 134.45a1.45 1.45 0 1 0 2.9 0a1.45 1.45 0 1 0 -2.9 0M550.19 133.77a1.45 1.45 0 1 0 2.9 0a1.45 1.45 0 1 0 -2.9 0M550.41 133.07a1.45 1.45 0 1 0 2.9 0a1.45 1.45 0 1 0 -2.9 0M550.64 132.35a1.45 1.45 0 1 0 2.9 0a1.45 1.45 0 1 0 -2.9 0M550.86 131.6a1.45 1.45 0 1 0 2.9 0a1.45 1.45 0 1 0 -2.9 0M551.08 130.82a1.45 1.45 0 1 0 2.9 0a1.45 1.45 0 1 0 -2.9 0M551.31 129.9a1.45 1.45 0 1 0 2.9 0a1.45 1.45 0 1 0 -2.9 0M551.53 128.71a1.45 1.45 0 1 0 2.9 0a1.45 1.45 0 1 0 -2.9 0M551.75 127.29a1.45 1.45 0 1 0 2.9 0a1.45 1.45 0 1 0 -2.9 0M551.98 125.64a1.45 1.45 0 1 0 2.9 0a1.45 1.45 0 1 0 -2.9 0M552.2 123.79a1.45 1.45 0 1 0 2.9 0a1.45 1.45 0 1 0 -2.9 0M552.42 121.75a1.45 1.45 0 1 0 2.9 0a1.45 1.45 0 1 0 -2.9 0M552.65 119.56a1.45 1.45 0 1 0 2.9 0a1.45 1.45 0 1 0 -2.9 0M552.87 117.22a1.45 1.45 0 1 0 2.9 0a1.45 1.45 0 1 0 -2.9 0M553.09 114.77a1.45 1.45 0 1 0 2.9 0a1.45 1.45 0 1 0 -2.9 0M553.32 112.21a1.45 1.45 0 1 0 2.9 0a1.45 1.45 0 1 0 -2.9 0M553.54 109.56a1.45 1.45 0 1 0 2.9 0a1.45 1.45 0 1 0 -2.9 0M553.76 106.86a1.45 1.45 0 1 0 2.9 0a1.45 1.45 0 1 0 -2.9 0M553.99 104.11a1.45 1.45 0 1 0 2.9 0a1.45 1.45 0 1 0 -2.9 0M554.21 101.34a1.45 1.45 0 1 0 2.9 0a1.45 1.45 0 1 0 -2.9 0M554.43 98.56a1.45 1.45 0 1 0 2.9 0a1.45 1.45 0 1 0 -2.9 0M554.66 95.81a1.45 1.45 0 1 0 2.9 0a1.45 1.45 0 1 0 -2.9 0M554.88 92.78a1.45 1.45 0 1 0 2.9 0a1.45 1.45 0 1 0 -2.9 0M555.1 89.26a1.45 1.45 0 1 0 2.9 0a1.45 1.45 0 1 0 -2.9 0M555.33 85.41a1.45 1.45 0 1 0 2.9 0a1.45 1.45 0 1 0 -2.9 0M555.55 81.36a1.45 1.45 0 1 0 2.9 0a1.45 1.45 0 1 0 -2.9 0M555.77 77.25a1.45 1.45 0 1 0 2.9 0a1.45 1.45 0 1 0 -2.9 0M556 73.22a1.45 1.45 0 1 0 2.9 0a1.45 1.45 0 1 0 -2.9 0M556.22 69.42a1.45 1.45 0 1 0 2.9 0a1.45 1.45 0 1 0 -2.9 0M556.44 65.99a1.45 1.45 0 1 0 2.9 0a1.45 1.45 0 1 0 -2.9 0M556.67 63.06a1.45 1.45 0 1 0 2.9 0a1.45 1.45 0 1 0 -2.9 0M556.89 60.79a1.45 1.45 0 1 0 2.9 0a1.45 1.45 0 1 0 -2.9 0M557.11 58.92a1.45 1.45 0 1 0 2.9 0a1.45 1.45 0 1 0 -2.9 0M557.34 57.13a1.45 1.45 0 1 0 2.9 0a1.45 1.45 0 1 0 -2.9 0M557.56 55.41a1.45 1.45 0 1 0 2.9 0a1.45 1.45 0 1 0 -2.9 0M557.78 53.76a1.45 1.45 0 1 0 2.9 0a1.45 1.45 0 1 0 -2.9 0M558.01 52.19a1.45 1.45 0 1 0 2.9 0a1.45 1.45 0 1 0 -2.9 0M558.23 50.71a1.45 1.45 0 1 0 2.9 0a1.45 1.45 0 1 0 -2.9 0M558.45 49.31a1.45 1.45 0 1 0 2.9 0a1.45 1.45 0 1 0 -2.9 0M558.68 48a1.45 1.45 0 1 0 2.9 0a1.45 1.45 0 1 0 -2.9 0M558.9 46.77a1.45 1.45 0 1 0 2.9 0a1.45 1.45 0 1 0 -2.9 0M559.12 45.64a1.45 1.45 0 1 0 2.9 0a1.45 1.45 0 1 0 -2.9 0M559.35 44.61a1.45 1.45 0 1 0 2.9 0a1.45 1.45 0 1 0 -2.9 0M559.57 43.67a1.45 1.45 0 1 0 2.9 0a1.45 1.45 0 1 0 -2.9 0M559.79 42.83a1.45 1.45 0 1 0 2.9 0a1.45 1.45 0 1 0 -2.9 0M560.02 42.1a1.45 1.45 0 1 0 2.9 0a1.45 1.45 0 1 0 -2.9 0M560.46 40.95a1.45 1.45 0 1 0 2.9 0a1.45 1.45 0 1 0 -2.9 0M560.91 40.04a1.45 1.45 0 1 0 2.9 0a1.45 1.45 0 1 0 -2.9 0M561.36 39.2a1.45 1.45 0 1 0 2.9 0a1.45 1.45 0 1 0 -2.9 0M561.8 38.43a1.45 1.45 0 1 0 2.9 0a1.45 1.45 0 1 0 -2.9 0M562.25 37.71a1.45 1.45 0 1 0 2.9 0a1.45 1.45 0 1 0 -2.9 0M562.7 37.05a1.45 1.45 0 1 0 2.9 0a1.45 1.45 0 1 0 -2.9 0M563.14 36.45a1.45 1.45 0 1 0 2.9 0a1.45 1.45 0 1 0 -2.9 0M563.81 35.67a1.45 1.45 0 1 0 2.9 0a1.45 1.45 0 1 0 -2.9 0M564.48 35.02a1.45 1.45 0 1 0 2.9 0a1.45 1.45 0 1 0 -2.9 0M565.15 34.51a1.45 1.45 0 1 0 2.9 0a1.45 1.45 0 1 0 -2.9 0M565.82 34.13a1.45 1.45 0 1 0 2.9 0a1.45 1.45 0 1 0 -2.9 0M566.49 33.87a1.45 1.45 0 1 0 2.9 0a1.45 1.45 0 1 0 -2.9 0M567.16 33.65a1.45 1.45 0 1 0 2.9 0a1.45 1.45 0 1 0 -2.9 0M568.06 33.38a1.45 1.45 0 1 0 2.9 0a1.45 1.45 0 1 0 -2.9 0M568.95 33.16a1.45 1.45 0 1 0 2.9 0a1.45 1.45 0 1 0 -2.9 0M569.84 32.98a1.45 1.45 0 1 0 2.9 0a1.45 1.45 0 1 0 -2.9 0M570.74 32.85a1.45 1.45 0 1 0 2.9 0a1.45 1.45 0 1 0 -2.9 0M571.63 32.78a1.45 1.45 0 1 0 2.9 0a1.45 1.45 0 1 0 -2.9 0M572.52 32.78a1.45 1.45 0 1 0 2.9 0a1.45 1.45 0 1 0 -2.9 0M573.42 32.78a1.45 1.45 0 1 0 2.9 0a1.45 1.45 0 1 0 -2.9 0M574.31 32.78a1.45 1.45 0 1 0 2.9 0a1.45 1.45 0 1 0 -2.9 0M575.2 32.78a1.45 1.45 0 1 0 2.9 0a1.45 1.45 0 1 0 -2.9 0M576.1 32.78a1.45 1.45 0 1 0 2.9 0a1.45 1.45 0 1 0 -2.9 0M576.99 32.78a1.45 1.45 0 1 0 2.9 0a1.45 1.45 0 1 0 -2.9 0M577.88 32.78a1.45 1.45 0 1 0 2.9 0a1.45 1.45 0 1 0 -2.9 0M578.78 32.78a1.45 1.45 0 1 0 2.9 0a1.45 1.45 0 1 0 -2.9 0M579.67 32.78a1.45 1.45 0 1 0 2.9 0a1.45 1.45 0 1 0 -2.9 0M580.56 32.78a1.45 1.45 0 1 0 2.9 0a1.45 1.45 0 1 0 -2.9 0M581.46 32.78a1.45 1.45 0 1 0 2.9 0a1.45 1.45 0 1 0 -2.9 0M582.35 32.78a1.45 1.45 0 1 0 2.9 0a1.45 1.45 0 1 0 -2.9 0M583.24 32.78a1.45 1.45 0 1 0 2.9 0a1.45 1.45 0 1 0 -2.9 0M584.14 32.78a1.45 1.45 0 1 0 2.9 0a1.45 1.45 0 1 0 -2.9 0M585.03 32.78a1.45 1.45 0 1 0 2.9 0a1.45 1.45 0 1 0 -2.9 0M585.92 32.78a1.45 1.45 0 1 0 2.9 0a1.45 1.45 0 1 0 -2.9 0M586.82 32.78a1.45 1.45 0 1 0 2.9 0a1.45 1.45 0 1 0 -2.9 0M587.71 32.78a1.45 1.45 0 1 0 2.9 0a1.45 1.45 0 1 0 -2.9 0M588.6 32.78a1.45 1.45 0 1 0 2.9 0a1.45 1.45 0 1 0 -2.9 0" fill="#33bbff"/>
<path d="M455.05 149.5a1.45 1.45 0 1 0 2.9 0a1.45 1.45 0 1 0 -2.9 0M455.94 149.5a1.45 1.45 0 1 0 2.9 0a1.45 1.45 0 1 0 -2.9 0M456.84 149.5a1.45 1.45 0 1 0 2.9 0a1.45 1.45 0 1 0 -2.9 0M457.73 149.5a1.45 1.45 0 1 0 2.9 0a1.45 1.45 0 1 0 -2.9 0M458.62 149.5a1.45 1.45 0 1 0 2.9 0a1.45 1.45 0 1 0 -2.9 0M459.52 149.5a1.45 1.45 0 1 0 2.9 0a1.45 1.45 0 1 0 -2.9 0M460.41 149.5a1.45 1.45 0 1 0 2.9 0a1.45 1.45 0 1 0 -2.9 0M461.3 149.5a1.45 1.45 0 1 0 2.9 0a1.45 1.45 0 1 0 -2.9 0M462.2 149.5a1.45 1.45 0 1 0 2.9 0a1.45 1.45 0 1 0 -2.9 0M463.09 149.49a1.45 1.45 0 1 0 2.9 0a1.45 1.45 0 1 0 -2.9 0M463.98 149.49a1.45 1.45 0 1 0 2.9 0a1.45 1.45 0 1 0 -2.9 0M464.88 149.49a1.45 1.45 0 1 0 2.9 0a1.45 1.45 0 1 0 -2.9 0M465.77 149.49a1.45 1.45 0 1 0 2.9 0a1.45 1.45 0 1 0 -2.9 0M466.66 149.49a1.45 1.45 0 1 0 2.9 0a1.45 1.45 0 1 0 -2.9 0M467.56 149.49a1.45 1.45 0 1 0 2.9 0a1.45 1.45 0 1 0 -2.9 0M468.45 149.48a1.45 1.45 0 1 0 2.9 0a1.45 1.45 0 1 0 -2.9 0M469.34 149.48a1.45 1.45 0 1 0 2.9 0a1.45 1.45 0 1 0 -2.9 0M470.24 149.48a1.45 1.45 0 1 0 2.9 0a1.45 1.45 0 1 0 -2.9 0M471.13 149.48a1.45 1.45 0 1 0 2.9 0a1.45 1.45 0 1 0 -2.9 0M472.02 149.47a1.45 1.45 0 1 0 2.9 0a1.45 1.45 0 1 0 -2.9 0M472.92 149.47a1.45 1.45 0 1 0 2.9 0a1.45 1.45 0 1 0 -2.9 0M473.81 149.47a1.45 1.45 0 1 0 2.9 0a1.45 1.45 0 1 0 -2.9 0M474.7 149.46a1.45 1.45 0 1 0 2.9 0a1.45 1.45 0 1 0 -2.9 0M475.6 149.46a1.45 1.45 0 1 0 2.9 0a1.45 1.45 0 1 0 -2.9 0M476.49 149.46a1.45 1.45 0 1 0 2.9 0a1.45 1.45 0 1 0 -2.9 0M477.38 149.45a1.45 1.45 0 1 0 2.9 0a1.45 1.45 0 1 0 -2.9 0M478.28 149.45a1.45 1.45 0 1 0 2.9 0a1.45 1.45 0 1 0 -2.9 0M479.17 149.44a1.45 1.45 0 1 0 2.9 0a1.45 1.45 0 1 0 -2.9 0M480.06 149.44a1.45 1.45 0 1 0 2.9 0a1.45 1.45 0 1 0 -2.9 0M480.96 149.43a1.45 1.45 0 1 0 2.9 0a1.45 1.45 0 1 0 -2.9 0M481.85 149.43a1.45 1.45 0 1 0 2.9 0a1.45 1.45 0 1 0 -2.9 0M482.74 149.42a1.45 1.45 0 1 0 2.9 0a1.45 1.45 0 1 0 -2.9 0M483.64 149.42a1.45 1.45 0 1 0 2.9 0a1.45 1.45 0 1 0 -2.9 0M484.53 149.41a1.45 1.45 0 1 0 2.9 0a1.45 1.45 0 1 0 -2.9 0M485.42 149.41a1.45 1.45 0 1 0 2.9 0a1.45 1.45 0 1 0 -2.9 0M486.32 149.4a1.45 1.45 0 1 0 2.9 0a1.45 1.45 0 1 0 -2.9 0M487.21 149.39a1.45 1.45 0 1 0 2.9 0a1.45 1.45 0 1 0 -2.9 0M488.1 149.39a1.45 1.45 0 1 0 2.9 0a1.45 1.45 0 1 0 -2.9 0M489 149.38a1.45 1.45 0 1 0 2.9 0a1.45 1.45 0 1 0 -2.9 0M489.89 149.37a1.45 1.45 0 1 0 2.9 0a1.45 1.45 0 1 0 -2.9 0M490.78 149.36a1.45 1.45 0 1 0 2.9 0a1.45 1.45 0 1 0 -2.9 0M491.68 149.35a1.45 1.45 0 1 0 2.9 0a1.45 1.45 0 1 0 -2.9 0M492.57 149.35a1.45 1.45 0 1 0 2.9 0a1.45 1.45 0 1 0 -2.9 0M493.46 149.34a1.45 1.45 0 1 0 2.9 0a1.45 1.45 0 1 0 -2.9 0M494.36 149.33a1.45 1.45 0 1 0 2.9 0a1.45 1.45 0 1 0 -2.9 0M495.25 149.32a1.45 1.45 0 1 0 2.9 0a1.45 1.45 0 1 0 -2.9 0M496.14 149.31a1.45 1.45 0 1 0 2.9 0a1.45 1.45 0 1 0 -2.9 0M497.04 149.3a1.45 1.45 0 1 0 2.9 0a1.45 1.45 0 1 0 -2.9 0M497.93 149.29a1.45 1.45 0 1 0 2.9 0a1.45 1.45 0 1 0 -2.9 0M498.82 149.28a1.45 1.45 0 1 0 2.9 0a1.45 1.45 0 1 0 -2.9 0M499.72 149.27a1.45 1.45 0 1 0 2.9 0a1.45 1.45 0 1 0 -2.9 0M500.61 149.24a1.45 1.45 0 1 0 2.9 0a1.45 1.45 0 1 0 -2.9 0M501.5 149.18a1.45 1.45 0 1 0 2.9 0a1.45 1.45 0 1 0 -2.9 0M502.4 149.1a1.45 1.45 0 1 0 2.9 0a1.45 1.45 0 1 0 -2.9 0M503.29 148.99a1.45 1.45 0 1 0 2.9 0a1.45 1.45 0 1 0 -2.9 0M504.18 148.85a1.45 1.45 0 1 0 2.9 0a1.45 1.45 0 1 0 -2.9 0M505.08 148.69a1.45 1.45 0 1 0 2.9 0a1.45 1.45 0 1 0 -2.9 0M505.97 148.51a1.45 1.45 0 1 0 2.9 0a1.45 1.45 0 1 0 -2.9 0M506.86 148.3a1.45 1.45 0 1 0 2.9 0a1.45 1.45 0 1 0 -2.9 0M507.76 148.08a1.45 1.45 0 1 0 2.9 0a1.45 1.45 0 1 0 -2.9 0M508.65 147.84a1.45 1.45 0 1 0 2.9 0a1.45 1.45 0 1 0 -2.9 0M509.54 147.58a1.45 1.45 0 1 0 2.9 0a1.45 1.45 0 1 0 -2.9 0M510.21 147.38a1.45 1.45 0 1 0 2.9 0a1.45 1.45 0 1 0 -2.9 0M510.88 147.17a1.45 1.45 0 1 0 2.9 0a1.45 1.45 0 1 0 -2.9 0M511.55 146.92a1.45 1.45 0 1 0 2.9 0a1.45 1.45 0 1 0 -2.9 0M512.22 146.61a1.45 1.45 0 1 0 2.9 0a1.45 1.45 0 1 0 -2.9 0M512.89 146.24a1.45 1.45 0 1 0 2.9 0a1.45 1.45 0 1 0 -2.9 0M513.56 145.8a1.45 1.45 0 1 0 2.9 0a1.45 1.45 0 1 0 -2.9 0M514.23 145.29a1.45 1.45 0 1 0 2.9 0a1.45 1.45 0 1 0 -2.9 0M514.9 144.72a1.45 1.45 0 1 0 2.9 0a1.45 1.45 0 1 0 -2.9 0M515.57 144.08a1.45 1.45 0 1 0 2.9 0a1.45 1.45 0 1 0 -2.9 0M516.24 143.36a1.45 1.45 0 1 0 2.9 0a1.45 1.45 0 1 0 -2.9 0M516.91 142.56a1.45 1.45 0 1 0 2.9 0a1.45 1.45 0 1 0 -2.9 0M517.36 141.88a1.45 1.45 0 1 0 2.9 0a1.45 1.45 0 1 0 -2.9 0M517.81 141.04a1.45 1.45 0 1 0 2.9 0a1.45 1.45 0 1 0 -2.9 0M518.25 140.07a1.45 1.45 0 1 0 2.9 0a1.45 1.45 0 1 0 -2.9 0M518.7 138.96a1.45 1.45 0 1 0 2.9 0a1.45 1.45 0 1 0 -2.9 0M519.15 137.73a1.45 1.45 0 1 0 2.9 0a1.45 1.45 0 1 0 -2.9 0M519.59 136.38a1.45 1.45 0 1 0 2.9 0a1.45 1.45 0 1 0 -2.9 0M519.82 135.66a1.45 1.45 0 1 0 2.9 0a1.45 1.45 0 1 0 -2.9 0M520.04 134.92a1.45 1.45 0 1 0 2.9 0a1.45 1.45 0 1 0 -2.9 0M520.26 134.15a1.45 1.45 0 1 0 2.9 0a1.45 1.45 0 1 0 -2.9 0M520.49 133.36a1.45 1.45 0 1 0 2.9 0a1.45 1.45 0 1 0 -2.9 0M520.71 132.54a1.45 1.45 0 1 0 2.9 0a1.45 1.45 0 1 0 -2.9 0M520.93 131.7a1.45 1.45 0 1 0 2.9 0a1.45 1.45 0 1 0 -2.9 0M521.16 130.84a1.45 1.45 0 1 0 2.9 0a1.45 1.45 0 1 0 -2.9 0M521.38 129.96a1.45 1.45 0 1 0 2.9 0a1.45 1.45 0 1 0 -2.9 0M521.6 129.06a1.45 1.45 0 1 0 2.9 0a1.45 1.45 0 1 0 -2.9 0M521.83 128.14a1.45 1.45 0 1 0 2.9 0a1.45 1.45 0 1 0 -2.9 0M522.05 127.2a1.45 1.45 0 1 0 2.9 0a1.45 1.45 0 1 0 -2.9 0M522.27 126.24a1.45 1.45 0 1 0 2.9 0a1.45 1.45 0 1 0 -2.9 0M522.5 125.27a1.45 1.45 0 1 0 2.9 0a1.45 1.45 0 1 0 -2.9 0M522.72 124.28a1.45 1.45 0 1 0 2.9 0a1.45 1.45 0 1 0 -2.9 0M522.94 123.28a1.45 1.45 0 1 0 2.9 0a1.45 1.45 0 1 0 -2.9 0M523.17 122.27a1.45 1.45 0 1 0 2.9 0a1.45 1.45 0 1 0 -2.9 0M523.39 121.24a1.45 1.45 0 1 0 2.9 0a1.45 1.45 0 1 0 -2.9 0M523.61 120.2a1.45 1.45 0 1 0 2.9 0a1.45 1.45 0 1 0 -2.9 0M523.84 119.15a1.45 1.45 0 1 0 2.9 0a1.45 1.45 0 1 0 -2.9 0M524.06 118.04a1.45 1.45 0 1 0 2.9 0a1.45 1.45 0 1 0 -2.9 0M524.28 116.82a1.45 1.45 0 1 0 2.9 0a1.45 1.45 0 1 0 -2.9 0M524.51 115.51a1.45 1.45 0 1 0 2.9 0a1.45 1.45 0 1 0 -2.9 0M524.73 114.1a1.45 1.45 0 1 0 2.9 0a1.45 1.45 0 1 0 -2.9 0M524.95 112.61a1.45 1.45 0 1 0 2.9 0a1.45 1.45 0 1 0 -2.9 0M525.18 111.04a1.45 1.45 0 1 0 2.9 0a1.45 1.45 0 1 0 -2.9 0M525.4 109.41a1.45 1.45 0 1 0 2.9 0a1.45 1.45 0 1 0 -2.9 0M525.62 107.72a1.45 1.45 0 1 0 2.9 0a1.45 1.45 0 1 0 -2.9 0M525.85 105.98a1.45 1.45 0 1 0 2.9 0a1.45 1.45 0 1 0 -2.9 0M526.07 104.2a1.45 1.45 0 1 0 2.9 0a1.45 1.45 0 1 0 -2.9 0M526.29 102.38a1.45 1.45 0 1 0 2.9 0a1.45 1.45 0 1 0 -2.9 0M526.52 100.54a1.45 1.45 0 1 0 2.9 0a1.45 1.45 0 1 0 -2.9 0M526.74 98.67a1.45 1.45 0 1 0 2.9 0a1.45 1.45 0 1 0 -2.9 0M526.96 96.8a1.45 1.45 0 1 0 2.9 0a1.45 1.45 0 1 0 -2.9 0M527.19 94.93a1.45 1.45 0 1 0 2.9 0a1.45 1.45 0 1 0 -2.9 0M527.41 93.07a1.45 1.45 0 1 0 2.9 0a1.45 1.45 0 1 0 -2.9 0M527.63 91.22a1.45 1.45 0 1 0 2.9 0a1.45 1.45 0 1 0 -2.9 0M527.86 89.39a1.45 1.45 0 1 0 2.9 0a1.45 1.45 0 1 0 -2.9 0M528.08 87.6a1.45 1.45 0 1 0 2.9 0a1.45 1.45 0 1 0 -2.9 0M528.3 85.84a1.45 1.45 0 1 0 2.9 0a1.45 1.45 0 1 0 -2.9 0M528.53 84.13a1.45 1.45 0 1 0 2.9 0a1.45 1.45 0 1 0 -2.9 0M528.75 82.41a1.45 1.45 0 1 0 2.9 0a1.45 1.45 0 1 0 -2.9 0M528.97 80.61a1.45 1.45 0 1 0 2.9 0a1.45 1.45 0 1 0 -2.9 0M529.2 78.75a1.45 1.45 0 1 0 2.9 0a1.45 1.45 0 1 0 -2.9 0M529.42 76.84a1.45 1.45 0 1 0 2.9 0a1.45 1.45 0 1 0 -2.9 0M529.64 74.9a1.45 1.45 0 1 0 2.9 0a1.45 1.45 0 1 0 -2.9 0M529.87 72.92a1.45 1.45 0 1 0 2.9 0a1.45 1.45 0 1 0 -2.9 0M530.09 70.94a1.45 1.45 0 1 0 2.9 0a1.45 1.45 0 1 0 -2.9 0M530.31 68.95a1.45 1.45 0 1 0 2.9 0a1.45 1.45 0 1 0 -2.9 0M530.54 66.97a1.45 1.45 0 1 0 2.9 0a1.45 1.45 0 1 0 -2.9 0M530.76 65.02a1.45 1.45 0 1 0 2.9 0a1.45 1.45 0 1 0 -2.9 0M530.98 63.1a1.45 1.45 0 1 0 2.9 0a1.45 1.45 0 1 0 -2.9 0M531.21 61.22a1.45 1.45 0 1 0 2.9 0a1.45 1.45 0 1 0 -2.9 0M531.43 59.41a1.45 1.45 0 1 0 2.9 0a1.45 1.45 0 1 0 -2.9 0M531.65 57.67a1.45 1.45 0 1 0 2.9 0a1.45 1.45 0 1 0 -2.9 0M531.88 56.02a1.45 1.45 0 1 0 2.9 0a1.45 1.45 0 1 0 -2.9 0M532.1 54.46a1.45 1.45 0 1 0 2.9 0a1.45 1.45 0 1 0 -2.9 0M532.32 53.01a1.45 1.45 0 1 0 2.9 0a1.45 1.45 0 1 0 -2.9 0M532.55 51.68a1.45 1.45 0 1 0 2.9 0a1.45 1.45 0 1 0 -2.9 0M532.77 50.48a1.45 1.45 0 1 0 2.9 0a1.45 1.45 0 1 0 -2.9 0M532.99 49.43a1.45 1.45 0 1 0 2.9 0a1.45 1.45 0 1 0 -2.9 0M533.22 48.53a1.45 1.45 0 1 0 2.9 0a1.45 1.45 0 1 0 -2.9 0M533.44 47.73a1.45 1.45 0 1 0 2.9 0a1.45 1.45 0 1 0 -2.9 0M533.66 46.96a1.45 1.45 0 1 0 2.9 0a1.45 1.45 0 1 0 -2.9 0M533.89 46.21a1.45 1.45 0 1 0 2.9 0a1.45 1.45 0 1 0 -2.9 0M534.11 45.48a1.45 1.45 0 1 0 2.9 0a1.45 1.45 0 1 0 -2.9 0M534.33 44.78a1.45 1.45 0 1 0 2.9 0a1.45 1.45 0 1 0 -2.9 0M534.56 44.1a1.45 1.45 0 1 0 2.9 0a1.45 1.45 0 1 0 -2.9 0M535 42.82a1.45 1.45 0 1 0 2.9 0a1.45 1.45 0 1 0 -2.9 0M535.45 41.65a1.45 1.45 0 1 0 2.9 0a1.45 1.45 0 1 0 -2.9 0M535.9 40.57a1.45 1.45 0 1 0 2.9 0a1.45 1.45 0 1 0 -2.9 0M536.34 39.61a1.45 1.45 0 1 0 2.9 0a1.45 1.45 0 1 0 -2.9 0M536.79 38.76a1.45 1.45 0 1 0 2.9 0a1.45 1.45 0 1 0 -2.9 0M537.24 38.01a1.45 1.45 0 1 0 2.9 0a1.45 1.45 0 1 0 -2.9 0M537.68 37.38a1.45 1.45 0 1 0 2.9 0a1.45 1.45 0 1 0 -2.9 0M538.35 36.63a1.45 1.45 0 1 0 2.9 0a1.45 1.45 0 1 0 -2.9 0M539.02 35.98a1.45 1.45 0 1 0 2.9 0a1.45 1.45 0 1 0 -2.9 0M539.69 35.37a1.45 1.45 0 1 0 2.9 0a1.45 1.45 0 1 0 -2.9 0M540.36 34.82a1.45 1.45 0 1 0 2.9 0a1.45 1.45 0 1 0 -2.9 0M541.03 34.34a1.45 1.45 0 1 0 2.9 0a1.45 1.45 0 1 0 -2.9 0M541.7 33.92a1.45 1.45 0 1 0 2.9 0a1.45 1.45 0 1 0 -2.9 0M542.37 33.58a1.45 1.45 0 1 0 2.9 0a1.45 1.45 0 1 0 -2.9 0M543.04 33.32a1.45 1.45 0 1 0 2.9 0a1.45 1.45 0 1 0 -2.9 0M543.94 33.13a1.45 1.45 0 1 0 2.9 0a1.45 1.45 0 1 0 -2.9 0M544.83 33.02a1.45 1.45 0 1 0 2.9 0a1.45 1.45 0 1 0 -2.9 0M545.72 32.93a1.45 1.45 0 1 0 2.9 0a1.45 1.45 0 1 0 -2.9 0M546.62 32.86a1.45 1.45 0 1 0 2.9 0a1.45 1.45 0 1 0 -2.9 0M547.51 32.81a1.45 1.45 0 1 0 2.9 0a1.45 1.45 0 1 0 -2.9 0M548.4 32.78a1.45 1.45 0 1 0 2.9 0a1.45 1.45 0 1 0 -2.9 0M549.3 32.78a1.45 1.45 0 1 0 2.9 0a1.45 1.45 0 1 0 -2.9 0M550.19 32.78a1.45 1.45 0 1 0 2.9 0a1.45 1.45 0 1 0 -2.9 0M551.08 32.78a1.45 1.45 0 1 0 2.9 0a1.45 1.45 0 1 0 -2.9 0M551.98 32.78a1.45 1.45 0 1 0 2.9 0a1.45 1.45 0 1 0 -2.9 0M552.87 32.78a1.45 1.45 0 1 0 2.9 0a1.45 1.45 0 1 0 -2.9 0M553.76 32.78a1.45 1.45 0 1 0 2.9 0a1.45 1.45 0 1 0 -2.9 0M554.66 32.78a1.45 1.45 0 1 0 2.9 0a1.45 1.45 0 1 0 -2.9 0M555.55 32.78a1.45 1.45 0 1 0 2.9 0a1.45 1.45 0 1 0 -2.9 0M556.44 32.78a1.45 1.45 0 1 0 2.9 0a1.45 1.45 0 1 0 -2.9 0M557.34 32.78a1.45 1.45 0 1 0 2.9 0a1.45 1.45 0 1 0 -2.9 0M558.23 32.78a1.45 1.45 0 1 0 2.9 0a1.45 1.45 0 1 0 -2.9 0M559.12 32.78a1.45 1.45 0 1 0 2.9 0a1.45 1.45 0 1 0 -2.9 0M560.02 32.78a1.45 1.45 0 1 0 2.9 0a1.45 1.45 0 1 0 -2.9 0M560.91 32.78a1.45 1.45 0 1 0 2.9 0a1.45 1.45 0 1 0 -2.9 0M561.8 32.78a1.45 1.45 0 1 0 2.9 0a1.45 1.45 0 1 0 -2.9 0M562.7 32.78a1.45 1.45 0 1 0 2.9 0a1.45 1.45 0 1 0 -2.9 0M563.59 32.78a1.45 1.45 0 1 0 2.9 0a1.45 1.45 0 1 0 -2.9 0M564.48 32.78a1.45 1.45 0 1 0 2.9 0a1.45 1.45 0 1 0 -2.9 0M565.38 32.78a1.45 1.45 0 1 0 2.9 0a1.45 1.45 0 1 0 -2.9 0M566.27 32.78a1.45 1.45 0 1 0 2.9 0a1.45 1.45 0 1 0 -2.9 0M567.16 32.78a1.45 1.45 0 1 0 2.9 0a1.45 1.45 0 1 0 -2.9 0M568.06 32.78a1.45 1.45 0 1 0 2.9 0a1.45 1.45 0 1 0 -2.9 0M568.95 32.78a1.45 1.45 0 1 0 2.9 0a1.45 1.45 0 1 0 -2.9 0M569.84 32.78a1.45 1.45 0 1 0 2.9 0a1.45 1.45 0 1 0 -2.9 0M570.74 32.78a1.45 1.45 0 1 0 2.9 0a1.45 1.45 0 1 0 -2.9 0M571.63 32.78a1.45 1.45 0 1 0 2.9 0a1.45 1.45 0 1 0 -2.9 0M572.52 32.78a1.45 1.45 0 1 0 2.9 0a1.45 1.45 0 1 0 -2.9 0M573.42 32.78a1.45 1.45 0 1 0 2.9 0a1.45 1.45 0 1 0 -2.9 0M574.31 32.78a1.45 1.45 0 1 0 2.9 0a1.45 1.45 0 1 0 -2.9 0M575.2 32.78a1.45 1.45 0 1 0 2.9 0a1.45 1.45 0 1 0 -2.9 0M576.1 32.78a1.45 1.45 0 1 0 2.9 0a1.45 1.45 0 1 0 -2.9 0M576.99 32.78a1.45 1.45 0 1 0 2.9 0a1.45 1.45 0 1 0 -2.9 0M577.88 32.78a1.45 1.45 0 1 0 2.9 0a1.45 1.45 0 1 0 -2.9 0M578.78 32.78a1.45 1.45 0 1 0 2.9 0a1.45 1.45 0 1 0 -2.9 0M579.67 32.78a1.45 1.45 0 1 0 2.9 0a1.45 1.45 0 1 0 -2.9 0M580.56 32.78a1.45 1.45 0 1 0 2.9 0a1.45 1.45 0 1 0 -2.9 0M581.46 32.78a1.45 1.45 0 1 0 2.9 0a1.45 1.45 0 1 0 -2.9 0M582.35 32.78a1.45 1.45 0 1 0 2.9 0a1.45 1.45 0 1 0 -2.9 0M583.24 32.78a1.45 1.45 0 1 0 2.9 0a1.45 1.45 0 1 0 -2.9 0M584.14 32.78a1.45 1.45 0 1 0 2.9 0a1.45 1.45 0 1 0 -2.9 0M585.03 32.78a1.45 1.45 0 1 0 2.9 0a1.45 1.45 0 1 0 -2.9 0M585.92 32.78a1.45 1.45 0 1 0 2.9 0a1.45 1.45 0 1 0 -2.9 0M586.82 32.78a1.45 1.45 0 1 0 2.9 0a1.45 1.45 0 1 0 -2.9 0M587.71 32.78a1.45 1.45 0 1 0 2.9 0a1.45 1.45 0 1 0 -2.9 0M588.6 32.78a1.45 1.45 0 1 0 2.9 0a1.45 1.45 0 1 0 -2.9 0" fill="#ffaa00"/>
<path d="M455.05 149.5a1.45 1.45 0 1 0 2.9 0a1.45 1.45 0 1 0 -2.9 0M455.94 149.5a1.45 1.45 0 1 0 2.9 0a1.45 1.45 0 1 0 -2.9 0M456.84 149.5a1.45 1.45 0 1 0 2.9 0a1.45 1.45 0 1 0 -2.9 0M457.73 149.5a1.45 1.45 0 1 0 2.9 0a1.45 1.45 0 1 0 -2.9 0M458.62 149.5a1.45 1.45 0 1 0 2.9 0a1.45 1.45 0 1 0 -2.9 0M459.52 149.49a1.45 1.45 0 1 0 2.9 0a1.45 1.45 0 1 0 -2.9 0M460.41 149.49a1.45 1.45 0 1 0 2.9 0a1.45 1.45 0 1 0 -2.9 0M461.3 149.49a1.45 1.45 0 1 0 2.9 0a1.45 1.45 0 1 0 -2.9 0M462.2 149.48a1.45 1.45 0 1 0 2.9 0a1.45 1.45 0 1 0 -2.9 0M463.09 149.48a1.45 1.45 0 1 0 2.9 0a1.45 1.45 0 1 0 -2.9 0M463.98 149.47a1.45 1.45 0 1 0 2.9 0a1.45 1.45 0 1 0 -2.9 0M464.88 149.47a1.45 1.45 0 1 0 2.9 0a1.45 1.45 0 1 0 -2.9 0M465.77 149.46a1.45 1.45 0 1 0 2.9 0a1.45 1.45 0 1 0 -2.9 0M466.66 149.45a1.45 1.45 0 1 0 2.9 0a1.45 1.45 0 1 0 -2.9 0M467.56 149.44a1.45 1.45 0 1 0 2.9 0a1.45 1.45 0 1 0 -2.9 0M468.45 149.44a1.45 1.45 0 1 0 2.9 0a1.45 1.45 0 1 0 -2.9 0M469.34 149.43a1.45 1.45 0 1 0 2.9 0a1.45 1.45 0 1 0 -2.9 0M470.24 149.42a1.45 1.45 0 1 0 2.9 0a1.45 1.45 0 1 0 -2.9 0M471.13 149.41a1.45 1.45 0 1 0 2.9 0a1.45 1.45 0 1 0 -2.9 0M472.02 149.4a1.45 1.45 0 1 0 2.9 0a1.45 1.45 0 1 0 -2.9 0M472.92 149.39a1.45 1.45 0 1 0 2.9 0a1.45 1.45 0 1 0 -2.9 0M473.81 149.38a1.45 1.45 0 1 0 2.9 0a1.45 1.45 0 1 0 -2.9 0M474.7 149.37a1.45 1.45 0 1 0 2.9 0a1.45 1.45 0 1 0 -2.9 0M475.6 149.36a1.45 1.45 0 1 0 2.9 0a1.45 1.45 0 1 0 -2.9 0M476.49 149.35a1.45 1.45 0 1 0 2.9 0a1.45 1.45 0 1 0 -2.9 0M477.38 149.33a1.45 1.45 0 1 0 2.9 0a1.45 1.45 0 1 0 -2.9 0M478.28 149.32a1.45 1.45 0 1 0 2.9 0a1.45 1.45 0 1 0 -2.9 0M479.17 149.31a1.45 1.45 0 1 0 2.9 0a1.45 1.45 0 1 0 -2.9 0M480.06 149.29a1.45 1.45 0 1 0 2.9 0a1.45 1.45 0 1 0 -2.9 0M480.96 149.28a1.45 1.45 0 1 0 2.9 0a1.45 1.45 0 1 0 -2.9 0M481.85 149.27a1.45 1.45 0 1 0 2.9 0a1.45 1.45 0 1 0 -2.9 0M482.74 149.25a1.45 1.45 0 1 0 2.9 0a1.45 1.45 0 1 0 -2.9 0M483.64 149.23a1.45 1.45 0 1 0 2.9 0a1.45 1.45 0 1 0 -2.9 0M484.53 149.21a1.45 1.45 0 1 0 2.9 0a1.45 1.45 0 1 0 -2.9 0M485.42 149.19a1.45 1.45 0 1 0 2.9 0a1.45 1.45 0 1 0 -2.9 0M486.32 149.16a1.45 1.45 0 1 0 2.9 0a1.45 1.45 0 1 0 -2.9 0M487.21 149.13a1.45 1.45 0 1 0 2.9 0a1.45 1.45 0 1 0 -2.9 0M488.1 149.09a1.45 1.45 0 1 0 2.9 0a1.45 1.45 0 1 0 -2.9 0M489 149.05a1.45 1.45 0 1 0 2.9 0a1.45 1.45 0 1 0 -2.9 0M489.89 149.01a1.45 1.45 0 1 0 2.9 0a1.45 1.45 0 1 0 -2.9 0M490.78 148.96a1.45 1.45 0 1 0 2.9 0a1.45 1.45 0 1 0 -2.9 0M491.68 148.91a1.45 1.45 0 1 0 2.9 0a1.45 1.45 0 1 0 -2.9 0M492.57 148.85a1.45 1.45 0 1 0 2.9 0a1.45 1.45 0 1 0 -2.9 0M493.46 148.79a1.45 1.45 0 1 0 2.9 0a1.45 1.45 0 1 0 -2.9 0M494.36 148.72a1.45 1.45 0 1 0 2.9 0a1.45 1.45 0 1 0 -2.9 0M495.25 148.65a1.45 1.45 0 1 0 2.9 0a1.45 1.45 0 1 0 -2.9 0M496.14 148.57a1.45 1.45 0 1 0 2.9 0a1.45 1.45 0 1 0 -2.9 0M497.04 148.48a1.45 1.45 0 1 0 2.9 0a1.45 1.45 0 1 0 -2.9 0M497.93 148.39a1.45 1.45 0 1 0 2.9 0a1.45 1.45 0 1 0 -2.9 0M498.82 148.29a1.45 1.45 0 1 0 2.9 0a1.45 1.45 0 1 0 -2.9 0M499.72 148.19a1.45 1.45 0 1 0 2.9 0a1.45 1.45 0 1 0 -2.9 0M500.61 148.08a1.45 1.45 0 1 0 2.9 0a1.45 1.45 0 1 0 -2.9 0M501.5 147.96a1.45 1.45 0 1 0 2.9 0a1.45 1.45 0 1 0 -2.9 0M502.4 147.83a1.45 1.45 0 1 0 2.9 0a1.45 1.45 0 1 0 -2.9 0M503.29 147.7a1.45 1.45 0 1 0 2.9 0a1.45 1.45 0 1 0 -2.9 0M504.18 147.55a1.45 1.45 0 1 0 2.9 0a1.45 1.45 0 1 0 -2.9 0M505.08 147.31a1.45 1.45 0 1 0 2.9 0a1.45 1.45 0 1 0 -2.9 0M505.75 147.05a1.45 1.45 0 1 0 2.9 0a1.45 1.45 0 1 0 -2.9 0M506.42 146.72a1.45 1.45 0 1 0 2.9 0a1.45 1.45 0 1 0 -2.9 0M507.09 146.31a1.45 1.45 0 1 0 2.9 0a1.45 1.45 0 1 0 -2.9 0M507.76 145.82a1.45 1.45 0 1 0 2.9 0a1.45 1.45 0 1 0 -2.9 0M508.43 145.24a1.45 1.45 0 1 0 2.9 0a1.45 1.45 0 1 0 -2.9 0M509.1 144.57a1.45 1.45 0 1 0 2.9 0a1.45 1.45 0 1 0 -2.9 0M509.77 143.79a1.45 1.45 0 1 0 2.9 0a1.45 1.45 0 1 0 -2.9 0M510.21 143.21a1.45 1.45 0 1 0 2.9 0a1.45 1.45 0 1 0 -2.9 0M510.66 142.59a1.45 1.45 0 1 0 2.9 0a1.45 1.45 0 1 0 -2.9 0M511.11 141.91a1.45 1.45 0 1 0 2.9 0a1.45 1.45 0 1 0 -2.9 0M511.55 141.18a1.45 1.45 0 1 0 2.9 0a1.45 1.45 0 1 0 -2.9 0M512 140.39a1.45 1.45 0 1 0 2.9 0a1.45 1.45 0 1 0 -2.9 0M512.45 139.55a1.45 1.45 0 1 0 2.9 0a1.45 1.45 0 1 0 -2.9 0M512.89 138.65a1.45 1.45 0 1 0 2.9 0a1.45 1.45 0 1 0 -2.9 0M513.34 137.48a1.45 1.45 0 1 0 2.9 0a1.45 1.45 0 1 0 -2.9 0M513.56 136.39a1.45 1.45 0 1 0 2.9 0a1.45 1.45 0 1 0 -2.9 0M513.79 134.96a1.45 1.45 0 1 0 2.9 0a1.45 1.45 0 1 0 -2.9 0M514.01 133.22a1.45 1.45 0 1 0 2.9 0a1.45 1.45 0 1 0 -2.9 0M514.23 131.23a1.45 1.45 0 1 0 2.9 0a1.45 1.45 0 1 0 -2.9 0M514.46 129.03a1.45 1.45 0 1 0 2.9 0a1.45 1.45 0 1 0 -2.9 0M514.68 126.68a1.45 1.45 0 1 0 2.9 0a1.45 1.45 0 1 0 -2.9 0M514.9 124.21a1.45 1.45 0 1 0 2.9 0a1.45 1.45 0 1 0 -2.9 0M515.13 121.69a1.45 1.45 0 1 0 2.9 0a1.45 1.45 0 1 0 -2.9 0M515.35 119.15a1.45 1.45 0 1 0 2.9 0a1.45 1.45 0 1 0 -2.9 0M515.57 116.38a1.45 1.45 0 1 0 2.9 0a1.45 1.45 0 1 0 -2.9 0M515.8 113.16a1.45 1.45 0 1 0 2.9 0a1.45 1.45 0 1 0 -2.9 0M516.02 109.58a1.45 1.45 0 1 0 2.9 0a1.45 1.45 0 1 0 -2.9 0M516.24 105.7a1.45 1.45 0 1 0 2.9 0a1.45 1.45 0 1 0 -2.9 0M516.47 101.59a1.45 1.45 0 1 0 2.9 0a1.45 1.45 0 1 0 -2.9 0M516.69 97.33a1.45 1.45 0 1 0 2.9 0a1.45 1.45 0 1 0 -2.9 0M516.91 92.98a1.45 1.45 0 1 0 2.9 0a1.45 1.45 0 1 0 -2.9 0M517.14 88.62a1.45 1.45 0 1 0 2.9 0a1.45 1.45 0 1 0 -2.9 0M517.36 84.31a1.45 1.45 0 1 0 2.9 0a1.45 1.45 0 1 0 -2.9 0M517.58 80.14a1.45 1.45 0 1 0 2.9 0a1.45 1.45 0 1 0 -2.9 0M517.81 76.16a1.45 1.45 0 1 0 2.9 0a1.45 1.45 0 1 0 -2.9 0M518.03 72.46a1.45 1.45 0 1 0 2.9 0a1.45 1.45 0 1 0 -2.9 0M518.25 68.78a1.45 1.45 0 1 0 2.9 0a1.45 1.45 0 1 0 -2.9 0M518.48 64.97a1.45 1.45 0 1 0 2.9 0a1.45 1.45 0 1 0 -2.9 0M518.7 61.23a1.45 1.45 0 1 0 2.9 0a1.45 1.45 0 1 0 -2.9 0M518.92 57.79a1.45 1.45 0 1 0 2.9 0a1.45 1.45 0 1 0 -2.9 0M519.15 54.84a1.45 1.45 0 1 0 2.9 0a1.45 1.45 0 1 0 -2.9 0M519.37 52.62a1.45 1.45 0 1 0 2.9 0a1.45 1.45 0 1 0 -2.9 0M519.59 50.9a1.45 1.45 0 1 0 2.9 0a1.45 1.45 0 1 0 -2.9 0M519.82 49.32a1.45 1.45 0 1 0 2.9 0a1.45 1.45 0 1 0 -2.9 0M520.04 47.87a1.45 1.45 0 1 0 2.9 0a1.45 1.45 0 1 0 -2.9 0M520.26 46.56a1.45 1.45 0 1 0 2.9 0a1.45 1.45 0 1 0 -2.9 0M520.49 45.36a1.45 1.45 0 1 0 2.9 0a1.45 1.45 0 1 0 -2.9 0M520.71 44.28a1.45 1.45 0 1 0 2.9 0a1.45 1.45 0 1 0 -2.9 0M520.93 43.3a1.45 1.45 0 1 0 2.9 0a1.45 1.45 0 1 0 -2.9 0M521.16 42.43a1.45 1.45 0 1 0 2.9 0a1.45 1.45 0 1 0 -2.9 0M521.38 41.65a1.45 1.45 0 1 0 2.9 0a1.45 1.45 0 1 0 -2.9 0M521.6 40.95a1.45 1.45 0 1 0 2.9 0a1.45 1.45 0 1 0 -2.9 0M522.05 39.65a1.45 1.45 0 1 0 2.9 0a1.45 1.45 0 1 0 -2.9 0M522.5 38.43a1.45 1.45 0 1 0 2.9 0a1.45 1.45 0 1 0 -2.9 0M522.94 37.31a1.45 1.45 0 1 0 2.9 0a1.45 1.45 0 1 0 -2.9 0M523.39 36.3a1.45 1.45 0 1 0 2.9 0a1.45 1.45 0 1 0 -2.9 0M523.84 35.43a1.45 1.45 0 1 0 2.9 0a1.45 1.45 0 1 0 -2.9 0M524.28 34.74a1.45 1.45 0 1 0 2.9 0a1.45 1.45 0 1 0 -2.9 0M524.95 34.06a1.45 1.45 0 1 0 2.9 0a1.45 1.45 0 1 0 -2.9 0M525.62 33.77a1.45 1.45 0 1 0 2.9 0a1.45 1.45 0 1 0 -2.9 0M526.29 33.55a1.45 1.45 0 1 0 2.9 0a1.45 1.45 0 1 0 -2.9 0M527.19 33.28a1.45 1.45 0 1 0 2.9 0a1.45 1.45 0 1 0 -2.9 0M528.08 33.08a1.45 1.45 0 1 0 2.9 0a1.45 1.45 0 1 0 -2.9 0M528.97 32.92a1.45 1.45 0 1 0 2.9 0a1.45 1.45 0 1 0 -2.9 0M529.87 32.82a1.45 1.45 0 1 0 2.9 0a1.45 1.45 0 1 0 -2.9 0M530.76 32.78a1.45 1.45 0 1 0 2.9 0a1.45 1.45 0 1 0 -2.9 0M531.65 32.78a1.45 1.45 0 1 0 2.9 0a1.45 1.45 0 1 0 -2.9 0M532.55 32.78a1.45 1.45 0 1 0 2.9 0a1.45 1.45 0 1 0 -2.9 0M533.44 32.78a1.45 1.45 0 1 0 2.9 0a1.45 1.45 0 1 0 -2.9 0M534.33 32.78a1.45 1.45 0 1 0 2.9 0a1.45 1.45 0 1 0 -2.9 0M535.23 32.78a1.45 1.45 0 1 0 2.9 0a1.45 1.45 0 1 0 -2.9 0M536.12 32.78a1.45 1.45 0 1 0 2.9 0a1.45 1.45 0 1 0 -2.9 0M537.01 32.78a1.45 1.45 0 1 0 2.9 0a1.45 1.45 0 1 0 -2.9 0M537.91 32.78a1.45 1.45 0 1 0 2.9 0a1.45 1.45 0 1 0 -2.9 0M538.8 32.78a1.45 1.45 0 1 0 2.9 0a1.45 1.45 0 1 0 -2.9 0M539.69 32.78a1.45 1.45 0 1 0 2.9 0a1.45 1.45 0 1 0 -2.9 0M540.59 32.78a1.45 1.45 0 1 0 2.9 0a1.45 1.45 0 1 0 -2.9 0M541.48 32.78a1.45 1.45 0 1 0 2.9 0a1.45 1.45 0 1 0 -2.9 0M542.37 32.78a1.45 1.45 0 1 0 2.9 0a1.45 1.45 0 1 0 -2.9 0M543.27 32.78a1.45 1.45 0 1 0 2.9 0a1.45 1.45 0 1 0 -2.9 0M544.16 32.78a1.45 1.45 0 1 0 2.9 0a1.45 1.45 0 1 0 -2.9 0M545.05 32.78a1.45 1.45 0 1 0 2.9 0a1.45 1.45 0 1 0 -2.9 0M545.95 32.78a1.45 1.45 0 1 0 2.9 0a1.45 1.45 0 1 0 -2.9 0M546.84 32.78a1.45 1.45 0 1 0 2.9 0a1.45 1.45 0 1 0 -2.9 0M547.73 32.78a1.45 1.45 0 1 0 2.9 0a1.45 1.45 0 1 0 -2.9 0M548.63 32.78a1.45 1.45 0 1 0 2.9 0a1.45 1.45 0 1 0 -2.9 0M549.52 32.78a1.45 1.45 0 1 0 2.9 0a1.45 1.45 0 1 0 -2.9 0M550.41 32.78a1.45 1.45 0 1 0 2.9 0a1.45 1.45 0 1 0 -2.9 0M551.31 32.78a1.45 1.45 0 1 0 2.9 0a1.45 1.45 0 1 0 -2.9 0M552.2 32.78a1.45 1.45 0 1 0 2.9 0a1.45 1.45 0 1 0 -2.9 0M553.09 32.78a1.45 1.45 0 1 0 2.9 0a1.45 1.45 0 1 0 -2.9 0M553.99 32.78a1.45 1.45 0 1 0 2.9 0a1.45 1.45 0 1 0 -2.9 0M554.88 32.78a1.45 1.45 0 1 0 2.9 0a1.45 1.45 0 1 0 -2.9 0M555.77 32.78a1.45 1.45 0 1 0 2.9 0a1.45 1.45 0 1 0 -2.9 0M556.67 32.78a1.45 1.45 0 1 0 2.9 0a1.45 1.45 0 1 0 -2.9 0M557.56 32.78a1.45 1.45 0 1 0 2.9 0a1.45 1.45 0 1 0 -2.9 0M558.45 32.78a1.45 1.45 0 1 0 2.9 0a1.45 1.45 0 1 0 -2.9 0M559.35 32.78a1.45 1.45 0 1 0 2.9 0a1.45 1.45 0 1 0 -2.9 0M560.24 32.78a1.45 1.45 0 1 0 2.9 0a1.45 1.45 0 1 0 -2.9 0M561.13 32.78a1.45 1.45 0 1 0 2.9 0a1.45 1.45 0 1 0 -2.9 0M562.03 32.78a1.45 1.45 0 1 0 2.9 0a1.45 1.45 0 1 0 -2.9 0M562.92 32.78a1.45 1.45 0 1 0 2.9 0a1.45 1.45 0 1 0 -2.9 0M563.81 32.78a1.45 1.45 0 1 0 2.9 0a1.45 1.45 0 1 0 -2.9 0M564.71 32.78a1.45 1.45 0 1 0 2.9 0a1.45 1.45 0 1 0 -2.9 0M565.6 32.78a1.45 1.45 0 1 0 2.9 0a1.45 1.45 0 1 0 -2.9 0M566.49 32.78a1.45 1.45 0 1 0 2.9 0a1.45 1.45 0 1 0 -2.9 0M567.39 32.78a1.45 1.45 0 1 0 2.9 0a1.45 1.45 0 1 0 -2.9 0M568.28 32.78a1.45 1.45 0 1 0 2.9 0a1.45 1.45 0 1 0 -2.9 0M569.17 32.78a1.45 1.45 0 1 0 2.9 0a1.45 1.45 0 1 0 -2.9 0M570.07 32.78a1.45 1.45 0 1 0 2.9 0a1.45 1.45 0 1 0 -2.9 0M570.96 32.78a1.45 1.45 0 1 0 2.9 0a1.45 1.45 0 1 0 -2.9 0M571.85 32.78a1.45 1.45 0 1 0 2.9 0a1.45 1.45 0 1 0 -2.9 0M572.75 32.78a1.45 1.45 0 1 0 2.9 0a1.45 1.45 0 1 0 -2.9 0M573.64 32.78a1.45 1.45 0 1 0 2.9 0a1.45 1.45 0 1 0 -2.9 0M574.53 32.78a1.45 1.45 0 1 0 2.9 0a1.45 1.45 0 1 0 -2.9 0M575.43 32.78a1.45 1.45 0 1 0 2.9 0a1.45 1.45 0 1 0 -2.9 0M576.32 32.78a1.45 1.45 0 1 0 2.9 0a1.45 1.45 0 1 0 -2.9 0M577.21 32.78a1.45 1.45 0 1 0 2.9 0a1.45 1.45 0 1 0 -2.9 0M578.11 32.78a1.45 1.45 0 1 0 2.9 0a1.45 1.45 0 1 0 -2.9 0M579 32.78a1.45 1.45 0 1 0 2.9 0a1.45 1.45 0 1 0 -2.9 0M579.89 32.78a1.45 1.45 0 1 0 2.9 0a1.45 1.45 0 1 0 -2.9 0M580.79 32.78a1.45 1.45 0 1 0 2.9 0a1.45 1.45 0 1 0 -2.9 0M581.68 32.78a1.45 1.45 0 1 0 2.9 0a1.45 1.45 0 1 0 -2.9 0M582.57 32.78a1.45 1.45 0 1 0 2.9 0a1.45 1.45 0 1 0 -2.9 0M583.47 32.78a1.45 1.45 0 1 0 2.9 0a1.45 1.45 0 1 0 -2.9 0M584.36 32.78a1.45 1.45 0 1 0 2.9 0a1.45 1.45 0 1 0 -2.9 0M585.25 32.78a1.45 1.45 0 1 0 2.9 0a1.45 1.45 0 1 0 -2.9 0M586.15 32.78a1.45 1.45 0 1 0 2.9 0a1.45 1.45 0 1 0 -2.9 0M587.04 32.78a1.45 1.45 0 1 0 2.9 0a1.45 1.45 0 1 0 -2.9 0M587.93 32.78a1.45 1.45 0 1 0 2.9 0a1.45 1.45 0 1 0 -2.9 0M588.83 32.78a1.45 1.45 0 1 0 2.9 0a1.45 1.45 0 1 0 -2.9 0" fill="#008c00"/>
<path d="M454.75 149.5a1.75 1.75 0 1 0 3.5 0a1.75 1.75 0 1 0 -3.5 0M455.64 149.5a1.75 1.75 0 1 0 3.5 0a1.75 1.75 0 1 0 -3.5 0M456.54 149.5a1.75 1.75 0 1 0 3.5 0a1.75 1.75 0 1 0 -3.5 0M457.43 149.5a1.75 1.75 0 1 0 3.5 0a1.75 1.75 0 1 0 -3.5 0M458.32 149.49a1.75 1.75 0 1 0 3.5 0a1.75 1.75 0 1 0 -3.5 0M459.22 149.49a1.75 1.75 0 1 0 3.5 0a1.75 1.75 0 1 0 -3.5 0M460.11 149.49a1.75 1.75 0 1 0 3.5 0a1.75 1.75 0 1 0 -3.5 0M461 149.48a1.75 1.75 0 1 0 3.5 0a1.75 1.75 0 1 0 -3.5 0M461.9 149.47a1.75 1.75 0 1 0 3.5 0a1.75 1.75 0 1 0 -3.5 0M462.79 149.46a1.75 1.75 0 1 0 3.5 0a1.75 1.75 0 1 0 -3.5 0M463.68 149.46a1.75 1.75 0 1 0 3.5 0a1.75 1.75 0 1 0 -3.5 0M464.58 149.45a1.75 1.75 0 1 0 3.5 0a1.75 1.75 0 1 0 -3.5 0M465.47 149.43a1.75 1.75 0 1 0 3.5 0a1.75 1.75 0 1 0 -3.5 0M466.36 149.42a1.75 1.75 0 1 0 3.5 0a1.75 1.75 0 1 0 -3.5 0M467.26 149.41a1.75 1.75 0 1 0 3.5 0a1.75 1.75 0 1 0 -3.5 0M468.15 149.39a1.75 1.75 0 1 0 3.5 0a1.75 1.75 0 1 0 -3.5 0M469.04 149.37a1.75 1.75 0 1 0 3.5 0a1.75 1.75 0 1 0 -3.5 0M469.94 149.36a1.75 1.75 0 1 0 3.5 0a1.75 1.75 0 1 0 -3.5 0M470.83 149.34a1.75 1.75 0 1 0 3.5 0a1.75 1.75 0 1 0 -3.5 0M471.72 149.31a1.75 1.75 0 1 0 3.5 0a1.75 1.75 0 1 0 -3.5 0M472.62 149.29a1.75 1.75 0 1 0 3.5 0a1.75 1.75 0 1 0 -3.5 0M473.51 149.27a1.75 1.75 0 1 0 3.5 0a1.75 1.75 0 1 0 -3.5 0M474.4 149.24a1.75 1.75 0 1 0 3.5 0a1.75 1.75 0 1 0 -3.5 0M475.3 149.21a1.75 1.75 0 1 0 3.5 0a1.75 1.75 0 1 0 -3.5 0M476.19 149.18a1.75 1.75 0 1 0 3.5 0a1.75 1.75 0 1 0 -3.5 0M477.08 149.15a1.75 1.75 0 1 0 3.5 0a1.75 1.75 0 1 0 -3.5 0M477.98 149.02a1.75 1.75 0 1 0 3.5 0a1.75 1.75 0 1 0 -3.5 0M478.65 148.81a1.75 1.75 0 1 0 3.5 0a1.75 1.75 0 1 0 -3.5 0M479.32 148.5a1.75 1.75 0 1 0 3.5 0a1.75 1.75 0 1 0 -3.5 0M479.99 148.12a1.75 1.75 0 1 0 3.5 0a1.75 1.75 0 1 0 -3.5 0M480.66 147.66a1.75 1.75 0 1 0 3.5 0a1.75 1.75 0 1 0 -3.5 0M481.33 147.14a1.75 1.75 0 1 0 3.5 0a1.75 1.75 0 1 0 -3.5 0M482 146.56a1.75 1.75 0 1 0 3.5 0a1.75 1.75 0 1 0 -3.5 0M482.67 145.94a1.75 1.75 0 1 0 3.5 0a1.75 1.75 0 1 0 -3.5 0M483.34 145.28a1.75 1.75 0 1 0 3.5 0a1.75 1.75 0 1 0 -3.5 0M484.01 144.58a1.75 1.75 0 1 0 3.5 0a1.75 1.75 0 1 0 -3.5 0M484.45 143.98a1.75 1.75 0 1 0 3.5 0a1.75 1.75 0 1 0 -3.5 0M484.9 143.25a1.75 1.75 0 1 0 3.5 0a1.75 1.75 0 1 0 -3.5 0M485.35 142.39a1.75 1.75 0 1 0 3.5 0a1.75 1.75 0 1 0 -3.5 0M485.79 141.44a1.75 1.75 0 1 0 3.5 0a1.75 1.75 0 1 0 -3.5 0M486.24 140.39a1.75 1.75 0 1 0 3.5 0a1.75 1.75 0 1 0 -3.5 0M486.69 139.27a1.75 1.75 0 1 0 3.5 0a1.75 1.75 0 1 0 -3.5 0M487.13 138.09a1.75 1.75 0 1 0 3.5 0a1.75 1.75 0 1 0 -3.5 0M487.58 136.85a1.75 1.75 0 1 0 3.5 0a1.75 1.75 0 1 0 -3.5 0M488.03 135.58a1.75 1.75 0 1 0 3.5 0a1.75 1.75 0 1 0 -3.5 0M488.47 134.29a1.75 1.75 0 1 0 3.5 0a1.75 1.75 0 1 0 -3.5 0M488.92 132.99a1.75 1.75 0 1 0 3.5 0a1.75 1.75 0 1 0 -3.5 0M489.37 131.7a1.75 1.75 0 1 0 3.5 0a1.75 1.75 0 1 0 -3.5 0M489.81 130.41a1.75 1.75 0 1 0 3.5 0a1.75 1.75 0 1 0 -3.5 0M490.26 129.08a1.75 1.75 0 1 0 3.5 0a1.75 1.75 0 1 0 -3.5 0M490.48 128.4a1.75 1.75 0 1 0 3.5 0a1.75 1.75 0 1 0 -3.5 0M490.71 127.7a1.75 1.75 0 1 0 3.5 0a1.75 1.75 0 1 0 -3.5 0M490.93 126.99a1.75 1.75 0 1 0 3.5 0a1.75 1.75 0 1 0 -3.5 0M491.15 126.27a1.75 1.75 0 1 0 3.5 0a1.75 1.75 0 1 0 -3.5 0M491.38 125.54a1.75 1.75 0 1 0 3.5 0a1.75 1.75 0 1 0 -3.5 0M491.6 124.8a1.75 1.75 0 1 0 3.5 0a1.75 1.75 0 1 0 -3.5 0M491.82 124.04a1.75 1.75 0 1 0 3.5 0a1.75 1.75 0 1 0 -3.5 0M492.05 123.28a1.75 1.75 0 1 0 3.5 0a1.75 1.75 0 1 0 -3.5 0M492.27 122.5a1.75 1.75 0 1 0 3.5 0a1.75 1.75 0 1 0 -3.5 0M492.49 121.72a1.75 1.75 0 1 0 3.5 0a1.75 1.75 0 1 0 -3.5 0M492.72 120.92a1.75 1.75 0 1 0 3.5 0a1.75 1.75 0 1 0 -3.5 0M492.94 120.12a1.75 1.75 0 1 0 3.5 0a1.75 1.75 0 1 0 -3.5 0M493.16 119.3a1.75 1.75 0 1 0 3.5 0a1.75 1.75 0 1 0 -3.5 0M493.39 118.48a1.75 1.75 0 1 0 3.5 0a1.75 1.75 0 1 0 -3.5 0M493.61 117.64a1.75 1.75 0 1 0 3.5 0a1.75 1.75 0 1 0 -3.5 0M493.83 116.8a1.75 1.75 0 1 0 3.5 0a1.75 1.75 0 1 0 -3.5 0M494.06 115.96a1.75 1.75 0 1 0 3.5 0a1.75 1.75 0 1 0 -3.5 0M494.28 115.1a1.75 1.75 0 1 0 3.5 0a1.75 1.75 0 1 0 -3.5 0M494.5 114.23a1.75 1.75 0 1 0 3.5 0a1.75 1.75 0 1 0 -3.5 0M494.73 113.36a1.75 1.75 0 1 0 3.5 0a1.75 1.75 0 1 0 -3.5 0M494.95 112.48a1.75 1.75 0 1 0 3.5 0a1.75 1.75 0 1 0 -3.5 0M495.17 111.6a1.75 1.75 0 1 0 3.5 0a1.75 1.75 0 1 0 -3.5 0M495.4 110.71a1.75 1.75 0 1 0 3.5 0a1.75 1.75 0 1 0 -3.5 0M495.62 109.81a1.75 1.75 0 1 0 3.5 0a1.75 1.75 0 1 0 -3.5 0M495.84 108.91a1.75 1.75 0 1 0 3.5 0a1.75 1.75 0 1 0 -3.5 0M496.07 108a1.75 1.75 0 1 0 3.5 0a1.75 1.75 0 1 0 -3.5 0M496.29 107.08a1.75 1.75 0 1 0 3.5 0a1.75 1.75 0 1 0 -3.5 0M496.51 106.16a1.75 1.75 0 1 0 3.5 0a1.75 1.75 0 1 0 -3.5 0M496.74 105.24a1.75 1.75 0 1 0 3.5 0a1.75 1.75 0 1 0 -3.5 0M496.96 104.31a1.75 1.75 0 1 0 3.5 0a1.75 1.75 0 1 0 -3.5 0M497.18 103.38a1.75 1.75 0 1 0 3.5 0a1.75 1.75 0 1 0 -3.5 0M497.41 102.44a1.75 1.75 0 1 0 3.5 0a1.75 1.75 0 1 0 -3.5 0M497.63 101.5a1.75 1.75 0 1 0 3.5 0a1.75 1.75 0 1 0 -3.5 0M497.85 100.56a1.75 1.75 0 1 0 3.5 0a1.75 1.75 0 1 0 -3.5 0M498.08 99.61a1.75 1.75 0 1 0 3.5 0a1.75 1.75 0 1 0 -3.5 0M498.3 98.67a1.75 1.75 0 1 0 3.5 0a1.75 1.75 0 1 0 -3.5 0M498.52 97.71a1.75 1.75 0 1 0 3.5 0a1.75 1.75 0 1 0 -3.5 0M498.75 96.76a1.75 1.75 0 1 0 3.5 0a1.75 1.75 0 1 0 -3.5 0M498.97 95.81a1.75 1.75 0 1 0 3.5 0a1.75 1.75 0 1 0 -3.5 0M499.19 94.83a1.75 1.75 0 1 0 3.5 0a1.75 1.75 0 1 0 -3.5 0M499.42 93.82a1.75 1.75 0 1 0 3.5 0a1.75 1.75 0 1 0 -3.5 0M499.64 92.78a1.75 1.75 0 1 0 3.5 0a1.75 1.75 0 1 0 -3.5 0M499.86 91.7a1.75 1.75 0 1 0 3.5 0a1.75 1.75 0 1 0 -3.5 0M500.09 90.6a1.75 1.75 0 1 0 3.5 0a1.75 1.75 0 1 0 -3.5 0M500.31 89.47a1.75 1.75 0 1 0 3.5 0a1.75 1.75 0 1 0 -3.5 0M500.53 88.32a1.75 1.75 0 1 0 3.5 0a1.75 1.75 0 1 0 -3.5 0M500.76 87.15a1.75 1.75 0 1 0 3.5 0a1.75 1.75 0 1 0 -3.5 0M500.98 85.96a1.75 1.75 0 1 0 3.5 0a1.75 1.75 0 1 0 -3.5 0M501.2 84.76a1.75 1.75 0 1 0 3.5 0a1.75 1.75 0 1 0 -3.5 0M501.43 83.55a1.75 1.75 0 1 0 3.5 0a1.75 1.75 0 1 0 -3.5 0M501.65 82.33a1.75 1.75 0 1 0 3.5 0a1.75 1.75 0 1 0 -3.5 0M501.87 81.11a1.75 1.75 0 1 0 3.5 0a1.75 1.75 0 1 0 -3.5 0M502.1 79.89a1.75 1.75 0 1 0 3.5 0a1.75 1.75 0 1 0 -3.5 0M502.32 78.66a1.75 1.75 0 1 0 3.5 0a1.75 1.75 0 1 0 -3.5 0M502.54 77.44a1.75 1.75 0 1 0 3.5 0a1.75 1.75 0 1 0 -3.5 0M502.77 76.23a1.75 1.75 0 1 0 3.5 0a1.75 1.75 0 1 0 -3.5 0M502.99 75.03a1.75 1.75 0 1 0 3.5 0a1.75 1.75 0 1 0 -3.5 0M503.21 73.83a1.75 1.75 0 1 0 3.5 0a1.75 1.75 0 1 0 -3.5 0M503.44 72.66a1.75 1.75 0 1 0 3.5 0a1.75 1.75 0 1 0 -3.5 0M503.66 71.5a1.75 1.75 0 1 0 3.5 0a1.75 1.75 0 1 0 -3.5 0M503.88 70.36a1.75 1.75 0 1 0 3.5 0a1.75 1.75 0 1 0 -3.5 0M504.11 69.25a1.75 1.75 0 1 0 3.5 0a1.75 1.75 0 1 0 -3.5 0M504.33 68.17a1.75 1.75 0 1 0 3.5 0a1.75 1.75 0 1 0 -3.5 0M504.55 67.11a1.75 1.75 0 1 0 3.5 0a1.75 1.75 0 1 0 -3.5 0M504.78 66.09a1.75 1.75 0 1 0 3.5 0a1.75 1.75 0 1 0 -3.5 0M505 65.1a1.75 1.75 0 1 0 3.5 0a1.75 1.75 0 1 0 -3.5 0M505.22 64.15a1.75 1.75 0 1 0 3.5 0a1.75 1.75 0 1 0 -3.5 0M505.45 63.24a1.75 1.75 0 1 0 3.5 0a1.75 1.75 0 1 0 -3.5 0M505.67 62.37a1.75 1.75 0 1 0 3.5 0a1.75 1.75 0 1 0 -3.5 0M505.89 61.56a1.75 1.75 0 1 0 3.5 0a1.75 1.75 0 1 0 -3.5 0M506.12 60.79a1.75 1.75 0 1 0 3.5 0a1.75 1.75 0 1 0 -3.5 0M506.34 60.05a1.75 1.75 0 1 0 3.5 0a1.75 1.75 0 1 0 -3.5 0M506.56 59.33a1.75 1.75 0 1 0 3.5 0a1.75 1.75 0 1 0 -3.5 0M506.79 58.62a1.75 1.75 0 1 0 3.5 0a1.75 1.75 0 1 0 -3.5 0M507.01 57.92a1.75 1.75 0 1 0 3.5 0a1.75 1.75 0 1 0 -3.5 0M507.23 57.24a1.75 1.75 0 1 0 3.5 0a1.75 1.75 0 1 0 -3.5 0M507.46 56.56a1.75 1.75 0 1 0 3.5 0a1.75 1.75 0 1 0 -3.5 0M507.9 55.26a1.75 1.75 0 1 0 3.5 0a1.75 1.75 0 1 0 -3.5 0M508.35 53.99a1.75 1.75 0 1 0 3.5 0a1.75 1.75 0 1 0 -3.5 0M508.8 52.78a1.75 1.75 0 1 0 3.5 0a1.75 1.75 0 1 0 -3.5 0M509.24 51.61a1.75 1.75 0 1 0 3.5 0a1.75 1.75 0 1 0 -3.5 0M509.69 50.49a1.75 1.75 0 1 0 3.5 0a1.75 1.75 0 1 0 -3.5 0M510.14 49.42a1.75 1.75 0 1 0 3.5 0a1.75 1.75 0 1 0 -3.5 0M510.58 48.39a1.75 1.75 0 1 0 3.5 0a1.75 1.75 0 1 0 -3.5 0M511.03 47.4a1.75 1.75 0 1 0 3.5 0a1.75 1.75 0 1 0 -3.5 0M511.48 46.45a1.75 1.75 0 1 0 3.5 0a1.75 1.75 0 1 0 -3.5 0M511.92 45.55a1.75 1.75 0 1 0 3.5 0a1.75 1.75 0 1 0 -3.5 0M512.37 44.69a1.75 1.75 0 1 0 3.5 0a1.75 1.75 0 1 0 -3.5 0M512.82 43.86a1.75 1.75 0 1 0 3.5 0a1.75 1.75 0 1 0 -3.5 0M513.26 43.07a1.75 1.75 0 1 0 3.5 0a1.75 1.75 0 1 0 -3.5 0M513.71 42.29a1.75 1.75 0 1 0 3.5 0a1.75 1.75 0 1 0 -3.5 0M514.16 41.53a1.75 1.75 0 1 0 3.5 0a1.75 1.75 0 1 0 -3.5 0M514.6 40.79a1.75 1.75 0 1 0 3.5 0a1.75 1.75 0 1 0 -3.5 0M515.05 40.08a1.75 1.75 0 1 0 3.5 0a1.75 1.75 0 1 0 -3.5 0M515.5 39.41a1.75 1.75 0 1 0 3.5 0a1.75 1.75 0 1 0 -3.5 0M515.94 38.77a1.75 1.75 0 1 0 3.5 0a1.75 1.75 0 1 0 -3.5 0M516.39 38.17a1.75 1.75 0 1 0 3.5 0a1.75 1.75 0 1 0 -3.5 0M516.84 37.62a1.75 1.75 0 1 0 3.5 0a1.75 1.75 0 1 0 -3.5 0M517.51 36.89a1.75 1.75 0 1 0 3.5 0a1.75 1.75 0 1 0 -3.5 0M518.18 36.28a1.75 1.75 0 1 0 3.5 0a1.75 1.75 0 1 0 -3.5 0M518.85 35.76a1.75 1.75 0 1 0 3.5 0a1.75 1.75 0 1 0 -3.5 0M519.52 35.28a1.75 1.75 0 1 0 3.5 0a1.75 1.75 0 1 0 -3.5 0M520.19 34.85a1.75 1.75 0 1 0 3.5 0a1.75 1.75 0 1 0 -3.5 0M520.86 34.48a1.75 1.75 0 1 0 3.5 0a1.75 1.75 0 1 0 -3.5 0M521.53 34.18a1.75 1.75 0 1 0 3.5 0a1.75 1.75 0 1 0 -3.5 0M522.2 33.94a1.75 1.75 0 1 0 3.5 0a1.75 1.75 0 1 0 -3.5 0M523.09 33.69a1.75 1.75 0 1 0 3.5 0a1.75 1.75 0 1 0 -3.5 0M523.98 33.44a1.75 1.75 0 1 0 3.5 0a1.75 1.75 0 1 0 -3.5 0M524.88 33.23a1.75 1.75 0 1 0 3.5 0a1.75 1.75 0 1 0 -3.5 0M525.77 33.04a1.75 1.75 0 1 0 3.5 0a1.75 1.75 0 1 0 -3.5 0M526.66 32.9a1.75 1.75 0 1 0 3.5 0a1.75 1.75 0 1 0 -3.5 0M527.56 32.81a1.75 1.75 0 1 0 3.5 0a1.75 1.75 0 1 0 -3.5 0M528.45 32.78a1.75 1.75 0 1 0 3.5 0a1.75 1.75 0 1 0 -3.5 0M529.34 32.78a1.75 1.75 0 1 0 3.5 0a1.75 1.75 0 1 0 -3.5 0M530.24 32.78a1.75 1.75 0 1 0 3.5 0a1.75 1.75 0 1 0 -3.5 0M531.13 32.78a1.75 1.75 0 1 0 3.5 0a1.75 1.75 0 1 0 -3.5 0M532.02 32.78a1.75 1.75 0 1 0 3.5 0a1.75 1.75 0 1 0 -3.5 0M532.92 32.78a1.75 1.75 0 1 0 3.5 0a1.75 1.75 0 1 0 -3.5 0M533.81 32.78a1.75 1.75 0 1 0 3.5 0a1.75 1.75 0 1 0 -3.5 0M534.7 32.78a1.75 1.75 0 1 0 3.5 0a1.75 1.75 0 1 0 -3.5 0M535.6 32.78a1.75 1.75 0 1 0 3.5 0a1.75 1.75 0 1 0 -3.5 0M536.49 32.78a1.75 1.75 0 1 0 3.5 0a1.75 1.75 0 1 0 -3.5 0M537.38 32.78a1.75 1.75 0 1 0 3.5 0a1.75 1.75 0 1 0 -3.5 0M538.28 32.78a1.75 1.75 0 1 0 3.5 0a1.75 1.75 0 1 0 -3.5 0M539.17 32.78a1.75 1.75 0 1 0 3.5 0a1.75 1.75 0 1 0 -3.5 0M540.06 32.78a1.75 1.75 0 1 0 3.5 0a1.75 1.75 0 1 0 -3.5 0M540.96 32.78a1.75 1.75 0 1 0 3.5 0a1.75 1.75 0 1 0 -3.5 0M541.85 32.78a1.75 1.75 0 1 0 3.5 0a1.75 1.75 0 1 0 -3.5 0M542.74 32.78a1.75 1.75 0 1 0 3.5 0a1.75 1.75 0 1 0 -3.5 0M543.64 32.78a1.75 1.75 0 1 0 3.5 0a1.75 1.75 0 1 0 -3.5 0M544.53 32.78a1.75 1.75 0 1 0 3.5 0a1.75 1.75 0 1 0 -3.5 0M545.42 32.78a1.75 1.75 0 1 0 3.5 0a1.75 1.75 0 1 0 -3.5 0M546.32 32.78a1.75 1.75 0 1 0 3.5 0a1.75 1.75 0 1 0 -3.5 0M547.21 32.78a1.75 1.75 0 1 0 3.5 0a1.75 1.75 0 1 0 -3.5 0M548.1 32.78a1.75 1.75 0 1 0 3.5 0a1.75 1.75 0 1 0 -3.5 0M549 32.78a1.75 1.75 0 1 0 3.5 0a1.75 1.75 0 1 0 -3.5 0M549.89 32.78a1.75 1.75 0 1 0 3.5 0a1.75 1.75 0 1 0 -3.5 0M550.78 32.78a1.75 1.75 0 1 0 3.5 0a1.75 1.75 0 1 0 -3.5 0M551.68 32.78a1.75 1.75 0 1 0 3.5 0a1.75 1.75 0 1 0 -3.5 0M552.57 32.78a1.75 1.75 0 1 0 3.5 0a1.75 1.75 0 1 0 -3.5 0M553.46 32.78a1.75 1.75 0 1 0 3.5 0a1.75 1.75 0 1 0 -3.5 0M554.36 32.78a1.75 1.75 0 1 0 3.5 0a1.75 1.75 0 1 0 -3.5 0M555.25 32.78a1.75 1.75 0 1 0 3.5 0a1.75 1.75 0 1 0 -3.5 0M556.14 32.78a1.75 1.75 0 1 0 3.5 0a1.75 1.75 0 1 0 -3.5 0M557.04 32.78a1.75 1.75 0 1 0 3.5 0a1.75 1.75 0 1 0 -3.5 0M557.93 32.78a1.75 1.75 0 1 0 3.5 0a1.75 1.75 0 1 0 -3.5 0M558.82 32.78a1.75 1.75 0 1 0 3.5 0a1.75 1.75 0 1 0 -3.5 0M559.72 32.78a1.75 1.75 0 1 0 3.5 0a1.75 1.75 0 1 0 -3.5 0M560.61 32.78a1.75 1.75 0 1 0 3.5 0a1.75 1.75 0 1 0 -3.5 0M561.5 32.78a1.75 1.75 0 1 0 3.5 0a1.75 1.75 0 1 0 -3.5 0M562.4 32.78a1.75 1.75 0 1 0 3.5 0a1.75 1.75 0 1 0 -3.5 0M563.29 32.78a1.75 1.75 0 1 0 3.5 0a1.75 1.75 0 1 0 -3.5 0M564.18 32.78a1.75 1.75 0 1 0 3.5 0a1.75 1.75 0 1 0 -3.5 0M565.08 32.78a1.75 1.75 0 1 0 3.5 0a1.75 1.75 0 1 0 -3.5 0M565.97 32.78a1.75 1.75 0 1 0 3.5 0a1.75 1.75 0 1 0 -3.5 0M566.86 32.78a1.75 1.75 0 1 0 3.5 0a1.75 1.75 0 1 0 -3.5 0M567.76 32.78a1.75 1.75 0 1 0 3.5 0a1.75 1.75 0 1 0 -3.5 0M568.65 32.78a1.75 1.75 0 1 0 3.5 0a1.75 1.75 0 1 0 -3.5 0M569.54 32.78a1.75 1.75 0 1 0 3.5 0a1.75 1.75 0 1 0 -3.5 0M570.44 32.78a1.75 1.75 0 1 0 3.5 0a1.75 1.75 0 1 0 -3.5 0M571.33 32.78a1.75 1.75 0 1 0 3.5 0a1.75 1.75 0 1 0 -3.5 0M572.22 32.78a1.75 1.75 0 1 0 3.5 0a1.75 1.75 0 1 0 -3.5 0M573.12 32.78a1.75 1.75 0 1 0 3.5 0a1.75 1.75 0 1 0 -3.5 0M574.01 32.78a1.75 1.75 0 1 0 3.5 0a1.75 1.75 0 1 0 -3.5 0M574.9 32.78a1.75 1.75 0 1 0 3.5 0a1.75 1.75 0 1 0 -3.5 0M575.8 32.78a1.75 1.75 0 1 0 3.5 0a1.75 1.75 0 1 0 -3.5 0M576.69 32.78a1.75 1.75 0 1 0 3.5 0a1.75 1.75 0 1 0 -3.5 0M577.58 32.78a1.75 1.75 0 1 0 3.5 0a1.75 1.75 0 1 0 -3.5 0M578.48 32.78a1.75 1.75 0 1 0 3.5 0a1.75 1.75 0 1 0 -3.5 0M579.37 32.78a1.75 1.75 0 1 0 3.5 0a1.75 1.75 0 1 0 -3.5 0M580.26 32.78a1.75 1.75 0 1 0 3.5 0a1.75 1.75 0 1 0 -3.5 0M581.16 32.78a1.75 1.75 0 1 0 3.5 0a1.75 1.75 0 1 0 -3.5 0M582.05 32.78a1.75 1.75 0 1 0 3.5 0a1.75 1.75 0 1 0 -3.5 0M582.94 32.78a1.75 1.75 0 1 0 3.5 0a1.75 1.75 0 1 0 -3.5 0M583.84 32.78a1.75 1.75 0 1 0 3.5 0a1.75 1.75 0 1 0 -3.5 0M584.73 32.78a1.75 1.75 0 1 0 3.5 0a1.75 1.75 0 1 0 -3.5 0M585.62 32.78a1.75 1.75 0 1 0 3.5 0a1.75 1.75 0 1 0 -3.5 0M586.52 32.78a1.75 1.75 0 1 0 3.5 0a1.75 1.75 0 1 0 -3.5 0M587.41 32.78a1.75 1.75 0 1 0 3.5 0a1.75 1.75 0 1 0 -3.5 0M588.3 32.78a1.75 1.75 0 1 0 3.5 0a1.75 1.75 0 1 0 -3.5 0" fill="#ff0000"/>
<rect x="456.5" y="15.5" width="134" height="134" fill="none" stroke="#3a3a3a" stroke-width="1"/>
<path d="M456.5 149.5v-4.0M456.5 15.5v4.0M501.17 149.5v-4.0M501.17 15.5v4.0M545.83 149.5v-4.0M545.83 15.5v4.0M590.5 149.5v-4.0M590.5 15.5v4.0M478.83 149.5v-2.5M478.83 15.5v2.5M523.5 149.5v-2.5M523.5 15.5v2.5M568.17 149.5v-2.5M568.17 15.5v2.5" stroke="#3a3a3a" stroke-width="1" fill="none"/>
<text x="456.5" y="163.1" text-anchor="middle" font-size="12.1">0</text>
<text x="501.17" y="163.1" text-anchor="middle" font-size="12.1">1.0</text>
<text x="545.83" y="163.1" text-anchor="middle" font-size="12.1">2.0</text>
<text x="590.5" y="163.1" text-anchor="middle" font-size="12.1">3.0</text>
<path d="M456.5 149.5h4.0M590.5 149.5h-4.0M456.5 126.16h4.0M590.5 126.16h-4.0M456.5 102.81h4.0M590.5 102.81h-4.0M456.5 79.47h4.0M590.5 79.47h-4.0M456.5 56.12h4.0M590.5 56.12h-4.0M456.5 32.78h4.0M590.5 32.78h-4.0" stroke="#3a3a3a" stroke-width="1" fill="none"/>
<text x="453.7" y="153.6" text-anchor="end" font-size="12.1">0</text>
<text x="453.7" y="130.26" text-anchor="end" font-size="12.1">0.2</text>
<text x="453.7" y="106.91" text-anchor="end" font-size="12.1">0.4</text>
<text x="453.7" y="83.57" text-anchor="end" font-size="12.1">0.6</text>
<text x="453.7" y="60.22" text-anchor="end" font-size="12.1">0.8</text>
<text x="453.7" y="36.88" text-anchor="end" font-size="12.1">1.0</text>
<text x="468.5" y="34.3" font-size="10.8" fill="#ff0000" text-anchor="start"><tspan>KV</tspan><tspan font-size="7.78" dy="3.02">3</tspan><tspan dy="-3.02">Sb</tspan><tspan font-size="7.78" dy="3.02">5</tspan></text>
<path d="M459.19 334.5a1.5 1.5 0 1 0 3 0a1.5 1.5 0 1 0 -3 0M459.94 334.5a1.5 1.5 0 1 0 3 0a1.5 1.5 0 1 0 -3 0M460.69 334.5a1.5 1.5 0 1 0 3 0a1.5 1.5 0 1 0 -3 0M461.45 334.5a1.5 1.5 0 1 0 3 0a1.5 1.5 0 1 0 -3 0M462.2 334.5a1.5 1.5 0 1 0 3 0a1.5 1.5 0 1 0 -3 0M462.96 334.5a1.5 1.5 0 1 0 3 0a1.5 1.5 0 1 0 -3 0M463.71 334.5a1.5 1.5 0 1 0 3 0a1.5 1.5 0 1 0 -3 0M464.46 334.5a1.5 1.5 0 1 0 3 0a1.5 1.5 0 1 0 -3 0M465.22 334.5a1.5 1.5 0 1 0 3 0a1.5 1.5 0 1 0 -3 0M465.97 334.5a1.5 1.5 0 1 0 3 0a1.5 1.5 0 1 0 -3 0M466.73 334.5a1.5 1.5 0 1 0 3 0a1.5 1.5 0 1 0 -3 0M467.48 334.5a1.5 1.5 0 1 0 3 0a1.5 1.5 0 1 0 -3 0M468.23 334.5a1.5 1.5 0 1 0 3 0a1.5 1.5 0 1 0 -3 0M468.99 334.5a1.5 1.5 0 1 0 3 0a1.5 1.5 0 1 0 -3 0M469.74 334.5a1.5 1.5 0 1 0 3 0a1.5 1.5 0 1 0 -3 0M470.49 334.5a1.5 1.5 0 1 0 3 0a1.5 1.5 0 1 0 -3 0M471.25 334.49a1.5 1.5 0 1 0 3 0a1.5 1.5 0 1 0 -3 0M472 334.49a1.5 1.5 0 1 0 3 0a1.5 1.5 0 1 0 -3 0M472.75 334.49a1.5 1.5 0 1 0 3 0a1.5 1.5 0 1 0 -3 0M473.51 334.49a1.5 1.5 0 1 0 3 0a1.5 1.5 0 1 0 -3 0M474.26 334.49a1.5 1.5 0 1 0 3 0a1.5 1.5 0 1 0 -3 0M475.02 334.49a1.5 1.5 0 1 0 3 0a1.5 1.5 0 1 0 -3 0M475.77 334.49a1.5 1.5 0 1 0 3 0a1.5 1.5 0 1 0 -3 0M476.52 334.49a1.5 1.5 0 1 0 3 0a1.5 1.5 0 1 0 -3 0M477.28 334.48a1.5 1.5 0 1 0 3 0a1.5 1.5 0 1 0 -3 0M478.03 334.48a1.5 1.5 0 1 0 3 0a1.5 1.5 0 1 0 -3 0M478.78 334.48a1.5 1.5 0 1 0 3 0a1.5 1.5 0 1 0 -3 0M479.54 334.48a1.5 1.5 0 1 0 3 0a1.5 1.5 0 1 0 -3 0M480.29 334.48a1.5 1.5 0 1 0 3 0a1.5 1.5 0 1 0 -3 0M481.05 334.47a1.5 1.5 0 1 0 3 0a1.5 1.5 0 1 0 -3 0M481.8 334.47a1.5 1.5 0 1 0 3 0a1.5 1.5 0 1 0 -3 0M482.55 334.47a1.5 1.5 0 1 0 3 0a1.5 1.5 0 1 0 -3 0M483.31 334.46a1.5 1.5 0 1 0 3 0a1.5 1.5 0 1 0 -3 0M484.06 334.46a1.5 1.5 0 1 0 3 0a1.5 1.5 0 1 0 -3 0M484.81 334.46a1.5 1.5 0 1 0 3 0a1.5 1.5 0 1 0 -3 0M485.57 334.45a1.5 1.5 0 1 0 3 0a1.5 1.5 0 1 0 -3 0M486.32 334.45a1.5 1.5 0 1 0 3 0a1.5 1.5 0 1 0 -3 0M487.08 334.45a1.5 1.5 0 1 0 3 0a1.5 1.5 0 1 0 -3 0M487.83 334.44a1.5 1.5 0 1 0 3 0a1.5 1.5 0 1 0 -3 0M488.58 334.44a1.5 1.5 0 1 0 3 0a1.5 1.5 0 1 0 -3 0M489.34 334.44a1.5 1.5 0 1 0 3 0a1.5 1.5 0 1 0 -3 0M490.09 334.43a1.5 1.5 0 1 0 3 0a1.5 1.5 0 1 0 -3 0M490.84 334.43a1.5 1.5 0 1 0 3 0a1.5 1.5 0 1 0 -3 0M491.6 334.42a1.5 1.5 0 1 0 3 0a1.5 1.5 0 1 0 -3 0M492.35 334.42a1.5 1.5 0 1 0 3 0a1.5 1.5 0 1 0 -3 0M493.11 334.41a1.5 1.5 0 1 0 3 0a1.5 1.5 0 1 0 -3 0M493.86 334.41a1.5 1.5 0 1 0 3 0a1.5 1.5 0 1 0 -3 0M494.61 334.4a1.5 1.5 0 1 0 3 0a1.5 1.5 0 1 0 -3 0M495.37 334.39a1.5 1.5 0 1 0 3 0a1.5 1.5 0 1 0 -3 0M496.12 334.39a1.5 1.5 0 1 0 3 0a1.5 1.5 0 1 0 -3 0M496.88 334.38a1.5 1.5 0 1 0 3 0a1.5 1.5 0 1 0 -3 0M497.63 334.38a1.5 1.5 0 1 0 3 0a1.5 1.5 0 1 0 -3 0M498.38 334.37a1.5 1.5 0 1 0 3 0a1.5 1.5 0 1 0 -3 0M499.14 334.36a1.5 1.5 0 1 0 3 0a1.5 1.5 0 1 0 -3 0M499.89 334.35a1.5 1.5 0 1 0 3 0a1.5 1.5 0 1 0 -3 0M500.64 334.35a1.5 1.5 0 1 0 3 0a1.5 1.5 0 1 0 -3 0M501.4 334.34a1.5 1.5 0 1 0 3 0a1.5 1.5 0 1 0 -3 0M502.15 334.33a1.5 1.5 0 1 0 3 0a1.5 1.5 0 1 0 -3 0M502.9 334.32a1.5 1.5 0 1 0 3 0a1.5 1.5 0 1 0 -3 0M503.66 334.32a1.5 1.5 0 1 0 3 0a1.5 1.5 0 1 0 -3 0M504.41 334.31a1.5 1.5 0 1 0 3 0a1.5 1.5 0 1 0 -3 0M505.17 334.3a1.5 1.5 0 1 0 3 0a1.5 1.5 0 1 0 -3 0M505.92 334.29a1.5 1.5 0 1 0 3 0a1.5 1.5 0 1 0 -3 0M506.67 334.28a1.5 1.5 0 1 0 3 0a1.5 1.5 0 1 0 -3 0M507.43 334.27a1.5 1.5 0 1 0 3 0a1.5 1.5 0 1 0 -3 0M508.18 334.26a1.5 1.5 0 1 0 3 0a1.5 1.5 0 1 0 -3 0M508.93 334.25a1.5 1.5 0 1 0 3 0a1.5 1.5 0 1 0 -3 0M509.69 334.24a1.5 1.5 0 1 0 3 0a1.5 1.5 0 1 0 -3 0M510.44 334.23a1.5 1.5 0 1 0 3 0a1.5 1.5 0 1 0 -3 0M511.2 334.22a1.5 1.5 0 1 0 3 0a1.5 1.5 0 1 0 -3 0M511.95 334.21a1.5 1.5 0 1 0 3 0a1.5 1.5 0 1 0 -3 0M512.7 334.2a1.5 1.5 0 1 0 3 0a1.5 1.5 0 1 0 -3 0M513.46 334.18a1.5 1.5 0 1 0 3 0a1.5 1.5 0 1 0 -3 0M514.21 334.17a1.5 1.5 0 1 0 3 0a1.5 1.5 0 1 0 -3 0M514.96 334.16a1.5 1.5 0 1 0 3 0a1.5 1.5 0 1 0 -3 0M515.72 334.15a1.5 1.5 0 1 0 3 0a1.5 1.5 0 1 0 -3 0M516.47 334.13a1.5 1.5 0 1 0 3 0a1.5 1.5 0 1 0 -3 0M517.23 334.12a1.5 1.5 0 1 0 3 0a1.5 1.5 0 1 0 -3 0M517.98 334.11a1.5 1.5 0 1 0 3 0a1.5 1.5 0 1 0 -3 0M518.73 334.09a1.5 1.5 0 1 0 3 0a1.5 1.5 0 1 0 -3 0M519.49 334.08a1.5 1.5 0 1 0 3 0a1.5 1.5 0 1 0 -3 0M520.24 334.06a1.5 1.5 0 1 0 3 0a1.5 1.5 0 1 0 -3 0M521 334.05a1.5 1.5 0 1 0 3 0a1.5 1.5 0 1 0 -3 0M521.75 334.03a1.5 1.5 0 1 0 3 0a1.5 1.5 0 1 0 -3 0M522.5 334.02a1.5 1.5 0 1 0 3 0a1.5 1.5 0 1 0 -3 0M523.26 334a1.5 1.5 0 1 0 3 0a1.5 1.5 0 1 0 -3 0M524.01 333.99a1.5 1.5 0 1 0 3 0a1.5 1.5 0 1 0 -3 0M524.76 333.97a1.5 1.5 0 1 0 3 0a1.5 1.5 0 1 0 -3 0M525.52 333.95a1.5 1.5 0 1 0 3 0a1.5 1.5 0 1 0 -3 0M526.27 333.93a1.5 1.5 0 1 0 3 0a1.5 1.5 0 1 0 -3 0M527.02 333.92a1.5 1.5 0 1 0 3 0a1.5 1.5 0 1 0 -3 0M527.78 333.86a1.5 1.5 0 1 0 3 0a1.5 1.5 0 1 0 -3 0M528.53 333.71a1.5 1.5 0 1 0 3 0a1.5 1.5 0 1 0 -3 0M529.29 333.49a1.5 1.5 0 1 0 3 0a1.5 1.5 0 1 0 -3 0M530.04 333.2a1.5 1.5 0 1 0 3 0a1.5 1.5 0 1 0 -3 0M530.79 332.85a1.5 1.5 0 1 0 3 0a1.5 1.5 0 1 0 -3 0M531.55 332.45a1.5 1.5 0 1 0 3 0a1.5 1.5 0 1 0 -3 0M532.3 332a1.5 1.5 0 1 0 3 0a1.5 1.5 0 1 0 -3 0M533.05 331.51a1.5 1.5 0 1 0 3 0a1.5 1.5 0 1 0 -3 0M533.81 330.99a1.5 1.5 0 1 0 3 0a1.5 1.5 0 1 0 -3 0M534.56 330.46a1.5 1.5 0 1 0 3 0a1.5 1.5 0 1 0 -3 0M535.32 329.9a1.5 1.5 0 1 0 3 0a1.5 1.5 0 1 0 -3 0M536.07 329.33a1.5 1.5 0 1 0 3 0a1.5 1.5 0 1 0 -3 0M536.82 328.72a1.5 1.5 0 1 0 3 0a1.5 1.5 0 1 0 -3 0M537.58 328.01a1.5 1.5 0 1 0 3 0a1.5 1.5 0 1 0 -3 0M538.33 327.17a1.5 1.5 0 1 0 3 0a1.5 1.5 0 1 0 -3 0M539.08 326.13a1.5 1.5 0 1 0 3 0a1.5 1.5 0 1 0 -3 0M539.46 325.53a1.5 1.5 0 1 0 3 0a1.5 1.5 0 1 0 -3 0M539.84 324.87a1.5 1.5 0 1 0 3 0a1.5 1.5 0 1 0 -3 0M540.22 324.14a1.5 1.5 0 1 0 3 0a1.5 1.5 0 1 0 -3 0M540.59 323.33a1.5 1.5 0 1 0 3 0a1.5 1.5 0 1 0 -3 0M540.97 322.44a1.5 1.5 0 1 0 3 0a1.5 1.5 0 1 0 -3 0M541.35 321.43a1.5 1.5 0 1 0 3 0a1.5 1.5 0 1 0 -3 0M541.72 319.58a1.5 1.5 0 1 0 3 0a1.5 1.5 0 1 0 -3 0M542.1 316.77a1.5 1.5 0 1 0 3 0a1.5 1.5 0 1 0 -3 0M542.48 313.27a1.5 1.5 0 1 0 3 0a1.5 1.5 0 1 0 -3 0M542.85 309.34a1.5 1.5 0 1 0 3 0a1.5 1.5 0 1 0 -3 0M543.23 305.23a1.5 1.5 0 1 0 3 0a1.5 1.5 0 1 0 -3 0M543.61 301.23a1.5 1.5 0 1 0 3 0a1.5 1.5 0 1 0 -3 0M543.98 297.45a1.5 1.5 0 1 0 3 0a1.5 1.5 0 1 0 -3 0M544.36 293.49a1.5 1.5 0 1 0 3 0a1.5 1.5 0 1 0 -3 0M544.74 289.33a1.5 1.5 0 1 0 3 0a1.5 1.5 0 1 0 -3 0M545.11 285.03a1.5 1.5 0 1 0 3 0a1.5 1.5 0 1 0 -3 0M545.49 280.65a1.5 1.5 0 1 0 3 0a1.5 1.5 0 1 0 -3 0M545.87 276.26a1.5 1.5 0 1 0 3 0a1.5 1.5 0 1 0 -3 0M546.25 271.9a1.5 1.5 0 1 0 3 0a1.5 1.5 0 1 0 -3 0M546.62 267.65a1.5 1.5 0 1 0 3 0a1.5 1.5 0 1 0 -3 0M547 263.57a1.5 1.5 0 1 0 3 0a1.5 1.5 0 1 0 -3 0M547.38 259.55a1.5 1.5 0 1 0 3 0a1.5 1.5 0 1 0 -3 0M547.75 255.23a1.5 1.5 0 1 0 3 0a1.5 1.5 0 1 0 -3 0M548.13 250.84a1.5 1.5 0 1 0 3 0a1.5 1.5 0 1 0 -3 0M548.51 246.63a1.5 1.5 0 1 0 3 0a1.5 1.5 0 1 0 -3 0M548.88 242.87a1.5 1.5 0 1 0 3 0a1.5 1.5 0 1 0 -3 0M549.26 239.84a1.5 1.5 0 1 0 3 0a1.5 1.5 0 1 0 -3 0M549.64 237.79a1.5 1.5 0 1 0 3 0a1.5 1.5 0 1 0 -3 0M550.01 236.37a1.5 1.5 0 1 0 3 0a1.5 1.5 0 1 0 -3 0M550.39 235.05a1.5 1.5 0 1 0 3 0a1.5 1.5 0 1 0 -3 0M550.77 233.83a1.5 1.5 0 1 0 3 0a1.5 1.5 0 1 0 -3 0M551.14 232.71a1.5 1.5 0 1 0 3 0a1.5 1.5 0 1 0 -3 0M551.52 231.67a1.5 1.5 0 1 0 3 0a1.5 1.5 0 1 0 -3 0M551.9 230.72a1.5 1.5 0 1 0 3 0a1.5 1.5 0 1 0 -3 0M552.28 229.84a1.5 1.5 0 1 0 3 0a1.5 1.5 0 1 0 -3 0M552.65 229.04a1.5 1.5 0 1 0 3 0a1.5 1.5 0 1 0 -3 0M553.03 228.31a1.5 1.5 0 1 0 3 0a1.5 1.5 0 1 0 -3 0M553.41 227.65a1.5 1.5 0 1 0 3 0a1.5 1.5 0 1 0 -3 0M553.78 227.05a1.5 1.5 0 1 0 3 0a1.5 1.5 0 1 0 -3 0M554.54 226.01a1.5 1.5 0 1 0 3 0a1.5 1.5 0 1 0 -3 0M555.29 225.17a1.5 1.5 0 1 0 3 0a1.5 1.5 0 1 0 -3 0M556.04 224.47a1.5 1.5 0 1 0 3 0a1.5 1.5 0 1 0 -3 0M556.8 223.82a1.5 1.5 0 1 0 3 0a1.5 1.5 0 1 0 -3 0M557.55 223.22a1.5 1.5 0 1 0 3 0a1.5 1.5 0 1 0 -3 0M558.31 222.66a1.5 1.5 0 1 0 3 0a1.5 1.5 0 1 0 -3 0M559.06 222.16a1.5 1.5 0 1 0 3 0a1.5 1.5 0 1 0 -3 0M559.81 221.69a1.5 1.5 0 1 0 3 0a1.5 1.5 0 1 0 -3 0M560.57 221.28a1.5 1.5 0 1 0 3 0a1.5 1.5 0 1 0 -3 0M561.32 220.9a1.5 1.5 0 1 0 3 0a1.5 1.5 0 1 0 -3 0M562.07 220.57a1.5 1.5 0 1 0 3 0a1.5 1.5 0 1 0 -3 0M562.83 220.28a1.5 1.5 0 1 0 3 0a1.5 1.5 0 1 0 -3 0M563.58 220.03a1.5 1.5 0 1 0 3 0a1.5 1.5 0 1 0 -3 0M564.34 219.82a1.5 1.5 0 1 0 3 0a1.5 1.5 0 1 0 -3 0M565.09 219.64a1.5 1.5 0 1 0 3 0a1.5 1.5 0 1 0 -3 0M565.84 219.47a1.5 1.5 0 1 0 3 0a1.5 1.5 0 1 0 -3 0M566.6 219.31a1.5 1.5 0 1 0 3 0a1.5 1.5 0 1 0 -3 0M567.35 219.15a1.5 1.5 0 1 0 3 0a1.5 1.5 0 1 0 -3 0M568.1 219a1.5 1.5 0 1 0 3 0a1.5 1.5 0 1 0 -3 0M568.86 218.85a1.5 1.5 0 1 0 3 0a1.5 1.5 0 1 0 -3 0M569.61 218.72a1.5 1.5 0 1 0 3 0a1.5 1.5 0 1 0 -3 0M570.37 218.59a1.5 1.5 0 1 0 3 0a1.5 1.5 0 1 0 -3 0M571.12 218.47a1.5 1.5 0 1 0 3 0a1.5 1.5 0 1 0 -3 0M571.87 218.36a1.5 1.5 0 1 0 3 0a1.5 1.5 0 1 0 -3 0M572.63 218.27a1.5 1.5 0 1 0 3 0a1.5 1.5 0 1 0 -3 0M573.38 218.19a1.5 1.5 0 1 0 3 0a1.5 1.5 0 1 0 -3 0M574.13 218.12a1.5 1.5 0 1 0 3 0a1.5 1.5 0 1 0 -3 0M574.89 218.06a1.5 1.5 0 1 0 3 0a1.5 1.5 0 1 0 -3 0M575.64 218.02a1.5 1.5 0 1 0 3 0a1.5 1.5 0 1 0 -3 0M576.4 217.99a1.5 1.5 0 1 0 3 0a1.5 1.5 0 1 0 -3 0M577.15 217.98a1.5 1.5 0 1 0 3 0a1.5 1.5 0 1 0 -3 0M577.9 217.98a1.5 1.5 0 1 0 3 0a1.5 1.5 0 1 0 -3 0M578.66 217.98a1.5 1.5 0 1 0 3 0a1.5 1.5 0 1 0 -3 0M579.41 217.98a1.5 1.5 0 1 0 3 0a1.5 1.5 0 1 0 -3 0M580.16 217.98a1.5 1.5 0 1 0 3 0a1.5 1.5 0 1 0 -3 0M580.92 217.98a1.5 1.5 0 1 0 3 0a1.5 1.5 0 1 0 -3 0M581.67 217.98a1.5 1.5 0 1 0 3 0a1.5 1.5 0 1 0 -3 0M582.43 217.98a1.5 1.5 0 1 0 3 0a1.5 1.5 0 1 0 -3 0M583.18 217.98a1.5 1.5 0 1 0 3 0a1.5 1.5 0 1 0 -3 0M583.93 217.98a1.5 1.5 0 1 0 3 0a1.5 1.5 0 1 0 -3 0M584.69 217.98a1.5 1.5 0 1 0 3 0a1.5 1.5 0 1 0 -3 0M585.44 217.98a1.5 1.5 0 1 0 3 0a1.5 1.5 0 1 0 -3 0M586.19 217.98a1.5 1.5 0 1 0 3 0a1.5 1.5 0 1 0 -3 0M586.95 217.98a1.5 1.5 0 1 0 3 0a1.5 1.5 0 1 0 -3 0M587.7 217.98a1.5 1.5 0 1 0 3 0a1.5 1.5 0 1 0 -3 0M588.46 217.98a1.5 1.5 0 1 0 3 0a1.5 1.5 0 1 0 -3 0" fill="#33bbff"/>
<path d="M459.19 334.5a1.5 1.5 0 1 0 3 0a1.5 1.5 0 1 0 -3 0M459.94 334.5a1.5 1.5 0 1 0 3 0a1.5 1.5 0 1 0 -3 0M460.69 334.5a1.5 1.5 0 1 0 3 0a1.5 1.5 0 1 0 -3 0M461.45 334.5a1.5 1.5 0 1 0 3 0a1.5 1.5 0 1 0 -3 0M462.2 334.5a1.5 1.5 0 1 0 3 0a1.5 1.5 0 1 0 -3 0M462.96 334.5a1.5 1.5 0 1 0 3 0a1.5 1.5 0 1 0 -3 0M463.71 334.5a1.5 1.5 0 1 0 3 0a1.5 1.5 0 1 0 -3 0M464.46 334.5a1.5 1.5 0 1 0 3 0a1.5 1.5 0 1 0 -3 0M465.22 334.5a1.5 1.5 0 1 0 3 0a1.5 1.5 0 1 0 -3 0M465.97 334.5a1.5 1.5 0 1 0 3 0a1.5 1.5 0 1 0 -3 0M466.73 334.5a1.5 1.5 0 1 0 3 0a1.5 1.5 0 1 0 -3 0M467.48 334.5a1.5 1.5 0 1 0 3 0a1.5 1.5 0 1 0 -3 0M468.23 334.5a1.5 1.5 0 1 0 3 0a1.5 1.5 0 1 0 -3 0M468.99 334.49a1.5 1.5 0 1 0 3 0a1.5 1.5 0 1 0 -3 0M469.74 334.49a1.5 1.5 0 1 0 3 0a1.5 1.5 0 1 0 -3 0M470.49 334.49a1.5 1.5 0 1 0 3 0a1.5 1.5 0 1 0 -3 0M471.25 334.49a1.5 1.5 0 1 0 3 0a1.5 1.5 0 1 0 -3 0M472 334.49a1.5 1.5 0 1 0 3 0a1.5 1.5 0 1 0 -3 0M472.75 334.49a1.5 1.5 0 1 0 3 0a1.5 1.5 0 1 0 -3 0M473.51 334.48a1.5 1.5 0 1 0 3 0a1.5 1.5 0 1 0 -3 0M474.26 334.48a1.5 1.5 0 1 0 3 0a1.5 1.5 0 1 0 -3 0M475.02 334.48a1.5 1.5 0 1 0 3 0a1.5 1.5 0 1 0 -3 0M475.77 334.47a1.5 1.5 0 1 0 3 0a1.5 1.5 0 1 0 -3 0M476.52 334.47a1.5 1.5 0 1 0 3 0a1.5 1.5 0 1 0 -3 0M477.28 334.47a1.5 1.5 0 1 0 3 0a1.5 1.5 0 1 0 -3 0M478.03 334.46a1.5 1.5 0 1 0 3 0a1.5 1.5 0 1 0 -3 0M478.78 334.46a1.5 1.5 0 1 0 3 0a1.5 1.5 0 1 0 -3 0M479.54 334.46a1.5 1.5 0 1 0 3 0a1.5 1.5 0 1 0 -3 0M480.29 334.45a1.5 1.5 0 1 0 3 0a1.5 1.5 0 1 0 -3 0M481.05 334.45a1.5 1.5 0 1 0 3 0a1.5 1.5 0 1 0 -3 0M481.8 334.44a1.5 1.5 0 1 0 3 0a1.5 1.5 0 1 0 -3 0M482.55 334.44a1.5 1.5 0 1 0 3 0a1.5 1.5 0 1 0 -3 0M483.31 334.43a1.5 1.5 0 1 0 3 0a1.5 1.5 0 1 0 -3 0M484.06 334.43a1.5 1.5 0 1 0 3 0a1.5 1.5 0 1 0 -3 0M484.81 334.42a1.5 1.5 0 1 0 3 0a1.5 1.5 0 1 0 -3 0M485.57 334.41a1.5 1.5 0 1 0 3 0a1.5 1.5 0 1 0 -3 0M486.32 334.41a1.5 1.5 0 1 0 3 0a1.5 1.5 0 1 0 -3 0M487.08 334.4a1.5 1.5 0 1 0 3 0a1.5 1.5 0 1 0 -3 0M487.83 334.39a1.5 1.5 0 1 0 3 0a1.5 1.5 0 1 0 -3 0M488.58 334.38a1.5 1.5 0 1 0 3 0a1.5 1.5 0 1 0 -3 0M489.34 334.38a1.5 1.5 0 1 0 3 0a1.5 1.5 0 1 0 -3 0M490.09 334.37a1.5 1.5 0 1 0 3 0a1.5 1.5 0 1 0 -3 0M490.84 334.36a1.5 1.5 0 1 0 3 0a1.5 1.5 0 1 0 -3 0M491.6 334.35a1.5 1.5 0 1 0 3 0a1.5 1.5 0 1 0 -3 0M492.35 334.34a1.5 1.5 0 1 0 3 0a1.5 1.5 0 1 0 -3 0M493.11 334.33a1.5 1.5 0 1 0 3 0a1.5 1.5 0 1 0 -3 0M493.86 334.32a1.5 1.5 0 1 0 3 0a1.5 1.5 0 1 0 -3 0M494.61 334.31a1.5 1.5 0 1 0 3 0a1.5 1.5 0 1 0 -3 0M495.37 334.3a1.5 1.5 0 1 0 3 0a1.5 1.5 0 1 0 -3 0M496.12 334.29a1.5 1.5 0 1 0 3 0a1.5 1.5 0 1 0 -3 0M496.88 334.28a1.5 1.5 0 1 0 3 0a1.5 1.5 0 1 0 -3 0M497.63 334.27a1.5 1.5 0 1 0 3 0a1.5 1.5 0 1 0 -3 0M498.38 334.26a1.5 1.5 0 1 0 3 0a1.5 1.5 0 1 0 -3 0M499.14 334.25a1.5 1.5 0 1 0 3 0a1.5 1.5 0 1 0 -3 0M499.89 334.24a1.5 1.5 0 1 0 3 0a1.5 1.5 0 1 0 -3 0M500.64 334.22a1.5 1.5 0 1 0 3 0a1.5 1.5 0 1 0 -3 0M501.4 334.21a1.5 1.5 0 1 0 3 0a1.5 1.5 0 1 0 -3 0M502.15 334.2a1.5 1.5 0 1 0 3 0a1.5 1.5 0 1 0 -3 0M502.9 334.18a1.5 1.5 0 1 0 3 0a1.5 1.5 0 1 0 -3 0M503.66 334.17a1.5 1.5 0 1 0 3 0a1.5 1.5 0 1 0 -3 0M504.41 334.16a1.5 1.5 0 1 0 3 0a1.5 1.5 0 1 0 -3 0M505.17 334.14a1.5 1.5 0 1 0 3 0a1.5 1.5 0 1 0 -3 0M505.92 334.13a1.5 1.5 0 1 0 3 0a1.5 1.5 0 1 0 -3 0M506.67 334.11a1.5 1.5 0 1 0 3 0a1.5 1.5 0 1 0 -3 0M507.43 334.09a1.5 1.5 0 1 0 3 0a1.5 1.5 0 1 0 -3 0M508.18 334.08a1.5 1.5 0 1 0 3 0a1.5 1.5 0 1 0 -3 0M508.93 334.06a1.5 1.5 0 1 0 3 0a1.5 1.5 0 1 0 -3 0M509.69 334.04a1.5 1.5 0 1 0 3 0a1.5 1.5 0 1 0 -3 0M510.44 334.03a1.5 1.5 0 1 0 3 0a1.5 1.5 0 1 0 -3 0M511.2 334.01a1.5 1.5 0 1 0 3 0a1.5 1.5 0 1 0 -3 0M511.95 333.99a1.5 1.5 0 1 0 3 0a1.5 1.5 0 1 0 -3 0M512.7 333.97a1.5 1.5 0 1 0 3 0a1.5 1.5 0 1 0 -3 0M513.46 333.95a1.5 1.5 0 1 0 3 0a1.5 1.5 0 1 0 -3 0M514.21 333.93a1.5 1.5 0 1 0 3 0a1.5 1.5 0 1 0 -3 0M514.96 333.91a1.5 1.5 0 1 0 3 0a1.5 1.5 0 1 0 -3 0M515.72 333.85a1.5 1.5 0 1 0 3 0a1.5 1.5 0 1 0 -3 0M516.47 333.76a1.5 1.5 0 1 0 3 0a1.5 1.5 0 1 0 -3 0M517.23 333.63a1.5 1.5 0 1 0 3 0a1.5 1.5 0 1 0 -3 0M517.98 333.46a1.5 1.5 0 1 0 3 0a1.5 1.5 0 1 0 -3 0M518.73 333.25a1.5 1.5 0 1 0 3 0a1.5 1.5 0 1 0 -3 0M519.49 333.01a1.5 1.5 0 1 0 3 0a1.5 1.5 0 1 0 -3 0M520.24 332.73a1.5 1.5 0 1 0 3 0a1.5 1.5 0 1 0 -3 0M521 332.42a1.5 1.5 0 1 0 3 0a1.5 1.5 0 1 0 -3 0M521.75 332.08a1.5 1.5 0 1 0 3 0a1.5 1.5 0 1 0 -3 0M522.5 331.7a1.5 1.5 0 1 0 3 0a1.5 1.5 0 1 0 -3 0M523.26 331.3a1.5 1.5 0 1 0 3 0a1.5 1.5 0 1 0 -3 0M524.01 330.86a1.5 1.5 0 1 0 3 0a1.5 1.5 0 1 0 -3 0M524.76 330.4a1.5 1.5 0 1 0 3 0a1.5 1.5 0 1 0 -3 0M525.52 329.91a1.5 1.5 0 1 0 3 0a1.5 1.5 0 1 0 -3 0M526.27 329.4a1.5 1.5 0 1 0 3 0a1.5 1.5 0 1 0 -3 0M527.02 328.86a1.5 1.5 0 1 0 3 0a1.5 1.5 0 1 0 -3 0M527.78 328.27a1.5 1.5 0 1 0 3 0a1.5 1.5 0 1 0 -3 0M528.53 327.49a1.5 1.5 0 1 0 3 0a1.5 1.5 0 1 0 -3 0M529.29 326.48a1.5 1.5 0 1 0 3 0a1.5 1.5 0 1 0 -3 0M529.66 325.86a1.5 1.5 0 1 0 3 0a1.5 1.5 0 1 0 -3 0M530.04 325.17a1.5 1.5 0 1 0 3 0a1.5 1.5 0 1 0 -3 0M530.42 324.38a1.5 1.5 0 1 0 3 0a1.5 1.5 0 1 0 -3 0M530.79 323.5a1.5 1.5 0 1 0 3 0a1.5 1.5 0 1 0 -3 0M531.17 322.52a1.5 1.5 0 1 0 3 0a1.5 1.5 0 1 0 -3 0M531.55 321.4a1.5 1.5 0 1 0 3 0a1.5 1.5 0 1 0 -3 0M531.92 319.48a1.5 1.5 0 1 0 3 0a1.5 1.5 0 1 0 -3 0M532.3 316.66a1.5 1.5 0 1 0 3 0a1.5 1.5 0 1 0 -3 0M532.68 313.17a1.5 1.5 0 1 0 3 0a1.5 1.5 0 1 0 -3 0M533.05 309.27a1.5 1.5 0 1 0 3 0a1.5 1.5 0 1 0 -3 0M533.43 305.2a1.5 1.5 0 1 0 3 0a1.5 1.5 0 1 0 -3 0M533.81 301.22a1.5 1.5 0 1 0 3 0a1.5 1.5 0 1 0 -3 0M534.19 297.44a1.5 1.5 0 1 0 3 0a1.5 1.5 0 1 0 -3 0M534.56 293.44a1.5 1.5 0 1 0 3 0a1.5 1.5 0 1 0 -3 0M534.94 289.22a1.5 1.5 0 1 0 3 0a1.5 1.5 0 1 0 -3 0M535.32 284.85a1.5 1.5 0 1 0 3 0a1.5 1.5 0 1 0 -3 0M535.69 280.41a1.5 1.5 0 1 0 3 0a1.5 1.5 0 1 0 -3 0M536.07 275.97a1.5 1.5 0 1 0 3 0a1.5 1.5 0 1 0 -3 0M536.45 271.63a1.5 1.5 0 1 0 3 0a1.5 1.5 0 1 0 -3 0M536.82 267.45a1.5 1.5 0 1 0 3 0a1.5 1.5 0 1 0 -3 0M537.2 263.5a1.5 1.5 0 1 0 3 0a1.5 1.5 0 1 0 -3 0M537.58 259.74a1.5 1.5 0 1 0 3 0a1.5 1.5 0 1 0 -3 0M537.95 255.81a1.5 1.5 0 1 0 3 0a1.5 1.5 0 1 0 -3 0M538.33 251.88a1.5 1.5 0 1 0 3 0a1.5 1.5 0 1 0 -3 0M538.71 248.15a1.5 1.5 0 1 0 3 0a1.5 1.5 0 1 0 -3 0M539.08 244.81a1.5 1.5 0 1 0 3 0a1.5 1.5 0 1 0 -3 0M539.46 242.07a1.5 1.5 0 1 0 3 0a1.5 1.5 0 1 0 -3 0M539.84 240.12a1.5 1.5 0 1 0 3 0a1.5 1.5 0 1 0 -3 0M540.22 238.67a1.5 1.5 0 1 0 3 0a1.5 1.5 0 1 0 -3 0M540.59 237.31a1.5 1.5 0 1 0 3 0a1.5 1.5 0 1 0 -3 0M540.97 236.02a1.5 1.5 0 1 0 3 0a1.5 1.5 0 1 0 -3 0M541.35 234.82a1.5 1.5 0 1 0 3 0a1.5 1.5 0 1 0 -3 0M541.72 233.69a1.5 1.5 0 1 0 3 0a1.5 1.5 0 1 0 -3 0M542.1 232.63a1.5 1.5 0 1 0 3 0a1.5 1.5 0 1 0 -3 0M542.48 231.65a1.5 1.5 0 1 0 3 0a1.5 1.5 0 1 0 -3 0M542.85 230.73a1.5 1.5 0 1 0 3 0a1.5 1.5 0 1 0 -3 0M543.23 229.88a1.5 1.5 0 1 0 3 0a1.5 1.5 0 1 0 -3 0M543.61 229.1a1.5 1.5 0 1 0 3 0a1.5 1.5 0 1 0 -3 0M543.98 228.38a1.5 1.5 0 1 0 3 0a1.5 1.5 0 1 0 -3 0M544.36 227.72a1.5 1.5 0 1 0 3 0a1.5 1.5 0 1 0 -3 0M544.74 227.12a1.5 1.5 0 1 0 3 0a1.5 1.5 0 1 0 -3 0M545.49 226.08a1.5 1.5 0 1 0 3 0a1.5 1.5 0 1 0 -3 0M546.25 225.24a1.5 1.5 0 1 0 3 0a1.5 1.5 0 1 0 -3 0M547 224.57a1.5 1.5 0 1 0 3 0a1.5 1.5 0 1 0 -3 0M547.75 223.96a1.5 1.5 0 1 0 3 0a1.5 1.5 0 1 0 -3 0M548.51 223.39a1.5 1.5 0 1 0 3 0a1.5 1.5 0 1 0 -3 0M549.26 222.86a1.5 1.5 0 1 0 3 0a1.5 1.5 0 1 0 -3 0M550.01 222.38a1.5 1.5 0 1 0 3 0a1.5 1.5 0 1 0 -3 0M550.77 221.94a1.5 1.5 0 1 0 3 0a1.5 1.5 0 1 0 -3 0M551.52 221.54a1.5 1.5 0 1 0 3 0a1.5 1.5 0 1 0 -3 0M552.28 221.18a1.5 1.5 0 1 0 3 0a1.5 1.5 0 1 0 -3 0M553.03 220.85a1.5 1.5 0 1 0 3 0a1.5 1.5 0 1 0 -3 0M553.78 220.55a1.5 1.5 0 1 0 3 0a1.5 1.5 0 1 0 -3 0M554.54 220.29a1.5 1.5 0 1 0 3 0a1.5 1.5 0 1 0 -3 0M555.29 220.06a1.5 1.5 0 1 0 3 0a1.5 1.5 0 1 0 -3 0M556.04 219.86a1.5 1.5 0 1 0 3 0a1.5 1.5 0 1 0 -3 0M556.8 219.68a1.5 1.5 0 1 0 3 0a1.5 1.5 0 1 0 -3 0M557.55 219.51a1.5 1.5 0 1 0 3 0a1.5 1.5 0 1 0 -3 0M558.31 219.35a1.5 1.5 0 1 0 3 0a1.5 1.5 0 1 0 -3 0M559.06 219.19a1.5 1.5 0 1 0 3 0a1.5 1.5 0 1 0 -3 0M559.81 219.04a1.5 1.5 0 1 0 3 0a1.5 1.5 0 1 0 -3 0M560.57 218.89a1.5 1.5 0 1 0 3 0a1.5 1.5 0 1 0 -3 0M561.32 218.76a1.5 1.5 0 1 0 3 0a1.5 1.5 0 1 0 -3 0M562.07 218.63a1.5 1.5 0 1 0 3 0a1.5 1.5 0 1 0 -3 0M562.83 218.51a1.5 1.5 0 1 0 3 0a1.5 1.5 0 1 0 -3 0M563.58 218.4a1.5 1.5 0 1 0 3 0a1.5 1.5 0 1 0 -3 0M564.34 218.3a1.5 1.5 0 1 0 3 0a1.5 1.5 0 1 0 -3 0M565.09 218.21a1.5 1.5 0 1 0 3 0a1.5 1.5 0 1 0 -3 0M565.84 218.13a1.5 1.5 0 1 0 3 0a1.5 1.5 0 1 0 -3 0M566.6 218.07a1.5 1.5 0 1 0 3 0a1.5 1.5 0 1 0 -3 0M567.35 218.03a1.5 1.5 0 1 0 3 0a1.5 1.5 0 1 0 -3 0M568.1 217.99a1.5 1.5 0 1 0 3 0a1.5 1.5 0 1 0 -3 0M568.86 217.98a1.5 1.5 0 1 0 3 0a1.5 1.5 0 1 0 -3 0M569.61 217.98a1.5 1.5 0 1 0 3 0a1.5 1.5 0 1 0 -3 0M570.37 217.98a1.5 1.5 0 1 0 3 0a1.5 1.5 0 1 0 -3 0M571.12 217.98a1.5 1.5 0 1 0 3 0a1.5 1.5 0 1 0 -3 0M571.87 217.98a1.5 1.5 0 1 0 3 0a1.5 1.5 0 1 0 -3 0M572.63 217.98a1.5 1.5 0 1 0 3 0a1.5 1.5 0 1 0 -3 0M573.38 217.98a1.5 1.5 0 1 0 3 0a1.5 1.5 0 1 0 -3 0M574.13 217.98a1.5 1.5 0 1 0 3 0a1.5 1.5 0 1 0 -3 0M574.89 217.98a1.5 1.5 0 1 0 3 0a1.5 1.5 0 1 0 -3 0M575.64 217.98a1.5 1.5 0 1 0 3 0a1.5 1.5 0 1 0 -3 0M576.4 217.98a1.5 1.5 0 1 0 3 0a1.5 1.5 0 1 0 -3 0M577.15 217.98a1.5 1.5 0 1 0 3 0a1.5 1.5 0 1 0 -3 0M577.9 217.98a1.5 1.5 0 1 0 3 0a1.5 1.5 0 1 0 -3 0M578.66 217.98a1.5 1.5 0 1 0 3 0a1.5 1.5 0 1 0 -3 0M579.41 217.98a1.5 1.5 0 1 0 3 0a1.5 1.5 0 1 0 -3 0M580.16 217.98a1.5 1.5 0 1 0 3 0a1.5 1.5 0 1 0 -3 0M580.92 217.98a1.5 1.5 0 1 0 3 0a1.5 1.5 0 1 0 -3 0M581.67 217.98a1.5 1.5 0 1 0 3 0a1.5 1.5 0 1 0 -3 0M582.43 217.98a1.5 1.5 0 1 0 3 0a1.5 1.5 0 1 0 -3 0M583.18 217.98a1.5 1.5 0 1 0 3 0a1.5 1.5 0 1 0 -3 0M583.93 217.98a1.5 1.5 0 1 0 3 0a1.5 1.5 0 1 0 -3 0M584.69 217.98a1.5 1.5 0 1 0 3 0a1.5 1.5 0 1 0 -3 0M585.44 217.98a1.5 1.5 0 1 0 3 0a1.5 1.5 0 1 0 -3 0M586.19 217.98a1.5 1.5 0 1 0 3 0a1.5 1.5 0 1 0 -3 0M586.95 217.98a1.5 1.5 0 1 0 3 0a1.5 1.5 0 1 0 -3 0M587.7 217.98a1.5 1.5 0 1 0 3 0a1.5 1.5 0 1 0 -3 0M588.46 217.98a1.5 1.5 0 1 0 3 0a1.5 1.5 0 1 0 -3 0" fill="#008c00"/>
<path d="M459.19 334.5a1.5 1.5 0 1 0 3 0a1.5 1.5 0 1 0 -3 0M459.94 334.5a1.5 1.5 0 1 0 3 0a1.5 1.5 0 1 0 -3 0M460.69 334.5a1.5 1.5 0 1 0 3 0a1.5 1.5 0 1 0 -3 0M461.45 334.5a1.5 1.5 0 1 0 3 0a1.5 1.5 0 1 0 -3 0M462.2 334.5a1.5 1.5 0 1 0 3 0a1.5 1.5 0 1 0 -3 0M462.96 334.5a1.5 1.5 0 1 0 3 0a1.5 1.5 0 1 0 -3 0M463.71 334.5a1.5 1.5 0 1 0 3 0a1.5 1.5 0 1 0 -3 0M464.46 334.5a1.5 1.5 0 1 0 3 0a1.5 1.5 0 1 0 -3 0M465.22 334.5a1.5 1.5 0 1 0 3 0a1.5 1.5 0 1 0 -3 0M465.97 334.5a1.5 1.5 0 1 0 3 0a1.5 1.5 0 1 0 -3 0M466.73 334.5a1.5 1.5 0 1 0 3 0a1.5 1.5 0 1 0 -3 0M467.48 334.49a1.5 1.5 0 1 0 3 0a1.5 1.5 0 1 0 -3 0M468.23 334.49a1.5 1.5 0 1 0 3 0a1.5 1.5 0 1 0 -3 0M468.99 334.49a1.5 1.5 0 1 0 3 0a1.5 1.5 0 1 0 -3 0M469.74 334.49a1.5 1.5 0 1 0 3 0a1.5 1.5 0 1 0 -3 0M470.49 334.49a1.5 1.5 0 1 0 3 0a1.5 1.5 0 1 0 -3 0M471.25 334.48a1.5 1.5 0 1 0 3 0a1.5 1.5 0 1 0 -3 0M472 334.48a1.5 1.5 0 1 0 3 0a1.5 1.5 0 1 0 -3 0M472.75 334.47a1.5 1.5 0 1 0 3 0a1.5 1.5 0 1 0 -3 0M473.51 334.47a1.5 1.5 0 1 0 3 0a1.5 1.5 0 1 0 -3 0M474.26 334.47a1.5 1.5 0 1 0 3 0a1.5 1.5 0 1 0 -3 0M475.02 334.46a1.5 1.5 0 1 0 3 0a1.5 1.5 0 1 0 -3 0M475.77 334.46a1.5 1.5 0 1 0 3 0a1.5 1.5 0 1 0 -3 0M476.52 334.45a1.5 1.5 0 1 0 3 0a1.5 1.5 0 1 0 -3 0M477.28 334.45a1.5 1.5 0 1 0 3 0a1.5 1.5 0 1 0 -3 0M478.03 334.44a1.5 1.5 0 1 0 3 0a1.5 1.5 0 1 0 -3 0M478.78 334.43a1.5 1.5 0 1 0 3 0a1.5 1.5 0 1 0 -3 0M479.54 334.43a1.5 1.5 0 1 0 3 0a1.5 1.5 0 1 0 -3 0M480.29 334.42a1.5 1.5 0 1 0 3 0a1.5 1.5 0 1 0 -3 0M481.05 334.41a1.5 1.5 0 1 0 3 0a1.5 1.5 0 1 0 -3 0M481.8 334.4a1.5 1.5 0 1 0 3 0a1.5 1.5 0 1 0 -3 0M482.55 334.39a1.5 1.5 0 1 0 3 0a1.5 1.5 0 1 0 -3 0M483.31 334.39a1.5 1.5 0 1 0 3 0a1.5 1.5 0 1 0 -3 0M484.06 334.38a1.5 1.5 0 1 0 3 0a1.5 1.5 0 1 0 -3 0M484.81 334.37a1.5 1.5 0 1 0 3 0a1.5 1.5 0 1 0 -3 0M485.57 334.36a1.5 1.5 0 1 0 3 0a1.5 1.5 0 1 0 -3 0M486.32 334.35a1.5 1.5 0 1 0 3 0a1.5 1.5 0 1 0 -3 0M487.08 334.34a1.5 1.5 0 1 0 3 0a1.5 1.5 0 1 0 -3 0M487.83 334.32a1.5 1.5 0 1 0 3 0a1.5 1.5 0 1 0 -3 0M488.58 334.31a1.5 1.5 0 1 0 3 0a1.5 1.5 0 1 0 -3 0M489.34 334.3a1.5 1.5 0 1 0 3 0a1.5 1.5 0 1 0 -3 0M490.09 334.29a1.5 1.5 0 1 0 3 0a1.5 1.5 0 1 0 -3 0M490.84 334.27a1.5 1.5 0 1 0 3 0a1.5 1.5 0 1 0 -3 0M491.6 334.26a1.5 1.5 0 1 0 3 0a1.5 1.5 0 1 0 -3 0M492.35 334.25a1.5 1.5 0 1 0 3 0a1.5 1.5 0 1 0 -3 0M493.11 334.23a1.5 1.5 0 1 0 3 0a1.5 1.5 0 1 0 -3 0M493.86 334.22a1.5 1.5 0 1 0 3 0a1.5 1.5 0 1 0 -3 0M494.61 334.2a1.5 1.5 0 1 0 3 0a1.5 1.5 0 1 0 -3 0M495.37 334.19a1.5 1.5 0 1 0 3 0a1.5 1.5 0 1 0 -3 0M496.12 334.17a1.5 1.5 0 1 0 3 0a1.5 1.5 0 1 0 -3 0M496.88 334.15a1.5 1.5 0 1 0 3 0a1.5 1.5 0 1 0 -3 0M497.63 334.13a1.5 1.5 0 1 0 3 0a1.5 1.5 0 1 0 -3 0M498.38 334.12a1.5 1.5 0 1 0 3 0a1.5 1.5 0 1 0 -3 0M499.14 334.1a1.5 1.5 0 1 0 3 0a1.5 1.5 0 1 0 -3 0M499.89 334.08a1.5 1.5 0 1 0 3 0a1.5 1.5 0 1 0 -3 0M500.64 334.06a1.5 1.5 0 1 0 3 0a1.5 1.5 0 1 0 -3 0M501.4 334.04a1.5 1.5 0 1 0 3 0a1.5 1.5 0 1 0 -3 0M502.15 334.02a1.5 1.5 0 1 0 3 0a1.5 1.5 0 1 0 -3 0M502.9 334a1.5 1.5 0 1 0 3 0a1.5 1.5 0 1 0 -3 0M503.66 333.98a1.5 1.5 0 1 0 3 0a1.5 1.5 0 1 0 -3 0M504.41 333.95a1.5 1.5 0 1 0 3 0a1.5 1.5 0 1 0 -3 0M505.17 333.93a1.5 1.5 0 1 0 3 0a1.5 1.5 0 1 0 -3 0M505.92 333.9a1.5 1.5 0 1 0 3 0a1.5 1.5 0 1 0 -3 0M506.67 333.86a1.5 1.5 0 1 0 3 0a1.5 1.5 0 1 0 -3 0M507.43 333.78a1.5 1.5 0 1 0 3 0a1.5 1.5 0 1 0 -3 0M508.18 333.68a1.5 1.5 0 1 0 3 0a1.5 1.5 0 1 0 -3 0M508.93 333.56a1.5 1.5 0 1 0 3 0a1.5 1.5 0 1 0 -3 0M509.69 333.41a1.5 1.5 0 1 0 3 0a1.5 1.5 0 1 0 -3 0M510.44 333.23a1.5 1.5 0 1 0 3 0a1.5 1.5 0 1 0 -3 0M511.2 333.03a1.5 1.5 0 1 0 3 0a1.5 1.5 0 1 0 -3 0M511.95 332.79a1.5 1.5 0 1 0 3 0a1.5 1.5 0 1 0 -3 0M512.7 332.54a1.5 1.5 0 1 0 3 0a1.5 1.5 0 1 0 -3 0M513.46 332.25a1.5 1.5 0 1 0 3 0a1.5 1.5 0 1 0 -3 0M514.21 331.94a1.5 1.5 0 1 0 3 0a1.5 1.5 0 1 0 -3 0M514.96 331.59a1.5 1.5 0 1 0 3 0a1.5 1.5 0 1 0 -3 0M515.72 331.22a1.5 1.5 0 1 0 3 0a1.5 1.5 0 1 0 -3 0M516.47 330.83a1.5 1.5 0 1 0 3 0a1.5 1.5 0 1 0 -3 0M517.23 330.4a1.5 1.5 0 1 0 3 0a1.5 1.5 0 1 0 -3 0M517.98 329.94a1.5 1.5 0 1 0 3 0a1.5 1.5 0 1 0 -3 0M518.73 329.37a1.5 1.5 0 1 0 3 0a1.5 1.5 0 1 0 -3 0M519.49 328.46a1.5 1.5 0 1 0 3 0a1.5 1.5 0 1 0 -3 0M520.24 327.19a1.5 1.5 0 1 0 3 0a1.5 1.5 0 1 0 -3 0M520.62 326.42a1.5 1.5 0 1 0 3 0a1.5 1.5 0 1 0 -3 0M521 325.56a1.5 1.5 0 1 0 3 0a1.5 1.5 0 1 0 -3 0M521.37 324.59a1.5 1.5 0 1 0 3 0a1.5 1.5 0 1 0 -3 0M521.75 323.53a1.5 1.5 0 1 0 3 0a1.5 1.5 0 1 0 -3 0M522.13 322.37a1.5 1.5 0 1 0 3 0a1.5 1.5 0 1 0 -3 0M522.5 321.02a1.5 1.5 0 1 0 3 0a1.5 1.5 0 1 0 -3 0M522.88 318.91a1.5 1.5 0 1 0 3 0a1.5 1.5 0 1 0 -3 0M523.26 316.06a1.5 1.5 0 1 0 3 0a1.5 1.5 0 1 0 -3 0M523.63 312.62a1.5 1.5 0 1 0 3 0a1.5 1.5 0 1 0 -3 0M524.01 308.77a1.5 1.5 0 1 0 3 0a1.5 1.5 0 1 0 -3 0M524.39 304.67a1.5 1.5 0 1 0 3 0a1.5 1.5 0 1 0 -3 0M524.76 300.47a1.5 1.5 0 1 0 3 0a1.5 1.5 0 1 0 -3 0M525.14 295.97a1.5 1.5 0 1 0 3 0a1.5 1.5 0 1 0 -3 0M525.52 290.56a1.5 1.5 0 1 0 3 0a1.5 1.5 0 1 0 -3 0M525.89 284.57a1.5 1.5 0 1 0 3 0a1.5 1.5 0 1 0 -3 0M526.27 278.35a1.5 1.5 0 1 0 3 0a1.5 1.5 0 1 0 -3 0M526.65 272.24a1.5 1.5 0 1 0 3 0a1.5 1.5 0 1 0 -3 0M527.02 266.6a1.5 1.5 0 1 0 3 0a1.5 1.5 0 1 0 -3 0M527.4 261.76a1.5 1.5 0 1 0 3 0a1.5 1.5 0 1 0 -3 0M527.78 257.25a1.5 1.5 0 1 0 3 0a1.5 1.5 0 1 0 -3 0M528.16 252.75a1.5 1.5 0 1 0 3 0a1.5 1.5 0 1 0 -3 0M528.53 248.46a1.5 1.5 0 1 0 3 0a1.5 1.5 0 1 0 -3 0M528.91 244.57a1.5 1.5 0 1 0 3 0a1.5 1.5 0 1 0 -3 0M529.29 241.27a1.5 1.5 0 1 0 3 0a1.5 1.5 0 1 0 -3 0M529.66 238.77a1.5 1.5 0 1 0 3 0a1.5 1.5 0 1 0 -3 0M530.04 237.14a1.5 1.5 0 1 0 3 0a1.5 1.5 0 1 0 -3 0M530.42 235.77a1.5 1.5 0 1 0 3 0a1.5 1.5 0 1 0 -3 0M530.79 234.48a1.5 1.5 0 1 0 3 0a1.5 1.5 0 1 0 -3 0M531.17 233.29a1.5 1.5 0 1 0 3 0a1.5 1.5 0 1 0 -3 0M531.55 232.19a1.5 1.5 0 1 0 3 0a1.5 1.5 0 1 0 -3 0M531.92 231.17a1.5 1.5 0 1 0 3 0a1.5 1.5 0 1 0 -3 0M532.3 230.23a1.5 1.5 0 1 0 3 0a1.5 1.5 0 1 0 -3 0M532.68 229.38a1.5 1.5 0 1 0 3 0a1.5 1.5 0 1 0 -3 0M533.05 228.6a1.5 1.5 0 1 0 3 0a1.5 1.5 0 1 0 -3 0M533.43 227.89a1.5 1.5 0 1 0 3 0a1.5 1.5 0 1 0 -3 0M533.81 227.25a1.5 1.5 0 1 0 3 0a1.5 1.5 0 1 0 -3 0M534.56 226.17a1.5 1.5 0 1 0 3 0a1.5 1.5 0 1 0 -3 0M535.32 225.34a1.5 1.5 0 1 0 3 0a1.5 1.5 0 1 0 -3 0M536.07 224.71a1.5 1.5 0 1 0 3 0a1.5 1.5 0 1 0 -3 0M536.82 224.14a1.5 1.5 0 1 0 3 0a1.5 1.5 0 1 0 -3 0M537.58 223.62a1.5 1.5 0 1 0 3 0a1.5 1.5 0 1 0 -3 0M538.33 223.13a1.5 1.5 0 1 0 3 0a1.5 1.5 0 1 0 -3 0M539.08 222.68a1.5 1.5 0 1 0 3 0a1.5 1.5 0 1 0 -3 0M539.84 222.27a1.5 1.5 0 1 0 3 0a1.5 1.5 0 1 0 -3 0M540.59 221.89a1.5 1.5 0 1 0 3 0a1.5 1.5 0 1 0 -3 0M541.35 221.54a1.5 1.5 0 1 0 3 0a1.5 1.5 0 1 0 -3 0M542.1 221.22a1.5 1.5 0 1 0 3 0a1.5 1.5 0 1 0 -3 0M542.85 220.94a1.5 1.5 0 1 0 3 0a1.5 1.5 0 1 0 -3 0M543.61 220.68a1.5 1.5 0 1 0 3 0a1.5 1.5 0 1 0 -3 0M544.36 220.44a1.5 1.5 0 1 0 3 0a1.5 1.5 0 1 0 -3 0M545.11 220.23a1.5 1.5 0 1 0 3 0a1.5 1.5 0 1 0 -3 0M545.87 220.05a1.5 1.5 0 1 0 3 0a1.5 1.5 0 1 0 -3 0M546.62 219.88a1.5 1.5 0 1 0 3 0a1.5 1.5 0 1 0 -3 0M547.38 219.74a1.5 1.5 0 1 0 3 0a1.5 1.5 0 1 0 -3 0M548.13 219.61a1.5 1.5 0 1 0 3 0a1.5 1.5 0 1 0 -3 0M548.88 219.48a1.5 1.5 0 1 0 3 0a1.5 1.5 0 1 0 -3 0M549.64 219.36a1.5 1.5 0 1 0 3 0a1.5 1.5 0 1 0 -3 0M550.39 219.23a1.5 1.5 0 1 0 3 0a1.5 1.5 0 1 0 -3 0M551.14 219.12a1.5 1.5 0 1 0 3 0a1.5 1.5 0 1 0 -3 0M551.9 219a1.5 1.5 0 1 0 3 0a1.5 1.5 0 1 0 -3 0M552.65 218.89a1.5 1.5 0 1 0 3 0a1.5 1.5 0 1 0 -3 0M553.41 218.79a1.5 1.5 0 1 0 3 0a1.5 1.5 0 1 0 -3 0M554.16 218.69a1.5 1.5 0 1 0 3 0a1.5 1.5 0 1 0 -3 0M554.91 218.59a1.5 1.5 0 1 0 3 0a1.5 1.5 0 1 0 -3 0M555.67 218.5a1.5 1.5 0 1 0 3 0a1.5 1.5 0 1 0 -3 0M556.42 218.42a1.5 1.5 0 1 0 3 0a1.5 1.5 0 1 0 -3 0M557.17 218.34a1.5 1.5 0 1 0 3 0a1.5 1.5 0 1 0 -3 0M557.93 218.27a1.5 1.5 0 1 0 3 0a1.5 1.5 0 1 0 -3 0M558.68 218.21a1.5 1.5 0 1 0 3 0a1.5 1.5 0 1 0 -3 0M559.44 218.15a1.5 1.5 0 1 0 3 0a1.5 1.5 0 1 0 -3 0M560.19 218.1a1.5 1.5 0 1 0 3 0a1.5 1.5 0 1 0 -3 0M560.94 218.06a1.5 1.5 0 1 0 3 0a1.5 1.5 0 1 0 -3 0M561.7 218.03a1.5 1.5 0 1 0 3 0a1.5 1.5 0 1 0 -3 0M562.45 218a1.5 1.5 0 1 0 3 0a1.5 1.5 0 1 0 -3 0M563.2 217.99a1.5 1.5 0 1 0 3 0a1.5 1.5 0 1 0 -3 0M563.96 217.98a1.5 1.5 0 1 0 3 0a1.5 1.5 0 1 0 -3 0M564.71 217.98a1.5 1.5 0 1 0 3 0a1.5 1.5 0 1 0 -3 0M565.47 217.98a1.5 1.5 0 1 0 3 0a1.5 1.5 0 1 0 -3 0M566.22 217.98a1.5 1.5 0 1 0 3 0a1.5 1.5 0 1 0 -3 0M566.97 217.98a1.5 1.5 0 1 0 3 0a1.5 1.5 0 1 0 -3 0M567.73 217.98a1.5 1.5 0 1 0 3 0a1.5 1.5 0 1 0 -3 0M568.48 217.98a1.5 1.5 0 1 0 3 0a1.5 1.5 0 1 0 -3 0M569.23 217.98a1.5 1.5 0 1 0 3 0a1.5 1.5 0 1 0 -3 0M569.99 217.98a1.5 1.5 0 1 0 3 0a1.5 1.5 0 1 0 -3 0M570.74 217.98a1.5 1.5 0 1 0 3 0a1.5 1.5 0 1 0 -3 0M571.5 217.98a1.5 1.5 0 1 0 3 0a1.5 1.5 0 1 0 -3 0M572.25 217.98a1.5 1.5 0 1 0 3 0a1.5 1.5 0 1 0 -3 0M573 217.98a1.5 1.5 0 1 0 3 0a1.5 1.5 0 1 0 -3 0M573.76 217.98a1.5 1.5 0 1 0 3 0a1.5 1.5 0 1 0 -3 0M574.51 217.98a1.5 1.5 0 1 0 3 0a1.5 1.5 0 1 0 -3 0M575.26 217.98a1.5 1.5 0 1 0 3 0a1.5 1.5 0 1 0 -3 0M576.02 217.98a1.5 1.5 0 1 0 3 0a1.5 1.5 0 1 0 -3 0M576.77 217.98a1.5 1.5 0 1 0 3 0a1.5 1.5 0 1 0 -3 0M577.53 217.98a1.5 1.5 0 1 0 3 0a1.5 1.5 0 1 0 -3 0M578.28 217.98a1.5 1.5 0 1 0 3 0a1.5 1.5 0 1 0 -3 0M579.03 217.98a1.5 1.5 0 1 0 3 0a1.5 1.5 0 1 0 -3 0M579.79 217.98a1.5 1.5 0 1 0 3 0a1.5 1.5 0 1 0 -3 0M580.54 217.98a1.5 1.5 0 1 0 3 0a1.5 1.5 0 1 0 -3 0M581.29 217.98a1.5 1.5 0 1 0 3 0a1.5 1.5 0 1 0 -3 0M582.05 217.98a1.5 1.5 0 1 0 3 0a1.5 1.5 0 1 0 -3 0M582.8 217.98a1.5 1.5 0 1 0 3 0a1.5 1.5 0 1 0 -3 0M583.56 217.98a1.5 1.5 0 1 0 3 0a1.5 1.5 0 1 0 -3 0M584.31 217.98a1.5 1.5 0 1 0 3 0a1.5 1.5 0 1 0 -3 0M585.06 217.98a1.5 1.5 0 1 0 3 0a1.5 1.5 0 1 0 -3 0M585.82 217.98a1.5 1.5 0 1 0 3 0a1.5 1.5 0 1 0 -3 0M586.57 217.98a1.5 1.5 0 1 0 3 0a1.5 1.5 0 1 0 -3 0M587.32 217.98a1.5 1.5 0 1 0 3 0a1.5 1.5 0 1 0 -3 0M588.08 217.98a1.5 1.5 0 1 0 3 0a1.5 1.5 0 1 0 -3 0M588.83 217.98a1.5 1.5 0 1 0 3 0a1.5 1.5 0 1 0 -3 0" fill="#ffaa00"/>
<path d="M459.19 334.5a1.5 1.5 0 1 0 3 0a1.5 1.5 0 1 0 -3 0M459.94 334.5a1.5 1.5 0 1 0 3 0a1.5 1.5 0 1 0 -3 0M460.69 334.5a1.5 1.5 0 1 0 3 0a1.5 1.5 0 1 0 -3 0M461.45 334.5a1.5 1.5 0 1 0 3 0a1.5 1.5 0 1 0 -3 0M462.2 334.5a1.5 1.5 0 1 0 3 0a1.5 1.5 0 1 0 -3 0M462.96 334.49a1.5 1.5 0 1 0 3 0a1.5 1.5 0 1 0 -3 0M463.71 334.49a1.5 1.5 0 1 0 3 0a1.5 1.5 0 1 0 -3 0M464.46 334.49a1.5 1.5 0 1 0 3 0a1.5 1.5 0 1 0 -3 0M465.22 334.48a1.5 1.5 0 1 0 3 0a1.5 1.5 0 1 0 -3 0M465.97 334.48a1.5 1.5 0 1 0 3 0a1.5 1.5 0 1 0 -3 0M466.73 334.48a1.5 1.5 0 1 0 3 0a1.5 1.5 0 1 0 -3 0M467.48 334.47a1.5 1.5 0 1 0 3 0a1.5 1.5 0 1 0 -3 0M468.23 334.46a1.5 1.5 0 1 0 3 0a1.5 1.5 0 1 0 -3 0M468.99 334.46a1.5 1.5 0 1 0 3 0a1.5 1.5 0 1 0 -3 0M469.74 334.45a1.5 1.5 0 1 0 3 0a1.5 1.5 0 1 0 -3 0M470.49 334.44a1.5 1.5 0 1 0 3 0a1.5 1.5 0 1 0 -3 0M471.25 334.43a1.5 1.5 0 1 0 3 0a1.5 1.5 0 1 0 -3 0M472 334.43a1.5 1.5 0 1 0 3 0a1.5 1.5 0 1 0 -3 0M472.75 334.42a1.5 1.5 0 1 0 3 0a1.5 1.5 0 1 0 -3 0M473.51 334.41a1.5 1.5 0 1 0 3 0a1.5 1.5 0 1 0 -3 0M474.26 334.4a1.5 1.5 0 1 0 3 0a1.5 1.5 0 1 0 -3 0M475.02 334.38a1.5 1.5 0 1 0 3 0a1.5 1.5 0 1 0 -3 0M475.77 334.37a1.5 1.5 0 1 0 3 0a1.5 1.5 0 1 0 -3 0M476.52 334.36a1.5 1.5 0 1 0 3 0a1.5 1.5 0 1 0 -3 0M477.28 334.35a1.5 1.5 0 1 0 3 0a1.5 1.5 0 1 0 -3 0M478.03 334.33a1.5 1.5 0 1 0 3 0a1.5 1.5 0 1 0 -3 0M478.78 334.32a1.5 1.5 0 1 0 3 0a1.5 1.5 0 1 0 -3 0M479.54 334.3a1.5 1.5 0 1 0 3 0a1.5 1.5 0 1 0 -3 0M480.29 334.29a1.5 1.5 0 1 0 3 0a1.5 1.5 0 1 0 -3 0M481.05 334.27a1.5 1.5 0 1 0 3 0a1.5 1.5 0 1 0 -3 0M481.8 334.26a1.5 1.5 0 1 0 3 0a1.5 1.5 0 1 0 -3 0M482.55 334.24a1.5 1.5 0 1 0 3 0a1.5 1.5 0 1 0 -3 0M483.31 334.22a1.5 1.5 0 1 0 3 0a1.5 1.5 0 1 0 -3 0M484.06 334.2a1.5 1.5 0 1 0 3 0a1.5 1.5 0 1 0 -3 0M484.81 334.18a1.5 1.5 0 1 0 3 0a1.5 1.5 0 1 0 -3 0M485.57 334.16a1.5 1.5 0 1 0 3 0a1.5 1.5 0 1 0 -3 0M486.32 334.14a1.5 1.5 0 1 0 3 0a1.5 1.5 0 1 0 -3 0M487.08 334.12a1.5 1.5 0 1 0 3 0a1.5 1.5 0 1 0 -3 0M487.83 334.09a1.5 1.5 0 1 0 3 0a1.5 1.5 0 1 0 -3 0M488.58 334.07a1.5 1.5 0 1 0 3 0a1.5 1.5 0 1 0 -3 0M489.34 334.05a1.5 1.5 0 1 0 3 0a1.5 1.5 0 1 0 -3 0M490.09 334.02a1.5 1.5 0 1 0 3 0a1.5 1.5 0 1 0 -3 0M490.84 334a1.5 1.5 0 1 0 3 0a1.5 1.5 0 1 0 -3 0M491.6 333.97a1.5 1.5 0 1 0 3 0a1.5 1.5 0 1 0 -3 0M492.35 333.94a1.5 1.5 0 1 0 3 0a1.5 1.5 0 1 0 -3 0M493.11 333.91a1.5 1.5 0 1 0 3 0a1.5 1.5 0 1 0 -3 0M493.86 333.87a1.5 1.5 0 1 0 3 0a1.5 1.5 0 1 0 -3 0M494.61 333.8a1.5 1.5 0 1 0 3 0a1.5 1.5 0 1 0 -3 0M495.37 333.7a1.5 1.5 0 1 0 3 0a1.5 1.5 0 1 0 -3 0M496.12 333.58a1.5 1.5 0 1 0 3 0a1.5 1.5 0 1 0 -3 0M496.88 333.44a1.5 1.5 0 1 0 3 0a1.5 1.5 0 1 0 -3 0M497.63 333.28a1.5 1.5 0 1 0 3 0a1.5 1.5 0 1 0 -3 0M498.38 333.1a1.5 1.5 0 1 0 3 0a1.5 1.5 0 1 0 -3 0M499.14 332.9a1.5 1.5 0 1 0 3 0a1.5 1.5 0 1 0 -3 0M499.89 332.68a1.5 1.5 0 1 0 3 0a1.5 1.5 0 1 0 -3 0M500.64 332.45a1.5 1.5 0 1 0 3 0a1.5 1.5 0 1 0 -3 0M501.4 332.21a1.5 1.5 0 1 0 3 0a1.5 1.5 0 1 0 -3 0M502.15 331.95a1.5 1.5 0 1 0 3 0a1.5 1.5 0 1 0 -3 0M502.9 331.69a1.5 1.5 0 1 0 3 0a1.5 1.5 0 1 0 -3 0M503.66 331.41a1.5 1.5 0 1 0 3 0a1.5 1.5 0 1 0 -3 0M504.41 331.13a1.5 1.5 0 1 0 3 0a1.5 1.5 0 1 0 -3 0M505.17 330.84a1.5 1.5 0 1 0 3 0a1.5 1.5 0 1 0 -3 0M505.92 330.52a1.5 1.5 0 1 0 3 0a1.5 1.5 0 1 0 -3 0M506.67 330.17a1.5 1.5 0 1 0 3 0a1.5 1.5 0 1 0 -3 0M507.43 329.76a1.5 1.5 0 1 0 3 0a1.5 1.5 0 1 0 -3 0M508.18 329.3a1.5 1.5 0 1 0 3 0a1.5 1.5 0 1 0 -3 0M508.93 328.76a1.5 1.5 0 1 0 3 0a1.5 1.5 0 1 0 -3 0M509.69 328.15a1.5 1.5 0 1 0 3 0a1.5 1.5 0 1 0 -3 0M510.44 327.44a1.5 1.5 0 1 0 3 0a1.5 1.5 0 1 0 -3 0M511.2 326.64a1.5 1.5 0 1 0 3 0a1.5 1.5 0 1 0 -3 0M511.95 325.6a1.5 1.5 0 1 0 3 0a1.5 1.5 0 1 0 -3 0M512.33 324.87a1.5 1.5 0 1 0 3 0a1.5 1.5 0 1 0 -3 0M512.7 324a1.5 1.5 0 1 0 3 0a1.5 1.5 0 1 0 -3 0M513.08 323a1.5 1.5 0 1 0 3 0a1.5 1.5 0 1 0 -3 0M513.46 321.88a1.5 1.5 0 1 0 3 0a1.5 1.5 0 1 0 -3 0M513.83 320.64a1.5 1.5 0 1 0 3 0a1.5 1.5 0 1 0 -3 0M514.21 319.3a1.5 1.5 0 1 0 3 0a1.5 1.5 0 1 0 -3 0M514.59 317.86a1.5 1.5 0 1 0 3 0a1.5 1.5 0 1 0 -3 0M514.96 316.31a1.5 1.5 0 1 0 3 0a1.5 1.5 0 1 0 -3 0M515.34 314.44a1.5 1.5 0 1 0 3 0a1.5 1.5 0 1 0 -3 0M515.72 312.22a1.5 1.5 0 1 0 3 0a1.5 1.5 0 1 0 -3 0M516.1 309.69a1.5 1.5 0 1 0 3 0a1.5 1.5 0 1 0 -3 0M516.47 306.85a1.5 1.5 0 1 0 3 0a1.5 1.5 0 1 0 -3 0M516.85 303.72a1.5 1.5 0 1 0 3 0a1.5 1.5 0 1 0 -3 0M517.23 300.33a1.5 1.5 0 1 0 3 0a1.5 1.5 0 1 0 -3 0M517.6 296.28a1.5 1.5 0 1 0 3 0a1.5 1.5 0 1 0 -3 0M517.98 290.94a1.5 1.5 0 1 0 3 0a1.5 1.5 0 1 0 -3 0M518.36 284.76a1.5 1.5 0 1 0 3 0a1.5 1.5 0 1 0 -3 0M518.73 278.26a1.5 1.5 0 1 0 3 0a1.5 1.5 0 1 0 -3 0M519.11 271.94a1.5 1.5 0 1 0 3 0a1.5 1.5 0 1 0 -3 0M519.49 266.29a1.5 1.5 0 1 0 3 0a1.5 1.5 0 1 0 -3 0M519.86 261.83a1.5 1.5 0 1 0 3 0a1.5 1.5 0 1 0 -3 0M520.24 258.13a1.5 1.5 0 1 0 3 0a1.5 1.5 0 1 0 -3 0M520.62 254.73a1.5 1.5 0 1 0 3 0a1.5 1.5 0 1 0 -3 0M521 251.61a1.5 1.5 0 1 0 3 0a1.5 1.5 0 1 0 -3 0M521.37 248.74a1.5 1.5 0 1 0 3 0a1.5 1.5 0 1 0 -3 0M521.75 246.11a1.5 1.5 0 1 0 3 0a1.5 1.5 0 1 0 -3 0M522.13 243.7a1.5 1.5 0 1 0 3 0a1.5 1.5 0 1 0 -3 0M522.5 241.47a1.5 1.5 0 1 0 3 0a1.5 1.5 0 1 0 -3 0M522.88 239.26a1.5 1.5 0 1 0 3 0a1.5 1.5 0 1 0 -3 0M523.26 237.07a1.5 1.5 0 1 0 3 0a1.5 1.5 0 1 0 -3 0M523.63 234.97a1.5 1.5 0 1 0 3 0a1.5 1.5 0 1 0 -3 0M524.01 233.01a1.5 1.5 0 1 0 3 0a1.5 1.5 0 1 0 -3 0M524.39 231.24a1.5 1.5 0 1 0 3 0a1.5 1.5 0 1 0 -3 0M524.76 229.7a1.5 1.5 0 1 0 3 0a1.5 1.5 0 1 0 -3 0M525.14 228.46a1.5 1.5 0 1 0 3 0a1.5 1.5 0 1 0 -3 0M525.52 227.57a1.5 1.5 0 1 0 3 0a1.5 1.5 0 1 0 -3 0M526.27 226.52a1.5 1.5 0 1 0 3 0a1.5 1.5 0 1 0 -3 0M527.02 225.61a1.5 1.5 0 1 0 3 0a1.5 1.5 0 1 0 -3 0M527.78 224.8a1.5 1.5 0 1 0 3 0a1.5 1.5 0 1 0 -3 0M528.53 224.06a1.5 1.5 0 1 0 3 0a1.5 1.5 0 1 0 -3 0M529.29 223.41a1.5 1.5 0 1 0 3 0a1.5 1.5 0 1 0 -3 0M530.04 222.83a1.5 1.5 0 1 0 3 0a1.5 1.5 0 1 0 -3 0M530.79 222.32a1.5 1.5 0 1 0 3 0a1.5 1.5 0 1 0 -3 0M531.55 221.88a1.5 1.5 0 1 0 3 0a1.5 1.5 0 1 0 -3 0M532.3 221.49a1.5 1.5 0 1 0 3 0a1.5 1.5 0 1 0 -3 0M533.05 221.16a1.5 1.5 0 1 0 3 0a1.5 1.5 0 1 0 -3 0M533.81 220.87a1.5 1.5 0 1 0 3 0a1.5 1.5 0 1 0 -3 0M534.56 220.62a1.5 1.5 0 1 0 3 0a1.5 1.5 0 1 0 -3 0M535.32 220.41a1.5 1.5 0 1 0 3 0a1.5 1.5 0 1 0 -3 0M536.07 220.23a1.5 1.5 0 1 0 3 0a1.5 1.5 0 1 0 -3 0M536.82 220.06a1.5 1.5 0 1 0 3 0a1.5 1.5 0 1 0 -3 0M537.58 219.89a1.5 1.5 0 1 0 3 0a1.5 1.5 0 1 0 -3 0M538.33 219.72a1.5 1.5 0 1 0 3 0a1.5 1.5 0 1 0 -3 0M539.08 219.57a1.5 1.5 0 1 0 3 0a1.5 1.5 0 1 0 -3 0M539.84 219.41a1.5 1.5 0 1 0 3 0a1.5 1.5 0 1 0 -3 0M540.59 219.27a1.5 1.5 0 1 0 3 0a1.5 1.5 0 1 0 -3 0M541.35 219.13a1.5 1.5 0 1 0 3 0a1.5 1.5 0 1 0 -3 0M542.1 219a1.5 1.5 0 1 0 3 0a1.5 1.5 0 1 0 -3 0M542.85 218.87a1.5 1.5 0 1 0 3 0a1.5 1.5 0 1 0 -3 0M543.61 218.76a1.5 1.5 0 1 0 3 0a1.5 1.5 0 1 0 -3 0M544.36 218.65a1.5 1.5 0 1 0 3 0a1.5 1.5 0 1 0 -3 0M545.11 218.54a1.5 1.5 0 1 0 3 0a1.5 1.5 0 1 0 -3 0M545.87 218.45a1.5 1.5 0 1 0 3 0a1.5 1.5 0 1 0 -3 0M546.62 218.36a1.5 1.5 0 1 0 3 0a1.5 1.5 0 1 0 -3 0M547.38 218.28a1.5 1.5 0 1 0 3 0a1.5 1.5 0 1 0 -3 0M548.13 218.21a1.5 1.5 0 1 0 3 0a1.5 1.5 0 1 0 -3 0M548.88 218.15a1.5 1.5 0 1 0 3 0a1.5 1.5 0 1 0 -3 0M549.64 218.1a1.5 1.5 0 1 0 3 0a1.5 1.5 0 1 0 -3 0M550.39 218.05a1.5 1.5 0 1 0 3 0a1.5 1.5 0 1 0 -3 0M551.14 218.02a1.5 1.5 0 1 0 3 0a1.5 1.5 0 1 0 -3 0M551.9 218a1.5 1.5 0 1 0 3 0a1.5 1.5 0 1 0 -3 0M552.65 217.98a1.5 1.5 0 1 0 3 0a1.5 1.5 0 1 0 -3 0M553.41 217.98a1.5 1.5 0 1 0 3 0a1.5 1.5 0 1 0 -3 0M554.16 217.98a1.5 1.5 0 1 0 3 0a1.5 1.5 0 1 0 -3 0M554.91 217.98a1.5 1.5 0 1 0 3 0a1.5 1.5 0 1 0 -3 0M555.67 217.98a1.5 1.5 0 1 0 3 0a1.5 1.5 0 1 0 -3 0M556.42 217.98a1.5 1.5 0 1 0 3 0a1.5 1.5 0 1 0 -3 0M557.17 217.98a1.5 1.5 0 1 0 3 0a1.5 1.5 0 1 0 -3 0M557.93 217.98a1.5 1.5 0 1 0 3 0a1.5 1.5 0 1 0 -3 0M558.68 217.98a1.5 1.5 0 1 0 3 0a1.5 1.5 0 1 0 -3 0M559.44 217.98a1.5 1.5 0 1 0 3 0a1.5 1.5 0 1 0 -3 0M560.19 217.98a1.5 1.5 0 1 0 3 0a1.5 1.5 0 1 0 -3 0M560.94 217.98a1.5 1.5 0 1 0 3 0a1.5 1.5 0 1 0 -3 0M561.7 217.98a1.5 1.5 0 1 0 3 0a1.5 1.5 0 1 0 -3 0M562.45 217.98a1.5 1.5 0 1 0 3 0a1.5 1.5 0 1 0 -3 0M563.2 217.98a1.5 1.5 0 1 0 3 0a1.5 1.5 0 1 0 -3 0M563.96 217.98a1.5 1.5 0 1 0 3 0a1.5 1.5 0 1 0 -3 0M564.71 217.98a1.5 1.5 0 1 0 3 0a1.5 1.5 0 1 0 -3 0M565.47 217.98a1.5 1.5 0 1 0 3 0a1.5 1.5 0 1 0 -3 0M566.22 217.98a1.5 1.5 0 1 0 3 0a1.5 1.5 0 1 0 -3 0M566.97 217.98a1.5 1.5 0 1 0 3 0a1.5 1.5 0 1 0 -3 0M567.73 217.98a1.5 1.5 0 1 0 3 0a1.5 1.5 0 1 0 -3 0M568.48 217.98a1.5 1.5 0 1 0 3 0a1.5 1.5 0 1 0 -3 0M569.23 217.98a1.5 1.5 0 1 0 3 0a1.5 1.5 0 1 0 -3 0M569.99 217.98a1.5 1.5 0 1 0 3 0a1.5 1.5 0 1 0 -3 0M570.74 217.98a1.5 1.5 0 1 0 3 0a1.5 1.5 0 1 0 -3 0M571.5 217.98a1.5 1.5 0 1 0 3 0a1.5 1.5 0 1 0 -3 0M572.25 217.98a1.5 1.5 0 1 0 3 0a1.5 1.5 0 1 0 -3 0M573 217.98a1.5 1.5 0 1 0 3 0a1.5 1.5 0 1 0 -3 0M573.76 217.98a1.5 1.5 0 1 0 3 0a1.5 1.5 0 1 0 -3 0M574.51 217.98a1.5 1.5 0 1 0 3 0a1.5 1.5 0 1 0 -3 0M575.26 217.98a1.5 1.5 0 1 0 3 0a1.5 1.5 0 1 0 -3 0M576.02 217.98a1.5 1.5 0 1 0 3 0a1.5 1.5 0 1 0 -3 0M576.77 217.98a1.5 1.5 0 1 0 3 0a1.5 1.5 0 1 0 -3 0M577.53 217.98a1.5 1.5 0 1 0 3 0a1.5 1.5 0 1 0 -3 0M578.28 217.98a1.5 1.5 0 1 0 3 0a1.5 1.5 0 1 0 -3 0M579.03 217.98a1.5 1.5 0 1 0 3 0a1.5 1.5 0 1 0 -3 0M579.79 217.98a1.5 1.5 0 1 0 3 0a1.5 1.5 0 1 0 -3 0M580.54 217.98a1.5 1.5 0 1 0 3 0a1.5 1.5 0 1 0 -3 0M581.29 217.98a1.5 1.5 0 1 0 3 0a1.5 1.5 0 1 0 -3 0M582.05 217.98a1.5 1.5 0 1 0 3 0a1.5 1.5 0 1 0 -3 0M582.8 217.98a1.5 1.5 0 1 0 3 0a1.5 1.5 0 1 0 -3 0M583.56 217.98a1.5 1.5 0 1 0 3 0a1.5 1.5 0 1 0 -3 0M584.31 217.98a1.5 1.5 0 1 0 3 0a1.5 1.5 0 1 0 -3 0M585.06 217.98a1.5 1.5 0 1 0 3 0a1.5 1.5 0 1 0 -3 0M585.82 217.98a1.5 1.5 0 1 0 3 0a1.5 1.5 0 1 0 -3 0M586.57 217.98a1.5 1.5 0 1 0 3 0a1.5 1.5 0 1 0 -3 0M587.32 217.98a1.5 1.5 0 1 0 3 0a1.5 1.5 0 1 0 -3 0M588.08 217.98a1.5 1.5 0 1 0 3 0a1.5 1.5 0 1 0 -3 0M588.83 217.98a1.5 1.5 0 1 0 3 0a1.5 1.5 0 1 0 -3 0" fill="#ff0000"/>
<rect x="456.5" y="200.5" width="134" height="134" fill="none" stroke="#3a3a3a" stroke-width="1"/>
<path d="M456.5 334.5v-4.0M456.5 200.5v4.0M490 334.5v-4.0M490 200.5v4.0M523.5 334.5v-4.0M523.5 200.5v4.0M557 334.5v-4.0M557 200.5v4.0M590.5 334.5v-4.0M590.5 200.5v4.0M473.25 334.5v-2.5M473.25 200.5v2.5M506.75 334.5v-2.5M506.75 200.5v2.5M540.25 334.5v-2.5M540.25 200.5v2.5M573.75 334.5v-2.5M573.75 200.5v2.5" stroke="#3a3a3a" stroke-width="1" fill="none"/>
<text x="456.5" y="348.1" text-anchor="middle" font-size="12.1">0</text>
<text x="490" y="348.1" text-anchor="middle" font-size="12.1">0.4</text>
<text x="523.5" y="348.1" text-anchor="middle" font-size="12.1">0.8</text>
<text x="557" y="348.1" text-anchor="middle" font-size="12.1">1.2</text>
<text x="590.5" y="348.1" text-anchor="middle" font-size="12.1">1.6</text>
<path d="M456.5 334.5h4.0M590.5 334.5h-4.0M456.5 311.2h4.0M590.5 311.2h-4.0M456.5 287.89h4.0M590.5 287.89h-4.0M456.5 264.59h4.0M590.5 264.59h-4.0M456.5 241.28h4.0M590.5 241.28h-4.0M456.5 217.98h4.0M590.5 217.98h-4.0" stroke="#3a3a3a" stroke-width="1" fill="none"/>
<text x="453.7" y="338.6" text-anchor="end" font-size="12.1">0</text>
<text x="453.7" y="315.3" text-anchor="end" font-size="12.1">0.2</text>
<text x="453.7" y="291.99" text-anchor="end" font-size="12.1">0.4</text>
<text x="453.7" y="268.69" text-anchor="end" font-size="12.1">0.6</text>
<text x="453.7" y="245.38" text-anchor="end" font-size="12.1">0.8</text>
<text x="453.7" y="222.08" text-anchor="end" font-size="12.1">1.0</text>
<text x="468.5" y="219.3" font-size="10.8" fill="#3333ff" text-anchor="start"><tspan>RbV</tspan><tspan font-size="7.78" dy="3.02">3</tspan><tspan dy="-3.02">Sb</tspan><tspan font-size="7.78" dy="3.02">5</tspan></text>
<text transform="translate(430.9 82.5) rotate(-90)" text-anchor="middle" font-size="12">Normalized frequency shift</text>
<text x="523.5" y="177.9" text-anchor="middle" font-size="12"><tspan font-style="italic">T</tspan> (K)</text>
<text transform="translate(430.9 267.5) rotate(-90)" text-anchor="middle" font-size="12">Normalized frequency shift</text>
<text x="523.5" y="362.9" text-anchor="middle" font-size="12"><tspan font-style="italic">T</tspan> (K)</text>
<path d="M611.2 233.7H629" stroke="#ff0000" stroke-width="2"/>
<text x="633" y="237.1" font-size="9.3" fill="#1a1a1a" text-anchor="start"><tspan>Pristine</tspan></text>
<path d="M611.2 248.3H629" stroke="#cc6619" stroke-width="2"/>
<text x="633" y="251.7" font-size="9.3" fill="#1a1a1a" text-anchor="start"><tspan>2.0 C/cm</tspan><tspan font-size="6.14" dy="-5.39">2</tspan></text>
<path d="M611.2 262.9H629" stroke="#ffaa00" stroke-width="2"/>
<text x="633" y="266.3" font-size="9.3" fill="#1a1a1a" text-anchor="start"><tspan>5.0 C/cm</tspan><tspan font-size="6.14" dy="-5.39">2</tspan></text>
<path d="M611.2 277.5H629" stroke="#008c00" stroke-width="2"/>
<text x="633" y="280.9" font-size="9.3" fill="#1a1a1a" text-anchor="start"><tspan>7.0 C/cm</tspan><tspan font-size="6.14" dy="-5.39">2</tspan></text>
<path d="M611.2 292.1H629" stroke="#33bbff" stroke-width="2"/>
<text x="633" y="295.5" font-size="9.3" fill="#1a1a1a" text-anchor="start"><tspan>10.0 C/cm</tspan><tspan font-size="6.14" dy="-5.39">2</tspan></text>
<path d="M611.2 306.7H629" stroke="#3333ff" stroke-width="2"/>
<text x="633" y="310.1" font-size="9.3" fill="#1a1a1a" text-anchor="start"><tspan>12.0 C/cm</tspan><tspan font-size="6.14" dy="-5.39">2</tspan></text>
<path d="M611.2 321.3H629" stroke="#6a00dd" stroke-width="2"/>
<text x="633" y="324.7" font-size="9.3" fill="#1a1a1a" text-anchor="start"><tspan>15.0 C/cm</tspan><tspan font-size="6.14" dy="-5.39">2</tspan></text>
<rect x="35.3" y="385.5" width="11.54" height="133.5" fill="#e6e6e6"/>
<rect x="35.3" y="385.5" width="134.2" height="133.5" fill="none" stroke="#3a3a3a" stroke-width="1"/>
<path d="M35.3 519v-4.0M35.3 385.5v4.0M62.14 519v-4.0M62.14 385.5v4.0M88.98 519v-4.0M88.98 385.5v4.0M115.82 519v-4.0M115.82 385.5v4.0M142.66 519v-4.0M142.66 385.5v4.0M169.5 519v-4.0M169.5 385.5v4.0M48.72 519v-2.5M48.72 385.5v2.5M75.56 519v-2.5M75.56 385.5v2.5M102.4 519v-2.5M102.4 385.5v2.5M129.24 519v-2.5M129.24 385.5v2.5M156.08 519v-2.5M156.08 385.5v2.5" stroke="#3a3a3a" stroke-width="1" fill="none"/>
<text x="35.3" y="533.2" text-anchor="middle" font-size="12.1">0</text>
<text x="62.14" y="533.2" text-anchor="middle" font-size="12.1">20</text>
<text x="88.98" y="533.2" text-anchor="middle" font-size="12.1">40</text>
<text x="115.82" y="533.2" text-anchor="middle" font-size="12.1">60</text>
<text x="142.66" y="533.2" text-anchor="middle" font-size="12.1">80</text>
<text x="169.5" y="533.2" text-anchor="middle" font-size="12.1">100</text>
<path d="M35.3 519h4.0M35.3 485.62h4.0M35.3 452.25h4.0M35.3 418.88h4.0M35.3 385.5h4.0" stroke="#3a3a3a" stroke-width="1" fill="none"/>
<text x="32.5" y="523.1" text-anchor="end" font-size="12.1">0</text>
<text x="32.5" y="489.73" text-anchor="end" font-size="12.1">1.0</text>
<text x="32.5" y="456.35" text-anchor="end" font-size="12.1">2.0</text>
<text x="32.5" y="422.98" text-anchor="end" font-size="12.1">3.0</text>
<text x="32.5" y="389.6" text-anchor="end" font-size="12.1">4.0</text>
<path d="M169.5 519h-4.0M169.5 485.62h-4.0M169.5 452.25h-4.0M169.5 418.88h-4.0M169.5 385.5h-4.0M169.5 502.31h-2.5M169.5 468.94h-2.5M169.5 435.56h-2.5M169.5 402.19h-2.5" stroke="#3a3a3a" stroke-width="1" fill="none"/>
<text x="172" y="523.1" text-anchor="start" font-size="12.1">0</text>
<text x="172" y="489.73" text-anchor="start" font-size="12.1">20</text>
<text x="172" y="456.35" text-anchor="start" font-size="12.1">40</text>
<text x="172" y="422.98" text-anchor="start" font-size="12.1">60</text>
<text x="172" y="389.6" text-anchor="start" font-size="12.1">80</text>
<path d="M67.4 405.6H83" stroke="#0000ff" stroke-width="1.8"/>
<path d="M87 405.6l-5.5 -2.8v5.6z" fill="#0000ff"/>
<path d="M88.4 451.2H72.7" stroke="#ff0000" stroke-width="1.8"/>
<path d="M68.7 451.2l5.5 -2.8v5.6z" fill="#ff0000"/>
<path d="M38.65 391.67 42.95 397.35 60.4 412.53 76.9 415.2 98.11 425.38 120.92 428.05 149.5 437.23" stroke="#0000ff" stroke-width="2.9" fill="none" stroke-linejoin="round"/>
<path d="M38.39 490.3 42.68 486.96 60.4 469.27 76.9 471.94 98.11 454.25 120.92 449.25 149.5 442.9" stroke="#ff0000" stroke-width="2.9" fill="none" stroke-linejoin="round"/>
<path d="M38.65 492.91L43.05 497.31L38.65 501.71L34.25 497.31Z" fill="#fff" stroke="#ff0000" stroke-width="1.3"/>
<path d="M60.4 472.55L64.8 476.95L60.4 481.35L56 476.95Z" fill="#fff" stroke="#ff0000" stroke-width="1.3"/>
<path d="M76.9 467.54L81.3 471.94L76.9 476.34L72.5 471.94Z" fill="#fff" stroke="#ff0000" stroke-width="1.3"/>
<path d="M98.11 457.2L102.51 461.6L98.11 466L93.71 461.6Z" fill="#fff" stroke="#ff0000" stroke-width="1.3"/>
<circle cx="38.65" cy="391.67" r="3.6" fill="#0000ff" stroke="#220000" stroke-opacity="0.55" stroke-width="0.8"/>
<circle cx="42.95" cy="397.35" r="3.6" fill="#0000ff" stroke="#220000" stroke-opacity="0.55" stroke-width="0.8"/>
<circle cx="60.4" cy="412.53" r="3.6" fill="#0000ff" stroke="#220000" stroke-opacity="0.55" stroke-width="0.8"/>
<circle cx="76.9" cy="415.2" r="3.6" fill="#0000ff" stroke="#220000" stroke-opacity="0.55" stroke-width="0.8"/>
<circle cx="98.11" cy="425.38" r="3.6" fill="#0000ff" stroke="#220000" stroke-opacity="0.55" stroke-width="0.8"/>
<circle cx="120.92" cy="428.05" r="3.6" fill="#0000ff" stroke="#220000" stroke-opacity="0.55" stroke-width="0.8"/>
<circle cx="149.5" cy="437.23" r="3.6" fill="#0000ff" stroke="#220000" stroke-opacity="0.55" stroke-width="0.8"/>
<circle cx="38.39" cy="490.3" r="3.6" fill="#ff0000" stroke="#220000" stroke-opacity="0.55" stroke-width="0.8"/>
<circle cx="42.68" cy="486.96" r="3.6" fill="#ff0000" stroke="#220000" stroke-opacity="0.55" stroke-width="0.8"/>
<circle cx="60.4" cy="469.27" r="3.6" fill="#ff0000" stroke="#220000" stroke-opacity="0.55" stroke-width="0.8"/>
<circle cx="76.9" cy="471.94" r="3.6" fill="#ff0000" stroke="#220000" stroke-opacity="0.55" stroke-width="0.8"/>
<circle cx="98.11" cy="454.25" r="3.6" fill="#ff0000" stroke="#220000" stroke-opacity="0.55" stroke-width="0.8"/>
<circle cx="120.92" cy="449.25" r="3.6" fill="#ff0000" stroke="#220000" stroke-opacity="0.55" stroke-width="0.8"/>
<circle cx="149.5" cy="442.9" r="3.6" fill="#ff0000" stroke="#220000" stroke-opacity="0.55" stroke-width="0.8"/>
<text x="159.5" y="505.5" font-size="12" fill="#ff0000" text-anchor="end"><tspan>KV</tspan><tspan font-size="8.64" dy="3.36">3</tspan><tspan dy="-3.36">Sb</tspan><tspan font-size="8.64" dy="3.36">5</tspan></text>
<rect x="245.5" y="385.5" width="13.9" height="133.8" fill="#e6e6e6"/>
<rect x="245.5" y="385.5" width="135" height="133.8" fill="none" stroke="#3a3a3a" stroke-width="1"/>
<path d="M245.5 519.3v-4.0M245.5 385.5v4.0M272.5 519.3v-4.0M272.5 385.5v4.0M299.5 519.3v-4.0M299.5 385.5v4.0M326.5 519.3v-4.0M326.5 385.5v4.0M353.5 519.3v-4.0M353.5 385.5v4.0M380.5 519.3v-4.0M380.5 385.5v4.0M259 519.3v-2.5M259 385.5v2.5M286 519.3v-2.5M286 385.5v2.5M313 519.3v-2.5M313 385.5v2.5M340 519.3v-2.5M340 385.5v2.5M367 519.3v-2.5M367 385.5v2.5" stroke="#3a3a3a" stroke-width="1" fill="none"/>
<text x="245.5" y="533.5" text-anchor="middle" font-size="12.1">0</text>
<text x="272.5" y="533.5" text-anchor="middle" font-size="12.1">20</text>
<text x="299.5" y="533.5" text-anchor="middle" font-size="12.1">40</text>
<text x="326.5" y="533.5" text-anchor="middle" font-size="12.1">60</text>
<text x="353.5" y="533.5" text-anchor="middle" font-size="12.1">80</text>
<text x="380.5" y="533.5" text-anchor="middle" font-size="12.1">100</text>
<path d="M245.5 519.3h4.0M245.5 497h4.0M245.5 474.7h4.0M245.5 452.4h4.0M245.5 430.1h4.0M245.5 407.8h4.0M245.5 385.5h4.0" stroke="#3a3a3a" stroke-width="1" fill="none"/>
<text x="242.7" y="523.4" text-anchor="end" font-size="12.1">0</text>
<text x="242.7" y="501.1" text-anchor="end" font-size="12.1">0.5</text>
<text x="242.7" y="478.8" text-anchor="end" font-size="12.1">1.0</text>
<text x="242.7" y="456.5" text-anchor="end" font-size="12.1">1.5</text>
<text x="242.7" y="434.2" text-anchor="end" font-size="12.1">2.0</text>
<text x="242.7" y="411.9" text-anchor="end" font-size="12.1">2.5</text>
<text x="242.7" y="389.6" text-anchor="end" font-size="12.1">3.0</text>
<path d="M380.5 519.3h-4.0M380.5 497h-4.0M380.5 474.7h-4.0M380.5 452.4h-4.0M380.5 430.1h-4.0M380.5 407.8h-4.0M380.5 385.5h-4.0M380.5 508.15h-2.5M380.5 485.85h-2.5M380.5 463.55h-2.5M380.5 441.25h-2.5M380.5 418.95h-2.5M380.5 396.65h-2.5" stroke="#3a3a3a" stroke-width="1" fill="none"/>
<text x="383" y="523.4" text-anchor="start" font-size="12.1">0</text>
<text x="383" y="501.1" text-anchor="start" font-size="12.1">20</text>
<text x="383" y="478.8" text-anchor="start" font-size="12.1">40</text>
<text x="383" y="456.5" text-anchor="start" font-size="12.1">60</text>
<text x="383" y="434.2" text-anchor="start" font-size="12.1">80</text>
<text x="383" y="411.9" text-anchor="start" font-size="12.1">100</text>
<text x="383" y="389.6" text-anchor="start" font-size="12.1">120</text>
<path d="M287.6 408.9H303.6" stroke="#0000ff" stroke-width="1.8"/>
<path d="M307.6 408.9l-5.5 -2.8v5.6z" fill="#0000ff"/>
<path d="M310 466.9H294.4" stroke="#ff0000" stroke-width="1.8"/>
<path d="M290.4 466.9l5.5 -2.8v5.6z" fill="#ff0000"/>
<path d="M249.41 399.55 273.04 410.25 283.7 418.06 304.36 419.17 315.02 420.06 334.06 419.62 377.53 428.99" stroke="#0000ff" stroke-width="2.9" fill="none" stroke-linejoin="round"/>
<path d="M248.47 487.63 273.04 484.51 283.98 480.05 304.9 477.38 319.35 476.48 334.6 464.89 377.8 446.6" stroke="#ff0000" stroke-width="2.9" fill="none" stroke-linejoin="round"/>
<path d="M248.47 481.9L252.87 486.3L248.47 490.7L244.07 486.3Z" fill="#fff" stroke="#ff0000" stroke-width="1.3"/>
<path d="M283.98 479.22L288.38 483.62L283.98 488.02L279.58 483.62Z" fill="#fff" stroke="#ff0000" stroke-width="1.3"/>
<path d="M304.9 471.64L309.3 476.04L304.9 480.44L300.5 476.04Z" fill="#fff" stroke="#ff0000" stroke-width="1.3"/>
<path d="M318.94 468.96L323.34 473.36L318.94 477.76L314.54 473.36Z" fill="#fff" stroke="#ff0000" stroke-width="1.3"/>
<circle cx="249.41" cy="399.55" r="3.6" fill="#0000ff" stroke="#220000" stroke-opacity="0.55" stroke-width="0.8"/>
<circle cx="273.04" cy="410.25" r="3.6" fill="#0000ff" stroke="#220000" stroke-opacity="0.55" stroke-width="0.8"/>
<circle cx="283.7" cy="418.06" r="3.6" fill="#0000ff" stroke="#220000" stroke-opacity="0.55" stroke-width="0.8"/>
<circle cx="304.36" cy="419.17" r="3.6" fill="#0000ff" stroke="#220000" stroke-opacity="0.55" stroke-width="0.8"/>
<circle cx="315.02" cy="420.06" r="3.6" fill="#0000ff" stroke="#220000" stroke-opacity="0.55" stroke-width="0.8"/>
<circle cx="334.06" cy="419.62" r="3.6" fill="#0000ff" stroke="#220000" stroke-opacity="0.55" stroke-width="0.8"/>
<circle cx="377.53" cy="428.99" r="3.6" fill="#0000ff" stroke="#220000" stroke-opacity="0.55" stroke-width="0.8"/>
<circle cx="248.47" cy="487.63" r="3.6" fill="#ff0000" stroke="#220000" stroke-opacity="0.55" stroke-width="0.8"/>
<circle cx="273.04" cy="484.51" r="3.6" fill="#ff0000" stroke="#220000" stroke-opacity="0.55" stroke-width="0.8"/>
<circle cx="283.98" cy="480.05" r="3.6" fill="#ff0000" stroke="#220000" stroke-opacity="0.55" stroke-width="0.8"/>
<circle cx="304.9" cy="477.38" r="3.6" fill="#ff0000" stroke="#220000" stroke-opacity="0.55" stroke-width="0.8"/>
<circle cx="319.35" cy="476.48" r="3.6" fill="#ff0000" stroke="#220000" stroke-opacity="0.55" stroke-width="0.8"/>
<circle cx="334.6" cy="464.89" r="3.6" fill="#ff0000" stroke="#220000" stroke-opacity="0.55" stroke-width="0.8"/>
<circle cx="377.8" cy="446.6" r="3.6" fill="#ff0000" stroke="#220000" stroke-opacity="0.55" stroke-width="0.8"/>
<text x="370.3" y="505.6" font-size="12" fill="#3333ff" text-anchor="end"><tspan>RbV</tspan><tspan font-size="8.64" dy="3.36">3</tspan><tspan dy="-3.36">Sb</tspan><tspan font-size="8.64" dy="3.36">5</tspan></text>
<rect x="456.3" y="385.5" width="20.48" height="133.8" fill="#e6e6e6"/>
<rect x="456.3" y="385.5" width="134.3" height="133.8" fill="none" stroke="#3a3a3a" stroke-width="1"/>
<path d="M456.3 519.3v-4.0M456.3 385.5v4.0M489.88 519.3v-4.0M489.88 385.5v4.0M523.45 519.3v-4.0M523.45 385.5v4.0M557.02 519.3v-4.0M557.02 385.5v4.0M590.6 519.3v-4.0M590.6 385.5v4.0M473.09 519.3v-2.5M473.09 385.5v2.5M506.66 519.3v-2.5M506.66 385.5v2.5M540.24 519.3v-2.5M540.24 385.5v2.5M573.81 519.3v-2.5M573.81 385.5v2.5" stroke="#3a3a3a" stroke-width="1" fill="none"/>
<text x="456.3" y="533.5" text-anchor="middle" font-size="12.1">0</text>
<text x="489.88" y="533.5" text-anchor="middle" font-size="12.1">20</text>
<text x="523.45" y="533.5" text-anchor="middle" font-size="12.1">40</text>
<text x="557.02" y="533.5" text-anchor="middle" font-size="12.1">60</text>
<text x="590.6" y="533.5" text-anchor="middle" font-size="12.1">80</text>
<path d="M456.3 519.3h4.0M456.3 485.85h4.0M456.3 452.4h4.0M456.3 418.95h4.0M456.3 385.5h4.0" stroke="#3a3a3a" stroke-width="1" fill="none"/>
<text x="453.5" y="523.4" text-anchor="end" font-size="12.1">0</text>
<text x="453.5" y="489.95" text-anchor="end" font-size="12.1">1.0</text>
<text x="453.5" y="456.5" text-anchor="end" font-size="12.1">2.0</text>
<text x="453.5" y="423.05" text-anchor="end" font-size="12.1">3.0</text>
<text x="453.5" y="389.6" text-anchor="end" font-size="12.1">4.0</text>
<path d="M590.6 519.3h-4.0M590.6 492.54h-4.0M590.6 465.78h-4.0M590.6 439.02h-4.0M590.6 412.26h-4.0M590.6 385.5h-4.0M590.6 505.92h-2.5M590.6 479.16h-2.5M590.6 452.4h-2.5M590.6 425.64h-2.5M590.6 398.88h-2.5" stroke="#3a3a3a" stroke-width="1" fill="none"/>
<text x="593.1" y="523.4" text-anchor="start" font-size="12.1">0</text>
<text x="593.1" y="496.64" text-anchor="start" font-size="12.1">20</text>
<text x="593.1" y="469.88" text-anchor="start" font-size="12.1">40</text>
<text x="593.1" y="443.12" text-anchor="start" font-size="12.1">60</text>
<text x="593.1" y="416.36" text-anchor="start" font-size="12.1">80</text>
<text x="593.1" y="389.6" text-anchor="start" font-size="12.1">100</text>
<path d="M504 400.3H519.7" stroke="#0000ff" stroke-width="1.8"/>
<path d="M523.7 400.3l-5.5 -2.8v5.6z" fill="#0000ff"/>
<path d="M506.2 458H490.6" stroke="#ff0000" stroke-width="1.8"/>
<path d="M486.6 458l5.5 -2.8v5.6z" fill="#ff0000"/>
<path d="M456.64 395.27 466.04 399.42 498.44 406.91 572.13 410.65" stroke="#0000ff" stroke-width="2.9" fill="none" stroke-linejoin="round"/>
<path d="M456.3 422.63 465.7 439.35 498.44 440.69 572.13 446.38" stroke="#ff0000" stroke-width="2.9" fill="none" stroke-linejoin="round"/>
<path d="M456.3 418.23L460.7 422.63L456.3 427.03L451.9 422.63Z" fill="#fff" stroke="#ff0000" stroke-width="1.3"/>
<path d="M465.7 441.98L470.1 446.38L465.7 450.78L461.3 446.38Z" fill="#fff" stroke="#ff0000" stroke-width="1.3"/>
<path d="M498.44 443.99L502.84 448.39L498.44 452.79L494.04 448.39Z" fill="#fff" stroke="#ff0000" stroke-width="1.3"/>
<path d="M572.13 446.66L576.53 451.06L572.13 455.46L567.73 451.06Z" fill="#fff" stroke="#ff0000" stroke-width="1.3"/>
<circle cx="456.64" cy="395.27" r="3.6" fill="#0000ff" stroke="#220000" stroke-opacity="0.55" stroke-width="0.8"/>
<circle cx="466.04" cy="399.42" r="3.6" fill="#0000ff" stroke="#220000" stroke-opacity="0.55" stroke-width="0.8"/>
<circle cx="498.44" cy="406.91" r="3.6" fill="#0000ff" stroke="#220000" stroke-opacity="0.55" stroke-width="0.8"/>
<circle cx="572.13" cy="410.65" r="3.6" fill="#0000ff" stroke="#220000" stroke-opacity="0.55" stroke-width="0.8"/>
<circle cx="456.3" cy="422.63" r="3.6" fill="#ff0000" stroke="#220000" stroke-opacity="0.55" stroke-width="0.8"/>
<circle cx="465.7" cy="439.35" r="3.6" fill="#ff0000" stroke="#220000" stroke-opacity="0.55" stroke-width="0.8"/>
<circle cx="498.44" cy="440.69" r="3.6" fill="#ff0000" stroke="#220000" stroke-opacity="0.55" stroke-width="0.8"/>
<circle cx="572.13" cy="446.38" r="3.6" fill="#ff0000" stroke="#220000" stroke-opacity="0.55" stroke-width="0.8"/>
<text x="580.5" y="499.8" font-size="12" fill="#22a822" text-anchor="end"><tspan>CsV</tspan><tspan font-size="8.64" dy="3.36">3</tspan><tspan dy="-3.36">Sb</tspan><tspan font-size="8.64" dy="3.36">5</tspan></text>
<text x="580.3" y="511.3" text-anchor="end" font-size="7.2" fill="#333">(Roppongi <tspan font-style="italic">et.al.</tspan>)</text>
<text transform="translate(11 452.25) rotate(-90)" text-anchor="middle" font-size="12"><tspan font-style="italic">T</tspan><tspan font-size="8.2" dy="2.6">c</tspan><tspan dy="-2.6"> (K)</tspan></text>
<text transform="translate(194.8 452.25) rotate(90)" text-anchor="middle" font-size="12"><tspan font-style="italic">T</tspan><tspan font-size="8.2" dy="2.6">CDW</tspan><tspan dy="-2.6"> (K)</tspan></text>
<text x="102.4" y="547.5" text-anchor="middle" font-size="12"><tspan font-style="italic">ρ</tspan><tspan font-size="8.2" dy="3.1">0</tspan><tspan dy="-3.1"> (μΩ cm)</tspan></text>
<text transform="translate(219 452.4) rotate(-90)" text-anchor="middle" font-size="12"><tspan font-style="italic">T</tspan><tspan font-size="8.2" dy="2.6">c</tspan><tspan dy="-2.6"> (K)</tspan></text>
<text transform="translate(406 452.4) rotate(90)" text-anchor="middle" font-size="12"><tspan font-style="italic">T</tspan><tspan font-size="8.2" dy="2.6">CDW</tspan><tspan dy="-2.6"> (K)</tspan></text>
<text x="313" y="547.8" text-anchor="middle" font-size="12"><tspan font-style="italic">ρ</tspan><tspan font-size="8.2" dy="3.1">0</tspan><tspan dy="-3.1"> (μΩ cm)</tspan></text>
<text transform="translate(429.5 452.4) rotate(-90)" text-anchor="middle" font-size="12"><tspan font-style="italic">T</tspan><tspan font-size="8.2" dy="2.6">c</tspan><tspan dy="-2.6"> (K)</tspan></text>
<text transform="translate(616 452.4) rotate(90)" text-anchor="middle" font-size="12"><tspan font-style="italic">T</tspan><tspan font-size="8.2" dy="2.6">CDW</tspan><tspan dy="-2.6"> (K)</tspan></text>
<text x="523.45" y="547.8" text-anchor="middle" font-size="12"><tspan font-style="italic">ρ</tspan><tspan font-size="8.2" dy="3.1">0</tspan><tspan dy="-3.1"> (μΩ cm)</tspan></text>
<path d="M617.1 492.4H637" stroke="#ff0000" stroke-width="2.6"/>
<circle cx="627" cy="492.4" r="3.6" fill="#ff0000" stroke="#220000" stroke-opacity="0.55" stroke-width="0.8"/>
<path d="M627 501.9L631.4 506.3L627 510.7L622.6 506.3Z" fill="#fff" stroke="#ff0000" stroke-width="1.3"/>
<path d="M617.1 520.3H637" stroke="#0000ff" stroke-width="2.6"/>
<circle cx="627" cy="520.3" r="3.6" fill="#0000ff" stroke="#220000" stroke-opacity="0.55" stroke-width="0.8"/>
<text x="642.8" y="496.3" font-size="10.8" fill="#1a1a1a" text-anchor="start"><tspan font-style="italic">T</tspan><tspan font-size="7.56" dy="3.02" dx="-1.08">c</tspan></text>
<text x="642.8" y="510.2" font-size="10.8" fill="#1a1a1a" text-anchor="start"><tspan font-style="italic">T</tspan><tspan font-size="7.56" dy="3.02" dx="-1.08">c</tspan><tspan dy="-3.02"> (TDO)</tspan></text>
<text x="642.8" y="524.2" font-size="10.8" fill="#1a1a1a" text-anchor="start"><tspan font-style="italic">T</tspan><tspan font-size="6.91" dy="3.02" dx="-1.08">CDW</tspan></text>
</svg></body></html>
